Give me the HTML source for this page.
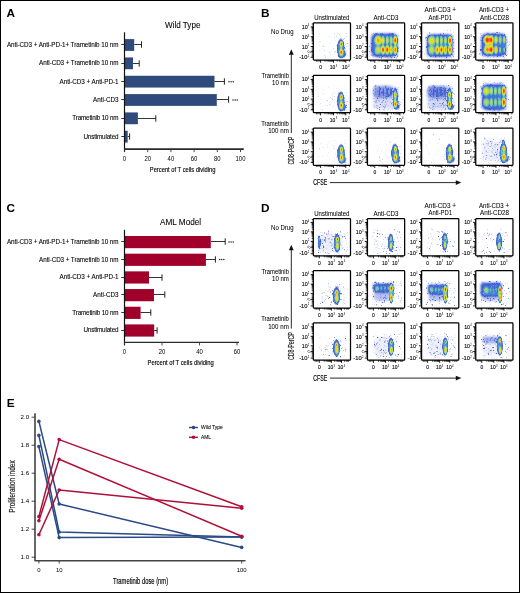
<!DOCTYPE html>
<html><head><meta charset="utf-8"><style>
html,body{margin:0;padding:0;background:#fff;}
svg{display:block;will-change:transform;}
text{font-family:"Liberation Sans", sans-serif;}
</style></head><body>
<svg width="520" height="593" viewBox="0 0 520 593">
<defs>
<filter id="dens" x="-10%" y="-10%" width="120%" height="120%" color-interpolation-filters="sRGB">
  <feGaussianBlur in="SourceAlpha" stdDeviation="0.6"/>
  <feColorMatrix type="matrix" values="0 0 0 1 0  0 0 0 1 0  0 0 0 1 0  0 0 0 1 0"/>
  <feComponentTransfer>
    <feFuncR type="table" tableValues="1 .70 .25 .28 .45 .62 .80 .93 1 .98 .92 .82"/>
    <feFuncG type="table" tableValues="1 .74 .36 .55 .75 .83 .86 .88 .72 .45 .22 .10"/>
    <feFuncB type="table" tableValues="1 .94 .82 .85 .70 .45 .28 .15 .10 .10 .10 .12"/>
    <feFuncA type="table" tableValues="0 .75 1 1 1 1 1 1 1 1 1 1"/>
  </feComponentTransfer>
</filter>
<filter id="soft" x="-30%" y="-30%" width="160%" height="160%"><feGaussianBlur stdDeviation="1.4"/></filter>
<radialGradient id="rg"><stop offset="0" stop-color="#000" stop-opacity="1"/><stop offset="0.25" stop-color="#000" stop-opacity="0.9"/><stop offset="0.5" stop-color="#000" stop-opacity="0.62"/><stop offset="0.75" stop-color="#000" stop-opacity="0.28"/><stop offset="1" stop-color="#000" stop-opacity="0"/></radialGradient>
<radialGradient id="rf"><stop offset="0" stop-color="#000" stop-opacity="1"/><stop offset="0.6" stop-color="#000" stop-opacity="0.92"/><stop offset="0.85" stop-color="#000" stop-opacity="0.55"/><stop offset="1" stop-color="#000" stop-opacity="0"/></radialGradient>
</defs>
<rect x="0" y="0" width="520" height="593" fill="#fff"/>
<text x="6.60" y="16.70" font-size="11.8" fill="#000" font-weight="bold">A</text>
<text x="260.90" y="16.70" font-size="11.8" fill="#000" font-weight="bold">B</text>
<text x="6.50" y="212.20" font-size="11.8" fill="#000" font-weight="bold">C</text>
<text x="261.00" y="212.00" font-size="11.8" fill="#000" font-weight="bold">D</text>
<text x="6.80" y="407.30" font-size="11.8" fill="#000" font-weight="bold">E</text>
<text x="165.00" y="27.70" font-size="9" textLength="35.40" lengthAdjust="spacingAndGlyphs" stroke="#222" stroke-width="0.1">Wild Type</text>
<rect x="125.00" y="39.10" width="9.20" height="11.80" fill="#2e4b7c"/>
<line x1="134.20" y1="44.50" x2="141.50" y2="44.50" stroke="#333" stroke-width="1.0"/>
<line x1="141.50" y1="41.30" x2="141.50" y2="47.70" stroke="#222" stroke-width="1.0"/>
<line x1="121.30" y1="44.50" x2="124.50" y2="44.50" stroke="#333" stroke-width="1.0"/>
<text x="118.50" y="47.00" font-size="6.3" text-anchor="end" textLength="111.60" lengthAdjust="spacing" stroke="#222" stroke-width="0.1">Anti-CD3 + Anti-PD-1+ Trametinib 10 nm</text>
<rect x="125.00" y="57.43" width="8.00" height="11.80" fill="#2e4b7c"/>
<line x1="133.00" y1="63.50" x2="139.20" y2="63.50" stroke="#333" stroke-width="1.0"/>
<line x1="139.20" y1="60.30" x2="139.20" y2="66.70" stroke="#222" stroke-width="1.0"/>
<line x1="121.30" y1="63.50" x2="124.50" y2="63.50" stroke="#333" stroke-width="1.0"/>
<text x="118.50" y="65.33" font-size="6.3" text-anchor="end" textLength="79.40" lengthAdjust="spacing" stroke="#222" stroke-width="0.1">Anti-CD3 + Trametinib 10 nm</text>
<rect x="125.00" y="75.76" width="89.50" height="11.80" fill="#2e4b7c"/>
<line x1="214.50" y1="81.50" x2="224.40" y2="81.50" stroke="#333" stroke-width="1.0"/>
<line x1="224.40" y1="78.30" x2="224.40" y2="84.70" stroke="#222" stroke-width="1.0"/>
<line x1="121.30" y1="81.50" x2="124.50" y2="81.50" stroke="#333" stroke-width="1.0"/>
<text x="118.50" y="83.66" font-size="6.3" text-anchor="end" textLength="58.90" lengthAdjust="spacing" stroke="#222" stroke-width="0.1">Anti-CD3 + Anti-PD-1</text>
<rect x="125.00" y="94.09" width="91.80" height="11.80" fill="#2e4b7c"/>
<line x1="216.80" y1="99.50" x2="228.60" y2="99.50" stroke="#333" stroke-width="1.0"/>
<line x1="228.60" y1="96.30" x2="228.60" y2="102.70" stroke="#222" stroke-width="1.0"/>
<line x1="121.30" y1="99.50" x2="124.50" y2="99.50" stroke="#333" stroke-width="1.0"/>
<text x="118.50" y="101.99" font-size="6.3" text-anchor="end" textLength="25.40" lengthAdjust="spacing" stroke="#222" stroke-width="0.1">Anti-CD3</text>
<rect x="125.00" y="112.42" width="12.90" height="11.80" fill="#2e4b7c"/>
<line x1="137.90" y1="118.50" x2="155.80" y2="118.50" stroke="#333" stroke-width="1.0"/>
<line x1="155.80" y1="115.30" x2="155.80" y2="121.70" stroke="#222" stroke-width="1.0"/>
<line x1="121.30" y1="118.50" x2="124.50" y2="118.50" stroke="#333" stroke-width="1.0"/>
<text x="118.50" y="120.32" font-size="6.3" text-anchor="end" textLength="46.20" lengthAdjust="spacing" stroke="#222" stroke-width="0.1">Trametinib 10 nm</text>
<rect x="125.00" y="130.75" width="2.70" height="11.80" fill="#2e4b7c"/>
<line x1="127.70" y1="136.50" x2="129.60" y2="136.50" stroke="#333" stroke-width="1.0"/>
<line x1="129.60" y1="133.30" x2="129.60" y2="139.70" stroke="#222" stroke-width="1.0"/>
<line x1="121.30" y1="136.50" x2="124.50" y2="136.50" stroke="#333" stroke-width="1.0"/>
<text x="118.50" y="138.65" font-size="6.3" text-anchor="end" textLength="35.10" lengthAdjust="spacing" stroke="#222" stroke-width="0.1">Unstimulated</text>
<circle cx="229.00" cy="81.66" r="0.75" fill="#222"/>
<circle cx="231.10" cy="81.66" r="0.75" fill="#222"/>
<circle cx="233.20" cy="81.66" r="0.75" fill="#222"/>
<circle cx="233.00" cy="99.99" r="0.75" fill="#222"/>
<circle cx="235.10" cy="99.99" r="0.75" fill="#222"/>
<circle cx="237.20" cy="99.99" r="0.75" fill="#222"/>
<line x1="124.50" y1="32.30" x2="124.50" y2="151.90" stroke="#111" stroke-width="1.2"/>
<line x1="124.00" y1="149.10" x2="243.80" y2="149.10" stroke="#2a2a2a" stroke-width="1.7"/>
<line x1="124.50" y1="149.10" x2="124.50" y2="152.10" stroke="#333" stroke-width="0.9"/>
<text x="124.50" y="160.90" font-size="6.3" text-anchor="middle" textLength="3.30" lengthAdjust="spacingAndGlyphs">0</text>
<line x1="147.70" y1="149.10" x2="147.70" y2="152.10" stroke="#333" stroke-width="0.9"/>
<text x="147.70" y="160.90" font-size="6.3" text-anchor="middle" textLength="6.60" lengthAdjust="spacingAndGlyphs">20</text>
<line x1="170.90" y1="149.10" x2="170.90" y2="152.10" stroke="#333" stroke-width="0.9"/>
<text x="170.90" y="160.90" font-size="6.3" text-anchor="middle" textLength="6.60" lengthAdjust="spacingAndGlyphs">40</text>
<line x1="194.10" y1="149.10" x2="194.10" y2="152.10" stroke="#333" stroke-width="0.9"/>
<text x="194.10" y="160.90" font-size="6.3" text-anchor="middle" textLength="6.60" lengthAdjust="spacingAndGlyphs">60</text>
<line x1="217.30" y1="149.10" x2="217.30" y2="152.10" stroke="#333" stroke-width="0.9"/>
<text x="217.30" y="160.90" font-size="6.3" text-anchor="middle" textLength="6.60" lengthAdjust="spacingAndGlyphs">80</text>
<line x1="240.50" y1="149.10" x2="240.50" y2="152.10" stroke="#333" stroke-width="0.9"/>
<text x="240.50" y="160.90" font-size="6.3" text-anchor="middle" textLength="9.90" lengthAdjust="spacingAndGlyphs">100</text>
<text x="149.80" y="171.80" font-size="8" textLength="65.60" lengthAdjust="spacingAndGlyphs" stroke="#222" stroke-width="0.2">Percent of T cells dividing</text>
<text x="160.00" y="225.00" font-size="9" textLength="41.20" lengthAdjust="spacingAndGlyphs" stroke="#222" stroke-width="0.1">AML Model</text>
<rect x="125.00" y="236.00" width="85.80" height="12.20" fill="#a0002a"/>
<line x1="210.80" y1="241.50" x2="225.20" y2="241.50" stroke="#333" stroke-width="1.0"/>
<line x1="225.20" y1="238.30" x2="225.20" y2="244.70" stroke="#222" stroke-width="1.0"/>
<line x1="121.30" y1="241.50" x2="124.50" y2="241.50" stroke="#333" stroke-width="1.0"/>
<text x="118.50" y="243.90" font-size="6.3" text-anchor="end" textLength="111.60" lengthAdjust="spacing" stroke="#222" stroke-width="0.1">Anti-CD3 + Anti-PD-1+ Trametinib 10 nm</text>
<rect x="125.00" y="253.68" width="80.90" height="12.20" fill="#a0002a"/>
<line x1="205.90" y1="259.50" x2="215.40" y2="259.50" stroke="#333" stroke-width="1.0"/>
<line x1="215.40" y1="256.30" x2="215.40" y2="262.70" stroke="#222" stroke-width="1.0"/>
<line x1="121.30" y1="259.50" x2="124.50" y2="259.50" stroke="#333" stroke-width="1.0"/>
<text x="118.50" y="261.58" font-size="6.3" text-anchor="end" textLength="79.40" lengthAdjust="spacing" stroke="#222" stroke-width="0.1">Anti-CD3 + Trametinib 10 nm</text>
<rect x="125.00" y="271.36" width="24.00" height="12.20" fill="#a0002a"/>
<line x1="149.00" y1="277.50" x2="162.00" y2="277.50" stroke="#333" stroke-width="1.0"/>
<line x1="162.00" y1="274.30" x2="162.00" y2="280.70" stroke="#222" stroke-width="1.0"/>
<line x1="121.30" y1="277.50" x2="124.50" y2="277.50" stroke="#333" stroke-width="1.0"/>
<text x="118.50" y="279.26" font-size="6.3" text-anchor="end" textLength="58.90" lengthAdjust="spacing" stroke="#222" stroke-width="0.1">Anti-CD3 + Anti-PD-1</text>
<rect x="125.00" y="289.04" width="29.00" height="12.20" fill="#a0002a"/>
<line x1="154.00" y1="294.50" x2="164.80" y2="294.50" stroke="#333" stroke-width="1.0"/>
<line x1="164.80" y1="291.30" x2="164.80" y2="297.70" stroke="#222" stroke-width="1.0"/>
<line x1="121.30" y1="294.50" x2="124.50" y2="294.50" stroke="#333" stroke-width="1.0"/>
<text x="118.50" y="296.94" font-size="6.3" text-anchor="end" textLength="25.40" lengthAdjust="spacing" stroke="#222" stroke-width="0.1">Anti-CD3</text>
<rect x="125.00" y="306.72" width="15.60" height="12.20" fill="#a0002a"/>
<line x1="140.60" y1="312.50" x2="150.80" y2="312.50" stroke="#333" stroke-width="1.0"/>
<line x1="150.80" y1="309.30" x2="150.80" y2="315.70" stroke="#222" stroke-width="1.0"/>
<line x1="121.30" y1="312.50" x2="124.50" y2="312.50" stroke="#333" stroke-width="1.0"/>
<text x="118.50" y="314.62" font-size="6.3" text-anchor="end" textLength="46.20" lengthAdjust="spacing" stroke="#222" stroke-width="0.1">Trametinib 10 nm</text>
<rect x="125.00" y="324.40" width="29.20" height="12.20" fill="#a0002a"/>
<line x1="154.20" y1="330.50" x2="157.10" y2="330.50" stroke="#333" stroke-width="1.0"/>
<line x1="157.10" y1="327.30" x2="157.10" y2="333.70" stroke="#222" stroke-width="1.0"/>
<line x1="121.30" y1="330.50" x2="124.50" y2="330.50" stroke="#333" stroke-width="1.0"/>
<text x="118.50" y="332.30" font-size="6.3" text-anchor="end" textLength="35.10" lengthAdjust="spacing" stroke="#222" stroke-width="0.1">Unstimulated</text>
<circle cx="229.00" cy="241.90" r="0.75" fill="#222"/>
<circle cx="231.10" cy="241.90" r="0.75" fill="#222"/>
<circle cx="233.20" cy="241.90" r="0.75" fill="#222"/>
<circle cx="219.60" cy="259.58" r="0.75" fill="#222"/>
<circle cx="221.70" cy="259.58" r="0.75" fill="#222"/>
<circle cx="223.80" cy="259.58" r="0.75" fill="#222"/>
<line x1="124.50" y1="229.80" x2="124.50" y2="345.20" stroke="#111" stroke-width="1.2"/>
<line x1="124.00" y1="342.40" x2="239.00" y2="342.40" stroke="#2a2a2a" stroke-width="1.2"/>
<line x1="124.50" y1="342.40" x2="124.50" y2="345.40" stroke="#333" stroke-width="0.9"/>
<text x="124.50" y="354.20" font-size="6.3" text-anchor="middle" textLength="3.30" lengthAdjust="spacingAndGlyphs">0</text>
<line x1="162.00" y1="342.40" x2="162.00" y2="345.40" stroke="#333" stroke-width="0.9"/>
<text x="162.00" y="354.20" font-size="6.3" text-anchor="middle" textLength="6.60" lengthAdjust="spacingAndGlyphs">20</text>
<line x1="199.50" y1="342.40" x2="199.50" y2="345.40" stroke="#333" stroke-width="0.9"/>
<text x="199.50" y="354.20" font-size="6.3" text-anchor="middle" textLength="6.60" lengthAdjust="spacingAndGlyphs">40</text>
<line x1="237.00" y1="342.40" x2="237.00" y2="345.40" stroke="#333" stroke-width="0.9"/>
<text x="237.00" y="354.20" font-size="6.3" text-anchor="middle" textLength="6.60" lengthAdjust="spacingAndGlyphs">60</text>
<text x="147.50" y="365.00" font-size="8" textLength="66.20" lengthAdjust="spacingAndGlyphs" stroke="#222" stroke-width="0.2">Percent of T cells dividing</text>
<path d="M35 413.2V560.8H245.5" fill="none" stroke="#444" stroke-width="1.6" stroke-linejoin="round"/>
<line x1="31.60" y1="557.20" x2="35.00" y2="557.20" stroke="#333" stroke-width="0.9"/>
<text x="29.20" y="559.00" font-size="6.2" text-anchor="end" textLength="8.60" lengthAdjust="spacingAndGlyphs">1.0</text>
<line x1="31.60" y1="529.20" x2="35.00" y2="529.20" stroke="#333" stroke-width="0.9"/>
<text x="29.20" y="531.00" font-size="6.2" text-anchor="end" textLength="8.60" lengthAdjust="spacingAndGlyphs">1.2</text>
<line x1="31.60" y1="501.20" x2="35.00" y2="501.20" stroke="#333" stroke-width="0.9"/>
<text x="29.20" y="503.00" font-size="6.2" text-anchor="end" textLength="8.60" lengthAdjust="spacingAndGlyphs">1.4</text>
<line x1="31.60" y1="473.20" x2="35.00" y2="473.20" stroke="#333" stroke-width="0.9"/>
<text x="29.20" y="475.00" font-size="6.2" text-anchor="end" textLength="8.60" lengthAdjust="spacingAndGlyphs">1.6</text>
<line x1="31.60" y1="445.20" x2="35.00" y2="445.20" stroke="#333" stroke-width="0.9"/>
<text x="29.20" y="447.00" font-size="6.2" text-anchor="end" textLength="8.60" lengthAdjust="spacingAndGlyphs">1.8</text>
<line x1="31.60" y1="417.20" x2="35.00" y2="417.20" stroke="#333" stroke-width="0.9"/>
<text x="29.20" y="419.00" font-size="6.2" text-anchor="end" textLength="8.60" lengthAdjust="spacingAndGlyphs">2.0</text>
<line x1="38.90" y1="560.80" x2="38.90" y2="563.50" stroke="#333" stroke-width="0.9"/>
<text x="38.90" y="572.40" font-size="6.2" text-anchor="middle" textLength="3.30" lengthAdjust="spacingAndGlyphs">0</text>
<line x1="59.18" y1="560.80" x2="59.18" y2="563.50" stroke="#333" stroke-width="0.9"/>
<text x="59.18" y="572.40" font-size="6.2" text-anchor="middle" textLength="6.60" lengthAdjust="spacingAndGlyphs">10</text>
<line x1="241.70" y1="560.80" x2="241.70" y2="563.50" stroke="#333" stroke-width="0.9"/>
<text x="241.70" y="572.40" font-size="6.2" text-anchor="middle" textLength="9.90" lengthAdjust="spacingAndGlyphs">100</text>
<text x="113.10" y="584.20" font-size="8.4" textLength="55.00" lengthAdjust="spacingAndGlyphs" stroke="#222" stroke-width="0.2">Trametinib dose (nm)</text>
<text transform="translate(15.4,512.8) rotate(-90)" font-size="8.9" textLength="52.6" lengthAdjust="spacingAndGlyphs" fill="#222" stroke="#222" stroke-width="0.2">Proliferation index</text>
<polyline points="38.90,421.40 59.18,504.00 241.70,547.40" fill="none" stroke="#2b4a86" stroke-width="1.5" stroke-linejoin="round"/>
<circle cx="38.90" cy="421.40" r="1.8" fill="#2b4a86"/>
<circle cx="59.18" cy="504.00" r="1.8" fill="#2b4a86"/>
<circle cx="241.70" cy="547.40" r="1.8" fill="#2b4a86"/>
<polyline points="38.90,435.40 59.18,532.00 241.70,536.90" fill="none" stroke="#2b4a86" stroke-width="1.5" stroke-linejoin="round"/>
<circle cx="38.90" cy="435.40" r="1.8" fill="#2b4a86"/>
<circle cx="59.18" cy="532.00" r="1.8" fill="#2b4a86"/>
<circle cx="241.70" cy="536.90" r="1.8" fill="#2b4a86"/>
<polyline points="38.90,446.60 59.18,537.60 241.70,536.90" fill="none" stroke="#2b4a86" stroke-width="1.5" stroke-linejoin="round"/>
<circle cx="38.90" cy="446.60" r="1.8" fill="#2b4a86"/>
<circle cx="59.18" cy="537.60" r="1.8" fill="#2b4a86"/>
<circle cx="241.70" cy="536.90" r="1.8" fill="#2b4a86"/>
<polyline points="38.90,516.60 59.18,439.60 241.70,506.80" fill="none" stroke="#b0103a" stroke-width="1.5" stroke-linejoin="round"/>
<circle cx="38.90" cy="516.60" r="1.8" fill="#b0103a"/>
<circle cx="59.18" cy="439.60" r="1.8" fill="#b0103a"/>
<circle cx="241.70" cy="506.80" r="1.8" fill="#b0103a"/>
<polyline points="38.90,520.80 59.18,459.20 241.70,536.20" fill="none" stroke="#b0103a" stroke-width="1.5" stroke-linejoin="round"/>
<circle cx="38.90" cy="520.80" r="1.8" fill="#b0103a"/>
<circle cx="59.18" cy="459.20" r="1.8" fill="#b0103a"/>
<circle cx="241.70" cy="536.20" r="1.8" fill="#b0103a"/>
<polyline points="38.90,534.80 59.18,490.00 241.70,508.20" fill="none" stroke="#b0103a" stroke-width="1.5" stroke-linejoin="round"/>
<circle cx="38.90" cy="534.80" r="1.8" fill="#b0103a"/>
<circle cx="59.18" cy="490.00" r="1.8" fill="#b0103a"/>
<circle cx="241.70" cy="508.20" r="1.8" fill="#b0103a"/>
<line x1="189.00" y1="427.50" x2="197.90" y2="427.50" stroke="#2b4a86" stroke-width="1.4"/>
<circle cx="193.5" cy="427.5" r="1.8" fill="#2b4a86"/>
<text x="201.00" y="429.20" font-size="6.1" textLength="21.70" lengthAdjust="spacingAndGlyphs" stroke="#222" stroke-width="0.1">Wild Type</text>
<line x1="189.00" y1="437.30" x2="197.90" y2="437.30" stroke="#b0103a" stroke-width="1.4"/>
<circle cx="193.5" cy="437.3" r="1.8" fill="#b0103a"/>
<text x="201.00" y="439.00" font-size="6.1" textLength="10.00" lengthAdjust="spacingAndGlyphs" stroke="#222" stroke-width="0.1">AML</text>
<path d="M311.7 43.55h1.6M311.7 41.82h1.6M311.7 40.60h1.6M311.7 39.65h1.6M311.7 38.87h1.6M311.7 38.22h1.6M311.7 37.65h1.6M311.7 37.15h1.6M311.7 33.75h1.6M311.7 32.02h1.6M311.7 30.80h1.6M311.7 29.85h1.6M311.7 29.07h1.6M311.7 28.42h1.6M311.7 27.85h1.6M311.7 27.35h1.6M311.7 23.95h1.6M311.7 47.80h1.6M311.7 49.10h1.6M311.7 50.40h1.6M311.7 51.70h1.6M311.7 53.00h1.6M311.7 54.30h1.6M311.7 55.60h1.6M311.7 56.90h1.6M324.94 60.1v1.6M337.19 60.1v1.6M327.09 60.1v1.6M339.34 60.1v1.6M328.63 60.1v1.6M340.88 60.1v1.6M329.81 60.1v1.6M342.06 60.1v1.6M330.78 60.1v1.6M343.03 60.1v1.6M331.60 60.1v1.6M343.85 60.1v1.6M332.31 60.1v1.6M344.56 60.1v1.6M332.94 60.1v1.6M345.19 60.1v1.6M349.44 60.1v1.6M319.20 60.1v1.6M317.80 60.1v1.6M316.40 60.1v1.6" stroke="#111" stroke-width="0.75" fill="none"/>
<path d="M310.7 46.50h2.6M310.7 36.70h2.6M310.7 26.90h2.6M310.7 51.80h2.6M310.7 57.20h2.6M320.60 60.1v2.6M333.50 60.1v2.6M345.75 60.1v2.6" stroke="#111" stroke-width="0.95" fill="none"/>
<clipPath id="c1"><rect x="313.80" y="23.30" width="36.20" height="36.30"/></clipPath>
<g clip-path="url(#c1)"><g filter="url(#dens)">
<path d="M331.5 56.3h.8v.8h-.8zM318.6 40.7h.8v.8h-.8zM333.5 51.8h.8v.8h-.8zM330.4 53.8h.8v.8h-.8zM340.7 49.3h.8v.8h-.8zM333.9 53.9h.8v.8h-.8zM338.4 43.6h.8v.8h-.8zM321.5 38.7h.8v.8h-.8zM318.8 34.1h.8v.8h-.8zM325.7 41.2h.8v.8h-.8zM332.7 54.5h.8v.8h-.8zM335.6 32.8h.8v.8h-.8zM341.7 48.4h.8v.8h-.8zM324.3 54.6h.8v.8h-.8zM342.7 55.7h.8v.8h-.8zM334.3 52.1h.8v.8h-.8zM319.3 41.1h.8v.8h-.8zM339.1 33.6h.8v.8h-.8zM328.0 46.1h.8v.8h-.8zM341.1 54.4h.8v.8h-.8zM322.2 36.1h.8v.8h-.8zM339.6 46.1h.8v.8h-.8zM321.2 33.8h.8v.8h-.8zM330.7 39.0h.8v.8h-.8zM340.5 52.9h.8v.8h-.8zM334.1 33.1h.8v.8h-.8zM346.4 42.8h.8v.8h-.8zM329.6 54.8h.8v.8h-.8zM327.7 47.6h.8v.8h-.8zM318.7 36.1h.8v.8h-.8zM331.3 50.4h.8v.8h-.8zM328.0 43.4h.8v.8h-.8zM336.3 54.8h.8v.8h-.8zM318.3 50.6h.8v.8h-.8zM329.6 42.7h.8v.8h-.8zM323.2 46.3h.8v.8h-.8zM338.0 48.7h.8v.8h-.8zM340.1 45.8h.8v.8h-.8zM334.1 33.7h.8v.8h-.8zM342.7 43.8h.8v.8h-.8zM332.5 46.1h.8v.8h-.8zM340.1 37.6h.8v.8h-.8zM338.8 57.2h.8v.8h-.8zM337.0 33.1h.8v.8h-.8zM333.1 48.2h.8v.8h-.8zM333.2 54.6h.8v.8h-.8zM329.0 56.3h.8v.8h-.8zM335.8 42.8h.8v.8h-.8zM320.8 39.2h.8v.8h-.8zM330.8 33.3h.8v.8h-.8zM333.5 50.2h.8v.8h-.8zM335.4 54.3h.8v.8h-.8zM331.1 52.7h.8v.8h-.8zM344.4 42.9h.8v.8h-.8zM329.1 41.0h.8v.8h-.8zM335.5 44.2h.8v.8h-.8zM330.3 52.5h.8v.8h-.8zM319.3 50.1h.8v.8h-.8zM321.2 42.8h.8v.8h-.8zM321.6 56.7h.8v.8h-.8zM318.9 40.8h.8v.8h-.8zM319.9 52.3h.8v.8h-.8zM331.1 48.8h.8v.8h-.8zM320.8 48.9h.8v.8h-.8zM340.4 55.5h.8v.8h-.8zM344.1 43.4h.8v.8h-.8zM331.4 34.6h.8v.8h-.8zM327.0 54.7h.8v.8h-.8zM329.8 55.2h.8v.8h-.8zM318.6 55.9h.8v.8h-.8zM343.8 37.3h.8v.8h-.8zM337.3 39.7h.8v.8h-.8zM343.2 41.6h.8v.8h-.8zM321.5 53.0h.8v.8h-.8zM340.9 38.3h.8v.8h-.8zM345.5 44.4h.8v.8h-.8zM339.5 40.2h.8v.8h-.8zM340.9 52.3h.8v.8h-.8zM328.9 50.9h.8v.8h-.8zM331.4 51.1h.8v.8h-.8zM326.7 50.1h.8v.8h-.8zM334.5 52.6h.8v.8h-.8zM341.8 35.3h.8v.8h-.8zM345.2 38.1h.8v.8h-.8zM322.2 48.3h.8v.8h-.8zM339.2 50.6h.8v.8h-.8zM343.6 55.5h.8v.8h-.8zM342.2 56.0h.8v.8h-.8zM339.8 41.5h.8v.8h-.8zM338.6 49.5h.8v.8h-.8zM337.1 49.8h.8v.8h-.8zM343.4 44.9h.8v.8h-.8zM348.6 55.9h.8v.8h-.8zM339.9 48.1h.8v.8h-.8zM347.6 46.2h.8v.8h-.8zM343.7 52.6h.8v.8h-.8zM345.2 43.7h.8v.8h-.8zM340.6 51.1h.8v.8h-.8zM340.8 49.3h.8v.8h-.8zM343.0 50.0h.8v.8h-.8zM345.1 53.5h.8v.8h-.8zM333.4 58.4h.8v.8h-.8zM344.2 54.1h.8v.8h-.8zM344.0 57.8h.8v.8h-.8zM344.7 47.2h.8v.8h-.8zM339.2 43.9h.8v.8h-.8zM351.0 58.8h.8v.8h-.8zM339.2 53.0h.8v.8h-.8zM340.1 47.2h.8v.8h-.8zM337.6 49.9h.8v.8h-.8zM344.4 46.8h.8v.8h-.8zM342.4 55.7h.8v.8h-.8zM345.9 40.1h.8v.8h-.8zM341.0 41.3h.8v.8h-.8zM337.2 54.6h.8v.8h-.8zM343.3 42.7h.8v.8h-.8zM339.1 45.1h.8v.8h-.8zM341.0 52.6h.8v.8h-.8zM338.5 50.1h.8v.8h-.8zM342.9 43.2h.8v.8h-.8zM338.9 52.7h.8v.8h-.8zM338.0 46.5h.8v.8h-.8z" fill-opacity="0.056"/>
<path d="M336.8 56.7h.8v.8h-.8zM341.7 35.9h.8v.8h-.8zM326.1 45.7h.8v.8h-.8zM333.9 33.2h.8v.8h-.8zM343.5 50.3h.8v.8h-.8zM330.1 37.5h.8v.8h-.8zM320.7 48.8h.8v.8h-.8zM319.0 44.9h.8v.8h-.8zM318.9 36.6h.8v.8h-.8zM330.1 52.4h.8v.8h-.8zM343.5 45.8h.8v.8h-.8zM346.6 52.6h.8v.8h-.8zM339.5 34.2h.8v.8h-.8zM335.5 40.1h.8v.8h-.8zM330.1 42.9h.8v.8h-.8zM329.9 41.6h.8v.8h-.8zM338.2 44.1h.8v.8h-.8zM322.8 56.1h.8v.8h-.8zM326.0 55.7h.8v.8h-.8zM332.5 44.4h.8v.8h-.8zM341.0 47.1h.8v.8h-.8zM344.8 48.1h.8v.8h-.8zM340.4 49.1h.8v.8h-.8zM332.3 45.7h.8v.8h-.8zM327.4 52.8h.8v.8h-.8zM344.7 36.6h.8v.8h-.8zM329.7 49.6h.8v.8h-.8zM335.7 34.9h.8v.8h-.8zM347.0 46.3h.8v.8h-.8zM340.3 37.8h.8v.8h-.8zM339.9 41.5h.8v.8h-.8zM339.5 46.4h.8v.8h-.8zM323.1 47.5h.8v.8h-.8zM332.8 42.2h.8v.8h-.8zM346.1 54.4h.8v.8h-.8zM330.4 53.9h.8v.8h-.8zM337.5 55.3h.8v.8h-.8zM338.0 47.3h.8v.8h-.8zM328.9 52.8h.8v.8h-.8zM345.8 40.7h.8v.8h-.8zM334.8 38.2h.8v.8h-.8zM343.5 61.4h.8v.8h-.8zM342.7 60.6h.8v.8h-.8zM337.6 48.1h.8v.8h-.8zM342.1 46.9h.8v.8h-.8zM341.7 37.2h.8v.8h-.8zM346.1 51.5h.8v.8h-.8zM344.9 50.8h.8v.8h-.8zM347.7 44.9h.8v.8h-.8zM350.0 46.1h.8v.8h-.8zM340.4 52.9h.8v.8h-.8zM340.1 51.1h.8v.8h-.8zM345.6 50.3h.8v.8h-.8zM336.7 49.8h.8v.8h-.8zM341.2 53.6h.8v.8h-.8zM350.0 41.2h.8v.8h-.8zM346.7 59.3h.8v.8h-.8zM345.7 48.9h.8v.8h-.8zM350.5 54.0h.8v.8h-.8zM344.1 51.1h.8v.8h-.8zM342.5 55.0h.8v.8h-.8zM351.3 46.6h.8v.8h-.8zM337.6 51.2h.8v.8h-.8zM338.6 50.1h.8v.8h-.8zM343.0 49.1h.8v.8h-.8zM344.0 55.7h.8v.8h-.8zM342.9 61.4h.8v.8h-.8zM341.1 45.7h.8v.8h-.8zM342.2 46.1h.8v.8h-.8zM345.2 42.6h.8v.8h-.8zM338.6 51.1h.8v.8h-.8zM349.6 52.8h.8v.8h-.8zM344.3 45.0h.8v.8h-.8zM335.6 46.2h.8v.8h-.8zM343.2 66.3h.8v.8h-.8zM345.8 49.3h.8v.8h-.8zM345.5 57.1h.8v.8h-.8zM343.9 53.2h.8v.8h-.8zM342.8 45.1h.8v.8h-.8zM342.4 51.4h.8v.8h-.8zM341.5 47.6h.8v.8h-.8zM340.7 48.2h.8v.8h-.8zM344.9 44.3h.8v.8h-.8zM335.5 47.7h.8v.8h-.8zM346.4 39.3h.8v.8h-.8zM336.6 42.8h.8v.8h-.8zM346.1 52.0h.8v.8h-.8zM342.1 50.1h.8v.8h-.8zM342.1 41.2h.8v.8h-.8z" fill-opacity="0.088"/>
<path d="M322.2 45.4h.8v.8h-.8zM336.7 44.6h.8v.8h-.8zM323.6 50.2h.8v.8h-.8zM325.1 55.7h.8v.8h-.8zM322.3 45.7h.8v.8h-.8zM319.8 40.9h.8v.8h-.8zM339.6 47.9h.8v.8h-.8zM333.9 34.8h.8v.8h-.8zM335.9 36.2h.8v.8h-.8zM318.6 33.8h.8v.8h-.8zM329.2 35.5h.8v.8h-.8zM330.8 36.7h.8v.8h-.8zM334.5 41.4h.8v.8h-.8zM331.8 40.6h.8v.8h-.8zM346.2 33.0h.8v.8h-.8zM340.2 52.0h.8v.8h-.8zM345.9 42.7h.8v.8h-.8zM339.0 40.1h.8v.8h-.8zM346.2 35.9h.8v.8h-.8zM335.8 44.9h.8v.8h-.8zM335.9 36.6h.8v.8h-.8zM325.6 34.8h.8v.8h-.8zM322.6 57.7h.8v.8h-.8zM345.7 53.4h.8v.8h-.8zM323.6 46.1h.8v.8h-.8zM327.8 36.4h.8v.8h-.8zM340.0 48.5h.8v.8h-.8zM324.1 54.7h.8v.8h-.8zM328.9 52.2h.8v.8h-.8zM325.2 57.3h.8v.8h-.8zM337.2 33.8h.8v.8h-.8zM339.1 44.2h.8v.8h-.8zM324.3 50.4h.8v.8h-.8zM340.3 36.2h.8v.8h-.8zM338.9 34.4h.8v.8h-.8zM334.1 37.2h.8v.8h-.8zM335.0 51.0h.8v.8h-.8zM337.9 37.8h.8v.8h-.8zM342.0 41.2h.8v.8h-.8zM334.4 51.6h.8v.8h-.8zM329.5 50.7h.8v.8h-.8zM341.1 49.0h.8v.8h-.8zM336.5 62.5h.8v.8h-.8zM339.0 51.3h.8v.8h-.8zM341.5 47.8h.8v.8h-.8zM343.8 38.1h.8v.8h-.8zM337.5 52.3h.8v.8h-.8zM333.2 48.4h.8v.8h-.8zM347.7 55.7h.8v.8h-.8zM347.0 43.1h.8v.8h-.8zM344.8 54.4h.8v.8h-.8zM354.3 42.2h.8v.8h-.8zM340.3 47.4h.8v.8h-.8zM341.1 54.7h.8v.8h-.8zM345.7 51.5h.8v.8h-.8zM343.8 52.0h.8v.8h-.8zM338.3 55.5h.8v.8h-.8zM339.6 46.3h.8v.8h-.8zM345.4 50.0h.8v.8h-.8zM338.3 56.3h.8v.8h-.8zM341.5 53.7h.8v.8h-.8zM343.7 41.6h.8v.8h-.8zM336.9 46.5h.8v.8h-.8zM335.8 49.5h.8v.8h-.8zM342.0 45.4h.8v.8h-.8zM342.1 42.3h.8v.8h-.8zM346.2 46.2h.8v.8h-.8zM343.0 39.1h.8v.8h-.8zM343.0 46.9h.8v.8h-.8zM339.5 50.5h.8v.8h-.8zM341.6 50.9h.8v.8h-.8zM343.9 47.0h.8v.8h-.8zM347.9 42.8h.8v.8h-.8zM336.4 44.5h.8v.8h-.8zM339.0 46.9h.8v.8h-.8zM344.7 47.9h.8v.8h-.8zM344.4 54.5h.8v.8h-.8zM350.3 57.6h.8v.8h-.8zM340.8 41.0h.8v.8h-.8z" fill-opacity="0.136"/>
<ellipse cx="340.80" cy="48.60" rx="4.2" ry="11.0" fill="url(#rf)" fill-opacity="0.25"/>
<ellipse cx="342.70" cy="54.10" rx="4" ry="4.5" fill="url(#rf)" fill-opacity="0.16"/>
<ellipse cx="341.20" cy="44.10" rx="2.0" ry="3.6" fill="url(#rg)" fill-opacity="0.86"/>
<ellipse cx="341.20" cy="52.10" rx="2.2" ry="4.3" fill="url(#rg)" fill-opacity="0.8"/>
<ellipse cx="341.20" cy="48.10" rx="1.4" ry="2.5" fill="url(#rg)" fill-opacity="0.22"/>
</g></g>
<rect x="313.30" y="22.80" width="37.2" height="37.3" rx="0.8" fill="none" stroke="#000" stroke-width="1.25"/>
<text x="307.60" y="28.70" font-size="4.8" text-anchor="end" textLength="5.90" lengthAdjust="spacingAndGlyphs" stroke="#222" stroke-width="0.12">10</text>
<text x="307.80" y="26.40" font-size="3.0" textLength="1.50" lengthAdjust="spacingAndGlyphs">4</text>
<text x="307.60" y="38.90" font-size="4.8" text-anchor="end" textLength="5.90" lengthAdjust="spacingAndGlyphs" stroke="#222" stroke-width="0.12">10</text>
<text x="307.80" y="36.60" font-size="3.0" textLength="1.50" lengthAdjust="spacingAndGlyphs">3</text>
<text x="307.60" y="48.70" font-size="4.8" text-anchor="end" textLength="5.90" lengthAdjust="spacingAndGlyphs" stroke="#222" stroke-width="0.12">10</text>
<text x="307.80" y="46.40" font-size="3.0" textLength="1.50" lengthAdjust="spacingAndGlyphs">2</text>
<text transform="translate(309.10,51.80) rotate(-60)" font-size="4.6" text-anchor="middle" dy="1.6" fill="#222">0</text>
<text x="307.60" y="58.90" font-size="4.8" text-anchor="end" textLength="8.40" lengthAdjust="spacingAndGlyphs" stroke="#222" stroke-width="0.12">-10</text>
<text x="307.80" y="56.60" font-size="3.0" textLength="1.50" lengthAdjust="spacingAndGlyphs">2</text>
<text x="320.60" y="68.90" font-size="4.8" text-anchor="middle" textLength="2.75" lengthAdjust="spacingAndGlyphs" stroke="#222" stroke-width="0.12">0</text>
<text x="329.85" y="68.90" font-size="4.8" textLength="5.50" lengthAdjust="spacingAndGlyphs" stroke="#222" stroke-width="0.12">10</text>
<text x="335.65" y="66.60" font-size="3.0" textLength="1.50" lengthAdjust="spacingAndGlyphs">3</text>
<text x="342.10" y="68.90" font-size="4.8" textLength="5.50" lengthAdjust="spacingAndGlyphs" stroke="#222" stroke-width="0.12">10</text>
<text x="347.90" y="66.60" font-size="3.0" textLength="1.50" lengthAdjust="spacingAndGlyphs">4</text>
<path d="M365.8 43.55h1.6M365.8 41.82h1.6M365.8 40.60h1.6M365.8 39.65h1.6M365.8 38.87h1.6M365.8 38.22h1.6M365.8 37.65h1.6M365.8 37.15h1.6M365.8 33.75h1.6M365.8 32.02h1.6M365.8 30.80h1.6M365.8 29.85h1.6M365.8 29.07h1.6M365.8 28.42h1.6M365.8 27.85h1.6M365.8 27.35h1.6M365.8 23.95h1.6M365.8 47.80h1.6M365.8 49.10h1.6M365.8 50.40h1.6M365.8 51.70h1.6M365.8 53.00h1.6M365.8 54.30h1.6M365.8 55.60h1.6M365.8 56.90h1.6M379.09 60.1v1.6M391.34 60.1v1.6M381.24 60.1v1.6M393.49 60.1v1.6M382.78 60.1v1.6M395.03 60.1v1.6M383.96 60.1v1.6M396.21 60.1v1.6M384.93 60.1v1.6M397.18 60.1v1.6M385.75 60.1v1.6M398.00 60.1v1.6M386.46 60.1v1.6M398.71 60.1v1.6M387.09 60.1v1.6M399.34 60.1v1.6M403.59 60.1v1.6M373.35 60.1v1.6M371.95 60.1v1.6M370.55 60.1v1.6" stroke="#111" stroke-width="0.75" fill="none"/>
<path d="M364.8 46.50h2.6M364.8 36.70h2.6M364.8 26.90h2.6M364.8 51.80h2.6M364.8 57.20h2.6M374.75 60.1v2.6M387.65 60.1v2.6M399.90 60.1v2.6" stroke="#111" stroke-width="0.95" fill="none"/>
<clipPath id="c2"><rect x="367.95" y="23.30" width="36.20" height="36.30"/></clipPath>
<g clip-path="url(#c2)"><g filter="url(#dens)">
<rect x="369.95" y="32.30" width="29.00" height="26.00" rx="5" fill-opacity="0.1" filter="url(#soft)"/>
<rect x="371.95" y="34.30" width="25.00" height="22.00" rx="5" fill-opacity="0.14" filter="url(#soft)"/>
<path d="M374.6 56.5h.8v.8h-.8zM375.9 47.6h.8v.8h-.8zM376.5 54.7h.8v.8h-.8zM394.5 47.9h.8v.8h-.8zM392.0 45.4h.8v.8h-.8zM396.0 41.9h.8v.8h-.8zM387.1 34.0h.8v.8h-.8zM393.4 53.5h.8v.8h-.8zM385.0 38.2h.8v.8h-.8zM390.5 38.0h.8v.8h-.8zM374.6 36.7h.8v.8h-.8zM372.5 35.9h.8v.8h-.8zM377.0 48.4h.8v.8h-.8zM377.2 52.0h.8v.8h-.8zM391.2 46.0h.8v.8h-.8zM392.1 51.1h.8v.8h-.8zM391.0 57.4h.8v.8h-.8zM377.6 41.5h.8v.8h-.8zM375.5 50.8h.8v.8h-.8zM387.2 43.7h.8v.8h-.8zM371.4 49.9h.8v.8h-.8zM374.0 42.9h.8v.8h-.8zM387.0 46.5h.8v.8h-.8zM371.8 34.5h.8v.8h-.8zM389.3 57.8h.8v.8h-.8zM391.0 40.8h.8v.8h-.8zM381.4 57.7h.8v.8h-.8zM390.0 45.2h.8v.8h-.8zM371.6 50.6h.8v.8h-.8zM381.1 48.5h.8v.8h-.8zM395.4 54.0h.8v.8h-.8zM376.6 50.7h.8v.8h-.8zM396.8 42.8h.8v.8h-.8zM381.6 39.3h.8v.8h-.8zM389.0 36.1h.8v.8h-.8zM395.5 45.5h.8v.8h-.8zM382.6 34.0h.8v.8h-.8zM382.8 42.9h.8v.8h-.8zM397.1 56.0h.8v.8h-.8zM393.1 32.9h.8v.8h-.8zM385.2 51.9h.8v.8h-.8zM391.4 40.7h.8v.8h-.8zM375.0 51.6h.8v.8h-.8zM373.2 33.1h.8v.8h-.8zM392.1 42.6h.8v.8h-.8zM390.0 56.3h.8v.8h-.8zM388.8 40.7h.8v.8h-.8zM387.0 45.8h.8v.8h-.8zM370.9 34.3h.8v.8h-.8zM397.3 56.0h.8v.8h-.8zM391.4 33.1h.8v.8h-.8zM393.8 47.3h.8v.8h-.8zM387.0 52.2h.8v.8h-.8zM386.1 52.7h.8v.8h-.8zM390.4 52.4h.8v.8h-.8zM387.0 54.8h.8v.8h-.8zM381.6 46.7h.8v.8h-.8zM379.7 41.3h.8v.8h-.8zM391.6 56.7h.8v.8h-.8zM381.4 39.9h.8v.8h-.8zM379.3 49.6h.8v.8h-.8zM396.6 39.5h.8v.8h-.8zM371.3 48.7h.8v.8h-.8zM393.8 35.3h.8v.8h-.8zM373.0 53.4h.8v.8h-.8zM373.2 46.1h.8v.8h-.8zM385.4 57.3h.8v.8h-.8zM392.8 42.5h.8v.8h-.8zM381.7 39.4h.8v.8h-.8zM389.6 55.1h.8v.8h-.8zM376.8 39.5h.8v.8h-.8zM380.3 50.3h.8v.8h-.8zM377.1 33.3h.8v.8h-.8zM377.1 37.8h.8v.8h-.8zM382.8 53.5h.8v.8h-.8zM374.9 36.9h.8v.8h-.8zM379.5 52.0h.8v.8h-.8zM387.6 57.0h.8v.8h-.8zM397.2 47.1h.8v.8h-.8zM396.9 47.2h.8v.8h-.8zM400.3 50.3h.8v.8h-.8zM391.4 34.1h.8v.8h-.8zM388.6 40.8h.8v.8h-.8zM388.1 58.5h.8v.8h-.8zM385.3 57.0h.8v.8h-.8zM397.8 32.1h.8v.8h-.8zM383.3 52.3h.8v.8h-.8zM376.8 47.8h.8v.8h-.8zM398.2 48.1h.8v.8h-.8zM395.0 37.8h.8v.8h-.8zM393.4 42.1h.8v.8h-.8zM397.9 46.6h.8v.8h-.8zM388.0 40.8h.8v.8h-.8zM401.2 43.1h.8v.8h-.8zM386.1 50.6h.8v.8h-.8zM381.1 57.4h.8v.8h-.8zM400.4 49.4h.8v.8h-.8zM386.4 44.5h.8v.8h-.8zM372.7 47.1h.8v.8h-.8zM400.0 31.8h.8v.8h-.8zM399.2 35.8h.8v.8h-.8zM380.3 38.0h.8v.8h-.8zM378.2 44.7h.8v.8h-.8z" fill-opacity="0.070"/>
<path d="M394.0 40.0h.8v.8h-.8zM376.1 42.6h.8v.8h-.8zM377.2 42.5h.8v.8h-.8zM381.9 33.3h.8v.8h-.8zM390.5 57.6h.8v.8h-.8zM398.1 34.8h.8v.8h-.8zM383.6 51.5h.8v.8h-.8zM380.0 51.1h.8v.8h-.8zM387.6 52.8h.8v.8h-.8zM382.2 44.2h.8v.8h-.8zM381.7 55.7h.8v.8h-.8zM380.7 44.6h.8v.8h-.8zM387.5 57.8h.8v.8h-.8zM382.1 55.6h.8v.8h-.8zM398.0 50.4h.8v.8h-.8zM372.5 54.9h.8v.8h-.8zM382.1 47.9h.8v.8h-.8zM381.4 39.7h.8v.8h-.8zM375.5 52.8h.8v.8h-.8zM379.7 42.0h.8v.8h-.8zM371.5 48.6h.8v.8h-.8zM380.5 52.3h.8v.8h-.8zM389.5 43.7h.8v.8h-.8zM380.2 38.7h.8v.8h-.8zM378.5 38.2h.8v.8h-.8zM375.9 33.4h.8v.8h-.8zM383.5 55.4h.8v.8h-.8zM373.4 51.6h.8v.8h-.8zM374.7 44.6h.8v.8h-.8zM370.7 55.0h.8v.8h-.8zM373.6 40.6h.8v.8h-.8zM395.7 45.4h.8v.8h-.8zM375.5 40.7h.8v.8h-.8zM397.3 54.9h.8v.8h-.8zM389.7 33.8h.8v.8h-.8zM392.1 45.8h.8v.8h-.8zM382.0 38.9h.8v.8h-.8zM373.1 43.8h.8v.8h-.8zM391.5 57.8h.8v.8h-.8zM376.9 56.3h.8v.8h-.8zM384.5 35.3h.8v.8h-.8zM397.1 56.2h.8v.8h-.8zM376.0 36.6h.8v.8h-.8zM399.5 46.8h.8v.8h-.8zM370.9 43.2h.8v.8h-.8zM376.6 53.9h.8v.8h-.8zM371.6 50.6h.8v.8h-.8z" fill-opacity="0.110"/>
<path d="M375.4 40.7h.8v.8h-.8zM378.4 42.3h.8v.8h-.8zM373.1 36.4h.8v.8h-.8zM394.1 57.0h.8v.8h-.8zM396.2 57.6h.8v.8h-.8zM388.1 45.6h.8v.8h-.8zM377.0 44.5h.8v.8h-.8zM394.6 55.2h.8v.8h-.8zM371.4 47.3h.8v.8h-.8zM376.4 53.8h.8v.8h-.8zM391.7 49.5h.8v.8h-.8zM384.6 53.6h.8v.8h-.8zM391.9 42.8h.8v.8h-.8zM381.6 45.3h.8v.8h-.8zM392.8 34.5h.8v.8h-.8zM391.4 37.9h.8v.8h-.8zM388.6 36.9h.8v.8h-.8zM380.1 47.9h.8v.8h-.8zM393.7 36.0h.8v.8h-.8zM392.5 41.7h.8v.8h-.8zM375.4 33.2h.8v.8h-.8zM373.3 53.3h.8v.8h-.8zM380.8 41.3h.8v.8h-.8zM391.9 33.4h.8v.8h-.8zM371.7 44.8h.8v.8h-.8zM386.6 55.8h.8v.8h-.8zM391.3 45.5h.8v.8h-.8zM374.4 34.4h.8v.8h-.8zM390.6 43.7h.8v.8h-.8zM395.1 48.4h.8v.8h-.8zM388.7 44.2h.8v.8h-.8zM391.9 38.6h.8v.8h-.8zM375.8 53.0h.8v.8h-.8zM388.8 33.5h.8v.8h-.8zM382.2 38.0h.8v.8h-.8zM379.4 57.3h.8v.8h-.8zM391.2 49.4h.8v.8h-.8zM392.4 40.8h.8v.8h-.8zM375.6 34.8h.8v.8h-.8zM376.0 33.2h.8v.8h-.8zM380.5 33.4h.8v.8h-.8zM396.5 51.5h.8v.8h-.8zM373.4 39.4h.8v.8h-.8zM381.2 57.7h.8v.8h-.8zM396.1 37.6h.8v.8h-.8zM368.9 46.0h.8v.8h-.8zM375.5 52.4h.8v.8h-.8zM388.8 54.4h.8v.8h-.8zM369.1 50.9h.8v.8h-.8zM378.4 41.0h.8v.8h-.8z" fill-opacity="0.170"/>
<ellipse cx="378.25" cy="40.40" rx="4.64" ry="6.09" fill="url(#rg)" fill-opacity="0.72"/>
<ellipse cx="383.05" cy="40.40" rx="2.17" ry="5.65" fill="url(#rg)" fill-opacity="0.56"/>
<ellipse cx="387.25" cy="40.40" rx="2.03" ry="5.65" fill="url(#rg)" fill-opacity="0.47"/>
<ellipse cx="391.05" cy="40.40" rx="2.03" ry="5.65" fill="url(#rg)" fill-opacity="0.42"/>
<ellipse cx="395.35" cy="40.40" rx="2.46" ry="6.09" fill="url(#rg)" fill-opacity="0.9"/>
<ellipse cx="378.25" cy="49.80" rx="4.35" ry="5.65" fill="url(#rg)" fill-opacity="0.46"/>
<ellipse cx="383.05" cy="49.80" rx="2.61" ry="5.65" fill="url(#rg)" fill-opacity="0.9"/>
<ellipse cx="387.25" cy="49.80" rx="2.61" ry="5.65" fill="url(#rg)" fill-opacity="0.92"/>
<ellipse cx="391.05" cy="49.80" rx="2.32" ry="5.65" fill="url(#rg)" fill-opacity="0.7"/>
<ellipse cx="395.35" cy="49.80" rx="2.46" ry="6.09" fill="url(#rg)" fill-opacity="0.8"/>
</g></g>
<rect x="367.45" y="22.80" width="37.2" height="37.3" rx="0.8" fill="none" stroke="#000" stroke-width="1.25"/>
<text x="361.75" y="28.70" font-size="4.8" text-anchor="end" textLength="5.90" lengthAdjust="spacingAndGlyphs" stroke="#222" stroke-width="0.12">10</text>
<text x="361.95" y="26.40" font-size="3.0" textLength="1.50" lengthAdjust="spacingAndGlyphs">4</text>
<text x="361.75" y="38.90" font-size="4.8" text-anchor="end" textLength="5.90" lengthAdjust="spacingAndGlyphs" stroke="#222" stroke-width="0.12">10</text>
<text x="361.95" y="36.60" font-size="3.0" textLength="1.50" lengthAdjust="spacingAndGlyphs">3</text>
<text x="361.75" y="48.70" font-size="4.8" text-anchor="end" textLength="5.90" lengthAdjust="spacingAndGlyphs" stroke="#222" stroke-width="0.12">10</text>
<text x="361.95" y="46.40" font-size="3.0" textLength="1.50" lengthAdjust="spacingAndGlyphs">2</text>
<text transform="translate(363.25,51.80) rotate(-60)" font-size="4.6" text-anchor="middle" dy="1.6" fill="#222">0</text>
<text x="361.75" y="58.90" font-size="4.8" text-anchor="end" textLength="8.40" lengthAdjust="spacingAndGlyphs" stroke="#222" stroke-width="0.12">-10</text>
<text x="361.95" y="56.60" font-size="3.0" textLength="1.50" lengthAdjust="spacingAndGlyphs">2</text>
<text x="374.75" y="68.90" font-size="4.8" text-anchor="middle" textLength="2.75" lengthAdjust="spacingAndGlyphs" stroke="#222" stroke-width="0.12">0</text>
<text x="384.00" y="68.90" font-size="4.8" textLength="5.50" lengthAdjust="spacingAndGlyphs" stroke="#222" stroke-width="0.12">10</text>
<text x="389.80" y="66.60" font-size="3.0" textLength="1.50" lengthAdjust="spacingAndGlyphs">3</text>
<text x="396.25" y="68.90" font-size="4.8" textLength="5.50" lengthAdjust="spacingAndGlyphs" stroke="#222" stroke-width="0.12">10</text>
<text x="402.05" y="66.60" font-size="3.0" textLength="1.50" lengthAdjust="spacingAndGlyphs">4</text>
<path d="M420.0 43.55h1.6M420.0 41.82h1.6M420.0 40.60h1.6M420.0 39.65h1.6M420.0 38.87h1.6M420.0 38.22h1.6M420.0 37.65h1.6M420.0 37.15h1.6M420.0 33.75h1.6M420.0 32.02h1.6M420.0 30.80h1.6M420.0 29.85h1.6M420.0 29.07h1.6M420.0 28.42h1.6M420.0 27.85h1.6M420.0 27.35h1.6M420.0 23.95h1.6M420.0 47.80h1.6M420.0 49.10h1.6M420.0 50.40h1.6M420.0 51.70h1.6M420.0 53.00h1.6M420.0 54.30h1.6M420.0 55.60h1.6M420.0 56.90h1.6M433.24 60.1v1.6M445.49 60.1v1.6M435.39 60.1v1.6M447.64 60.1v1.6M436.93 60.1v1.6M449.18 60.1v1.6M438.11 60.1v1.6M450.36 60.1v1.6M439.08 60.1v1.6M451.33 60.1v1.6M439.90 60.1v1.6M452.15 60.1v1.6M440.61 60.1v1.6M452.86 60.1v1.6M441.24 60.1v1.6M453.49 60.1v1.6M457.74 60.1v1.6M427.50 60.1v1.6M426.10 60.1v1.6M424.70 60.1v1.6" stroke="#111" stroke-width="0.75" fill="none"/>
<path d="M419.0 46.50h2.6M419.0 36.70h2.6M419.0 26.90h2.6M419.0 51.80h2.6M419.0 57.20h2.6M428.90 60.1v2.6M441.80 60.1v2.6M454.05 60.1v2.6" stroke="#111" stroke-width="0.95" fill="none"/>
<clipPath id="c3"><rect x="422.10" y="23.30" width="36.20" height="36.30"/></clipPath>
<g clip-path="url(#c3)"><g filter="url(#dens)">
<rect x="425.60" y="33.10" width="28.50" height="25.10" rx="5" fill-opacity="0.1" filter="url(#soft)"/>
<rect x="427.60" y="35.10" width="24.50" height="21.10" rx="5" fill-opacity="0.14" filter="url(#soft)"/>
<path d="M438.5 36.0h.8v.8h-.8zM427.6 37.6h.8v.8h-.8zM435.6 55.8h.8v.8h-.8zM437.0 39.2h.8v.8h-.8zM448.1 55.0h.8v.8h-.8zM428.7 40.2h.8v.8h-.8zM435.0 45.5h.8v.8h-.8zM434.5 53.9h.8v.8h-.8zM433.8 33.5h.8v.8h-.8zM440.0 36.1h.8v.8h-.8zM453.2 42.1h.8v.8h-.8zM429.0 41.2h.8v.8h-.8zM429.1 52.2h.8v.8h-.8zM438.2 34.5h.8v.8h-.8zM439.6 44.7h.8v.8h-.8zM450.5 44.9h.8v.8h-.8zM430.0 53.0h.8v.8h-.8zM436.9 34.8h.8v.8h-.8zM427.9 53.1h.8v.8h-.8zM427.6 44.5h.8v.8h-.8zM442.8 47.0h.8v.8h-.8zM428.3 54.4h.8v.8h-.8zM436.5 53.3h.8v.8h-.8zM426.8 46.1h.8v.8h-.8zM449.6 48.4h.8v.8h-.8zM448.2 55.0h.8v.8h-.8zM432.2 46.5h.8v.8h-.8zM442.4 43.2h.8v.8h-.8zM448.7 40.0h.8v.8h-.8zM433.1 35.7h.8v.8h-.8zM433.6 34.7h.8v.8h-.8zM443.2 37.3h.8v.8h-.8zM434.0 37.7h.8v.8h-.8zM434.0 49.4h.8v.8h-.8zM430.5 54.9h.8v.8h-.8zM448.5 45.7h.8v.8h-.8zM427.3 44.6h.8v.8h-.8zM433.1 47.5h.8v.8h-.8zM431.4 55.5h.8v.8h-.8zM429.1 33.1h.8v.8h-.8zM440.8 56.4h.8v.8h-.8zM442.4 54.6h.8v.8h-.8zM431.1 43.4h.8v.8h-.8zM448.5 38.6h.8v.8h-.8zM428.8 39.1h.8v.8h-.8zM429.6 43.9h.8v.8h-.8zM435.7 38.5h.8v.8h-.8zM426.9 41.1h.8v.8h-.8zM429.3 50.6h.8v.8h-.8zM452.9 55.3h.8v.8h-.8zM444.8 53.6h.8v.8h-.8zM453.4 57.1h.8v.8h-.8zM450.4 39.2h.8v.8h-.8zM449.4 35.8h.8v.8h-.8zM432.9 39.3h.8v.8h-.8zM442.5 45.8h.8v.8h-.8zM428.6 42.1h.8v.8h-.8zM447.4 55.3h.8v.8h-.8zM441.4 49.5h.8v.8h-.8zM427.6 43.8h.8v.8h-.8zM449.1 45.4h.8v.8h-.8zM428.9 35.0h.8v.8h-.8zM442.4 37.9h.8v.8h-.8zM428.2 49.3h.8v.8h-.8zM447.1 53.7h.8v.8h-.8zM426.3 39.8h.8v.8h-.8zM453.1 44.7h.8v.8h-.8zM442.7 47.1h.8v.8h-.8zM427.1 36.4h.8v.8h-.8zM441.1 35.8h.8v.8h-.8zM426.7 52.8h.8v.8h-.8zM430.5 55.1h.8v.8h-.8zM452.2 55.3h.8v.8h-.8zM431.4 50.1h.8v.8h-.8zM432.4 47.8h.8v.8h-.8zM448.8 39.5h.8v.8h-.8zM439.8 35.7h.8v.8h-.8zM446.7 33.5h.8v.8h-.8zM439.6 37.8h.8v.8h-.8zM433.2 55.3h.8v.8h-.8zM429.1 46.4h.8v.8h-.8zM442.3 31.5h.8v.8h-.8zM446.2 41.5h.8v.8h-.8zM426.8 33.6h.8v.8h-.8zM450.8 43.5h.8v.8h-.8zM453.5 54.0h.8v.8h-.8zM433.0 36.1h.8v.8h-.8zM444.1 30.0h.8v.8h-.8zM427.5 44.1h.8v.8h-.8zM435.1 53.7h.8v.8h-.8zM434.0 49.9h.8v.8h-.8z" fill-opacity="0.070"/>
<path d="M429.4 55.1h.8v.8h-.8zM433.9 51.3h.8v.8h-.8zM426.5 46.7h.8v.8h-.8zM440.6 43.0h.8v.8h-.8zM432.0 42.1h.8v.8h-.8zM429.6 51.3h.8v.8h-.8zM437.9 47.8h.8v.8h-.8zM430.3 56.3h.8v.8h-.8zM448.4 50.4h.8v.8h-.8zM440.7 40.0h.8v.8h-.8zM431.3 45.1h.8v.8h-.8zM431.7 54.7h.8v.8h-.8zM431.1 35.0h.8v.8h-.8zM427.2 57.6h.8v.8h-.8zM427.8 47.1h.8v.8h-.8zM449.9 56.2h.8v.8h-.8zM447.3 36.3h.8v.8h-.8zM440.2 36.2h.8v.8h-.8zM450.2 38.4h.8v.8h-.8zM434.1 45.5h.8v.8h-.8zM449.1 46.7h.8v.8h-.8zM443.4 45.7h.8v.8h-.8zM427.2 41.3h.8v.8h-.8zM443.7 39.7h.8v.8h-.8zM453.5 42.4h.8v.8h-.8zM448.9 37.4h.8v.8h-.8zM434.1 43.9h.8v.8h-.8zM443.5 40.7h.8v.8h-.8zM450.6 52.3h.8v.8h-.8zM438.0 34.9h.8v.8h-.8zM436.7 37.5h.8v.8h-.8zM432.3 42.1h.8v.8h-.8zM427.6 35.2h.8v.8h-.8zM450.6 45.0h.8v.8h-.8zM453.2 56.1h.8v.8h-.8zM432.5 38.2h.8v.8h-.8zM430.7 55.7h.8v.8h-.8zM446.1 57.6h.8v.8h-.8zM442.4 49.0h.8v.8h-.8zM430.4 42.1h.8v.8h-.8zM451.3 47.3h.8v.8h-.8zM431.4 35.0h.8v.8h-.8zM437.2 51.5h.8v.8h-.8zM430.3 54.9h.8v.8h-.8zM431.7 48.7h.8v.8h-.8zM434.4 44.9h.8v.8h-.8zM445.9 45.4h.8v.8h-.8zM435.0 56.6h.8v.8h-.8zM448.3 39.4h.8v.8h-.8zM444.8 40.7h.8v.8h-.8zM453.0 56.3h.8v.8h-.8zM441.5 49.5h.8v.8h-.8zM436.2 49.1h.8v.8h-.8zM430.8 34.7h.8v.8h-.8zM428.3 47.9h.8v.8h-.8zM446.2 56.7h.8v.8h-.8zM444.3 58.8h.8v.8h-.8z" fill-opacity="0.110"/>
<path d="M452.5 39.1h.8v.8h-.8zM437.1 43.4h.8v.8h-.8zM445.5 37.3h.8v.8h-.8zM447.7 49.5h.8v.8h-.8zM436.6 39.4h.8v.8h-.8zM441.8 52.4h.8v.8h-.8zM452.8 35.5h.8v.8h-.8zM433.0 35.5h.8v.8h-.8zM453.5 48.0h.8v.8h-.8zM436.9 39.6h.8v.8h-.8zM425.9 46.6h.8v.8h-.8zM444.7 47.3h.8v.8h-.8zM433.2 41.0h.8v.8h-.8zM439.2 56.0h.8v.8h-.8zM439.6 51.3h.8v.8h-.8zM439.8 33.6h.8v.8h-.8zM431.0 47.1h.8v.8h-.8zM445.6 48.3h.8v.8h-.8zM433.8 42.2h.8v.8h-.8zM443.4 44.1h.8v.8h-.8zM445.3 48.8h.8v.8h-.8zM447.7 41.2h.8v.8h-.8zM438.5 49.2h.8v.8h-.8zM451.4 57.4h.8v.8h-.8zM432.6 47.5h.8v.8h-.8zM426.1 37.0h.8v.8h-.8zM451.6 53.9h.8v.8h-.8zM447.0 45.8h.8v.8h-.8zM429.4 53.6h.8v.8h-.8zM437.1 37.6h.8v.8h-.8zM450.8 33.8h.8v.8h-.8zM448.5 37.7h.8v.8h-.8zM432.6 55.3h.8v.8h-.8zM432.3 53.8h.8v.8h-.8zM443.2 33.2h.8v.8h-.8zM431.8 53.1h.8v.8h-.8zM433.3 50.8h.8v.8h-.8zM438.2 44.6h.8v.8h-.8zM440.0 39.5h.8v.8h-.8zM434.5 49.8h.8v.8h-.8zM455.6 39.3h.8v.8h-.8zM450.1 30.0h.8v.8h-.8zM429.0 31.9h.8v.8h-.8zM425.0 37.6h.8v.8h-.8zM442.6 46.5h.8v.8h-.8zM452.9 31.7h.8v.8h-.8zM440.7 44.3h.8v.8h-.8zM447.3 29.9h.8v.8h-.8zM453.3 51.5h.8v.8h-.8zM424.1 53.7h.8v.8h-.8zM450.1 48.2h.8v.8h-.8zM434.2 43.9h.8v.8h-.8z" fill-opacity="0.170"/>
<ellipse cx="431.50" cy="40.60" rx="4.78" ry="6.09" fill="url(#rg)" fill-opacity="0.6"/>
<ellipse cx="437.30" cy="40.60" rx="2.17" ry="5.65" fill="url(#rg)" fill-opacity="0.5"/>
<ellipse cx="441.40" cy="40.60" rx="2.03" ry="5.65" fill="url(#rg)" fill-opacity="0.46"/>
<ellipse cx="445.40" cy="40.60" rx="2.03" ry="5.65" fill="url(#rg)" fill-opacity="0.42"/>
<ellipse cx="450.00" cy="40.60" rx="2.61" ry="6.09" fill="url(#rg)" fill-opacity="0.9"/>
<ellipse cx="431.50" cy="49.80" rx="4.35" ry="5.65" fill="url(#rg)" fill-opacity="0.45"/>
<ellipse cx="437.30" cy="49.80" rx="2.61" ry="5.65" fill="url(#rg)" fill-opacity="0.8"/>
<ellipse cx="441.40" cy="49.80" rx="2.61" ry="5.65" fill="url(#rg)" fill-opacity="0.9"/>
<ellipse cx="445.40" cy="49.80" rx="2.32" ry="5.65" fill="url(#rg)" fill-opacity="0.75"/>
<ellipse cx="450.00" cy="49.80" rx="2.61" ry="6.09" fill="url(#rg)" fill-opacity="0.82"/>
</g></g>
<rect x="421.60" y="22.80" width="37.2" height="37.3" rx="0.8" fill="none" stroke="#000" stroke-width="1.25"/>
<text x="415.90" y="28.70" font-size="4.8" text-anchor="end" textLength="5.90" lengthAdjust="spacingAndGlyphs" stroke="#222" stroke-width="0.12">10</text>
<text x="416.10" y="26.40" font-size="3.0" textLength="1.50" lengthAdjust="spacingAndGlyphs">4</text>
<text x="415.90" y="38.90" font-size="4.8" text-anchor="end" textLength="5.90" lengthAdjust="spacingAndGlyphs" stroke="#222" stroke-width="0.12">10</text>
<text x="416.10" y="36.60" font-size="3.0" textLength="1.50" lengthAdjust="spacingAndGlyphs">3</text>
<text x="415.90" y="48.70" font-size="4.8" text-anchor="end" textLength="5.90" lengthAdjust="spacingAndGlyphs" stroke="#222" stroke-width="0.12">10</text>
<text x="416.10" y="46.40" font-size="3.0" textLength="1.50" lengthAdjust="spacingAndGlyphs">2</text>
<text transform="translate(417.40,51.80) rotate(-60)" font-size="4.6" text-anchor="middle" dy="1.6" fill="#222">0</text>
<text x="415.90" y="58.90" font-size="4.8" text-anchor="end" textLength="8.40" lengthAdjust="spacingAndGlyphs" stroke="#222" stroke-width="0.12">-10</text>
<text x="416.10" y="56.60" font-size="3.0" textLength="1.50" lengthAdjust="spacingAndGlyphs">2</text>
<text x="428.90" y="68.90" font-size="4.8" text-anchor="middle" textLength="2.75" lengthAdjust="spacingAndGlyphs" stroke="#222" stroke-width="0.12">0</text>
<text x="438.15" y="68.90" font-size="4.8" textLength="5.50" lengthAdjust="spacingAndGlyphs" stroke="#222" stroke-width="0.12">10</text>
<text x="443.95" y="66.60" font-size="3.0" textLength="1.50" lengthAdjust="spacingAndGlyphs">3</text>
<text x="450.40" y="68.90" font-size="4.8" textLength="5.50" lengthAdjust="spacingAndGlyphs" stroke="#222" stroke-width="0.12">10</text>
<text x="456.20" y="66.60" font-size="3.0" textLength="1.50" lengthAdjust="spacingAndGlyphs">4</text>
<path d="M474.1 43.55h1.6M474.1 41.82h1.6M474.1 40.60h1.6M474.1 39.65h1.6M474.1 38.87h1.6M474.1 38.22h1.6M474.1 37.65h1.6M474.1 37.15h1.6M474.1 33.75h1.6M474.1 32.02h1.6M474.1 30.80h1.6M474.1 29.85h1.6M474.1 29.07h1.6M474.1 28.42h1.6M474.1 27.85h1.6M474.1 27.35h1.6M474.1 23.95h1.6M474.1 47.80h1.6M474.1 49.10h1.6M474.1 50.40h1.6M474.1 51.70h1.6M474.1 53.00h1.6M474.1 54.30h1.6M474.1 55.60h1.6M474.1 56.90h1.6M487.39 60.1v1.6M499.64 60.1v1.6M489.54 60.1v1.6M501.79 60.1v1.6M491.08 60.1v1.6M503.33 60.1v1.6M492.26 60.1v1.6M504.51 60.1v1.6M493.23 60.1v1.6M505.48 60.1v1.6M494.05 60.1v1.6M506.30 60.1v1.6M494.76 60.1v1.6M507.01 60.1v1.6M495.39 60.1v1.6M507.64 60.1v1.6M511.89 60.1v1.6M481.65 60.1v1.6M480.25 60.1v1.6M478.85 60.1v1.6" stroke="#111" stroke-width="0.75" fill="none"/>
<path d="M473.1 46.50h2.6M473.1 36.70h2.6M473.1 26.90h2.6M473.1 51.80h2.6M473.1 57.20h2.6M483.05 60.1v2.6M495.95 60.1v2.6M508.20 60.1v2.6" stroke="#111" stroke-width="0.95" fill="none"/>
<clipPath id="c4"><rect x="476.25" y="23.30" width="36.20" height="36.30"/></clipPath>
<g clip-path="url(#c4)"><g filter="url(#dens)">
<rect x="479.95" y="32.30" width="27.40" height="25.10" rx="5" fill-opacity="0.1" filter="url(#soft)"/>
<rect x="481.95" y="34.30" width="23.40" height="21.10" rx="5" fill-opacity="0.14" filter="url(#soft)"/>
<path d="M487.2 50.1h.8v.8h-.8zM490.0 42.2h.8v.8h-.8zM483.2 57.5h.8v.8h-.8zM485.9 37.8h.8v.8h-.8zM507.7 33.9h.8v.8h-.8zM496.9 47.3h.8v.8h-.8zM494.5 33.9h.8v.8h-.8zM502.0 50.0h.8v.8h-.8zM480.1 48.9h.8v.8h-.8zM504.1 41.4h.8v.8h-.8zM499.5 37.2h.8v.8h-.8zM492.7 34.1h.8v.8h-.8zM504.8 44.8h.8v.8h-.8zM490.8 42.1h.8v.8h-.8zM490.3 54.8h.8v.8h-.8zM502.2 53.9h.8v.8h-.8zM503.0 53.8h.8v.8h-.8zM480.3 45.7h.8v.8h-.8zM507.3 56.4h.8v.8h-.8zM480.1 55.1h.8v.8h-.8zM504.0 40.8h.8v.8h-.8zM504.5 50.2h.8v.8h-.8zM486.5 34.8h.8v.8h-.8zM495.5 52.2h.8v.8h-.8zM489.6 36.5h.8v.8h-.8zM481.3 49.0h.8v.8h-.8zM490.3 35.9h.8v.8h-.8zM481.1 40.3h.8v.8h-.8zM507.5 35.9h.8v.8h-.8zM503.2 56.5h.8v.8h-.8zM502.1 36.2h.8v.8h-.8zM499.2 32.1h.8v.8h-.8zM486.1 46.9h.8v.8h-.8zM500.1 52.0h.8v.8h-.8zM492.1 46.2h.8v.8h-.8zM488.6 41.5h.8v.8h-.8zM505.1 54.0h.8v.8h-.8zM497.0 56.3h.8v.8h-.8zM481.8 38.7h.8v.8h-.8zM500.7 49.8h.8v.8h-.8zM502.2 45.2h.8v.8h-.8zM484.7 43.8h.8v.8h-.8zM484.4 53.6h.8v.8h-.8zM501.1 52.8h.8v.8h-.8zM490.4 46.3h.8v.8h-.8zM480.7 50.3h.8v.8h-.8zM487.7 44.4h.8v.8h-.8zM493.6 54.6h.8v.8h-.8zM498.9 51.6h.8v.8h-.8zM485.6 36.5h.8v.8h-.8zM496.5 50.3h.8v.8h-.8zM500.9 36.0h.8v.8h-.8zM485.9 43.7h.8v.8h-.8zM499.2 54.9h.8v.8h-.8zM484.5 57.7h.8v.8h-.8zM483.1 56.5h.8v.8h-.8zM496.5 57.2h.8v.8h-.8zM500.5 50.9h.8v.8h-.8zM483.7 51.7h.8v.8h-.8zM481.2 32.7h.8v.8h-.8zM483.6 47.8h.8v.8h-.8zM501.4 46.2h.8v.8h-.8zM482.4 37.0h.8v.8h-.8zM505.2 39.8h.8v.8h-.8zM493.4 37.8h.8v.8h-.8zM501.3 54.4h.8v.8h-.8zM483.4 40.8h.8v.8h-.8zM491.1 45.0h.8v.8h-.8zM505.6 42.3h.8v.8h-.8zM493.8 56.3h.8v.8h-.8zM493.7 56.2h.8v.8h-.8zM499.2 52.9h.8v.8h-.8zM504.1 37.2h.8v.8h-.8zM482.8 50.4h.8v.8h-.8zM493.4 57.2h.8v.8h-.8zM492.8 50.5h.8v.8h-.8zM481.1 35.1h.8v.8h-.8zM507.4 47.3h.8v.8h-.8zM486.0 41.8h.8v.8h-.8zM487.1 50.1h.8v.8h-.8zM492.7 38.4h.8v.8h-.8zM501.5 34.1h.8v.8h-.8zM491.5 53.9h.8v.8h-.8zM496.1 51.4h.8v.8h-.8zM480.5 49.4h.8v.8h-.8zM483.7 52.9h.8v.8h-.8zM480.0 39.7h.8v.8h-.8zM490.4 41.3h.8v.8h-.8zM498.4 55.5h.8v.8h-.8zM502.1 30.3h.8v.8h-.8zM492.8 32.5h.8v.8h-.8zM487.0 31.7h.8v.8h-.8zM501.9 39.6h.8v.8h-.8zM480.0 37.2h.8v.8h-.8zM489.7 52.6h.8v.8h-.8zM480.7 49.5h.8v.8h-.8zM480.5 50.2h.8v.8h-.8zM477.8 36.9h.8v.8h-.8zM484.3 39.4h.8v.8h-.8zM493.6 51.6h.8v.8h-.8zM504.9 41.2h.8v.8h-.8zM497.0 37.5h.8v.8h-.8zM485.8 49.8h.8v.8h-.8zM484.7 44.0h.8v.8h-.8zM491.9 33.0h.8v.8h-.8zM487.2 50.6h.8v.8h-.8z" fill-opacity="0.070"/>
<path d="M481.8 52.6h.8v.8h-.8zM502.9 45.8h.8v.8h-.8zM503.7 36.2h.8v.8h-.8zM487.0 34.2h.8v.8h-.8zM486.1 37.2h.8v.8h-.8zM502.9 56.5h.8v.8h-.8zM500.2 35.5h.8v.8h-.8zM486.6 36.8h.8v.8h-.8zM499.9 42.7h.8v.8h-.8zM502.5 44.8h.8v.8h-.8zM483.2 45.8h.8v.8h-.8zM487.6 33.1h.8v.8h-.8zM498.6 55.4h.8v.8h-.8zM504.2 57.0h.8v.8h-.8zM505.1 53.9h.8v.8h-.8zM491.3 36.4h.8v.8h-.8zM502.6 48.2h.8v.8h-.8zM485.5 40.5h.8v.8h-.8zM482.7 50.6h.8v.8h-.8zM505.3 52.6h.8v.8h-.8zM496.8 43.8h.8v.8h-.8zM502.8 55.7h.8v.8h-.8zM483.3 42.2h.8v.8h-.8zM503.0 52.2h.8v.8h-.8zM505.1 43.1h.8v.8h-.8zM495.3 43.1h.8v.8h-.8zM479.9 57.6h.8v.8h-.8zM494.6 48.4h.8v.8h-.8zM496.0 32.1h.8v.8h-.8zM485.8 55.3h.8v.8h-.8zM507.3 41.6h.8v.8h-.8zM500.1 55.6h.8v.8h-.8zM506.9 53.9h.8v.8h-.8zM487.6 48.2h.8v.8h-.8zM505.8 54.9h.8v.8h-.8zM486.5 53.6h.8v.8h-.8zM487.9 30.5h.8v.8h-.8zM499.2 47.2h.8v.8h-.8zM489.8 57.8h.8v.8h-.8zM478.3 57.6h.8v.8h-.8zM499.3 53.7h.8v.8h-.8zM504.7 29.7h.8v.8h-.8zM504.0 34.1h.8v.8h-.8zM482.6 40.8h.8v.8h-.8zM492.1 39.8h.8v.8h-.8zM491.0 50.1h.8v.8h-.8zM499.9 38.2h.8v.8h-.8zM478.6 53.7h.8v.8h-.8z" fill-opacity="0.110"/>
<path d="M501.6 53.8h.8v.8h-.8zM489.1 46.5h.8v.8h-.8zM484.3 41.6h.8v.8h-.8zM503.8 45.1h.8v.8h-.8zM497.2 55.5h.8v.8h-.8zM490.8 39.6h.8v.8h-.8zM480.3 49.6h.8v.8h-.8zM506.2 54.9h.8v.8h-.8zM501.4 51.9h.8v.8h-.8zM494.7 38.7h.8v.8h-.8zM501.9 53.7h.8v.8h-.8zM488.8 42.2h.8v.8h-.8zM484.9 39.2h.8v.8h-.8zM506.6 39.4h.8v.8h-.8zM489.0 46.5h.8v.8h-.8zM498.6 41.3h.8v.8h-.8zM487.3 47.5h.8v.8h-.8zM485.4 36.3h.8v.8h-.8zM500.0 36.4h.8v.8h-.8zM487.5 51.1h.8v.8h-.8zM488.0 49.2h.8v.8h-.8zM487.8 38.5h.8v.8h-.8zM487.6 56.5h.8v.8h-.8zM497.2 32.0h.8v.8h-.8zM483.2 41.1h.8v.8h-.8zM496.8 55.6h.8v.8h-.8zM504.5 53.4h.8v.8h-.8zM488.9 53.3h.8v.8h-.8zM485.9 49.1h.8v.8h-.8zM502.7 35.8h.8v.8h-.8zM494.8 33.4h.8v.8h-.8zM494.8 36.9h.8v.8h-.8zM482.3 54.6h.8v.8h-.8zM499.8 44.3h.8v.8h-.8zM488.4 55.0h.8v.8h-.8zM480.0 33.4h.8v.8h-.8zM508.8 41.4h.8v.8h-.8zM496.6 29.7h.8v.8h-.8zM496.9 58.8h.8v.8h-.8zM479.6 53.4h.8v.8h-.8zM491.8 43.9h.8v.8h-.8zM508.3 45.2h.8v.8h-.8zM483.2 38.7h.8v.8h-.8zM478.7 53.6h.8v.8h-.8zM495.1 52.4h.8v.8h-.8zM509.3 44.1h.8v.8h-.8z" fill-opacity="0.170"/>
<ellipse cx="489.25" cy="44.80" rx="4.5" ry="9" fill="url(#rf)" fill-opacity="0.3"/>
<ellipse cx="487.25" cy="39.80" rx="4.35" ry="5.65" fill="url(#rg)" fill-opacity="0.9"/>
<ellipse cx="491.35" cy="39.80" rx="2.9" ry="5.65" fill="url(#rg)" fill-opacity="0.85"/>
<ellipse cx="495.95" cy="39.80" rx="2.32" ry="5.22" fill="url(#rg)" fill-opacity="0.55"/>
<ellipse cx="500.15" cy="39.80" rx="2.17" ry="5.22" fill="url(#rg)" fill-opacity="0.35"/>
<ellipse cx="504.35" cy="39.80" rx="2.17" ry="5.22" fill="url(#rg)" fill-opacity="0.42"/>
<ellipse cx="487.25" cy="49.80" rx="4.35" ry="5.37" fill="url(#rg)" fill-opacity="0.68"/>
<ellipse cx="491.35" cy="49.80" rx="2.9" ry="5.37" fill="url(#rg)" fill-opacity="0.92"/>
<ellipse cx="495.95" cy="49.80" rx="2.32" ry="5.22" fill="url(#rg)" fill-opacity="0.62"/>
<ellipse cx="500.15" cy="49.80" rx="1.5" ry="3.6" fill="url(#rg)" fill-opacity="0.32"/>
<ellipse cx="504.35" cy="49.80" rx="1.5" ry="3.6" fill="url(#rg)" fill-opacity="0.32"/>
</g></g>
<rect x="475.75" y="22.80" width="37.2" height="37.3" rx="0.8" fill="none" stroke="#000" stroke-width="1.25"/>
<text x="470.05" y="28.70" font-size="4.8" text-anchor="end" textLength="5.90" lengthAdjust="spacingAndGlyphs" stroke="#222" stroke-width="0.12">10</text>
<text x="470.25" y="26.40" font-size="3.0" textLength="1.50" lengthAdjust="spacingAndGlyphs">4</text>
<text x="470.05" y="38.90" font-size="4.8" text-anchor="end" textLength="5.90" lengthAdjust="spacingAndGlyphs" stroke="#222" stroke-width="0.12">10</text>
<text x="470.25" y="36.60" font-size="3.0" textLength="1.50" lengthAdjust="spacingAndGlyphs">3</text>
<text x="470.05" y="48.70" font-size="4.8" text-anchor="end" textLength="5.90" lengthAdjust="spacingAndGlyphs" stroke="#222" stroke-width="0.12">10</text>
<text x="470.25" y="46.40" font-size="3.0" textLength="1.50" lengthAdjust="spacingAndGlyphs">2</text>
<text transform="translate(471.55,51.80) rotate(-60)" font-size="4.6" text-anchor="middle" dy="1.6" fill="#222">0</text>
<text x="470.05" y="58.90" font-size="4.8" text-anchor="end" textLength="8.40" lengthAdjust="spacingAndGlyphs" stroke="#222" stroke-width="0.12">-10</text>
<text x="470.25" y="56.60" font-size="3.0" textLength="1.50" lengthAdjust="spacingAndGlyphs">2</text>
<text x="483.05" y="68.90" font-size="4.8" text-anchor="middle" textLength="2.75" lengthAdjust="spacingAndGlyphs" stroke="#222" stroke-width="0.12">0</text>
<text x="492.30" y="68.90" font-size="4.8" textLength="5.50" lengthAdjust="spacingAndGlyphs" stroke="#222" stroke-width="0.12">10</text>
<text x="498.10" y="66.60" font-size="3.0" textLength="1.50" lengthAdjust="spacingAndGlyphs">3</text>
<text x="504.55" y="68.90" font-size="4.8" textLength="5.50" lengthAdjust="spacingAndGlyphs" stroke="#222" stroke-width="0.12">10</text>
<text x="510.35" y="66.60" font-size="3.0" textLength="1.50" lengthAdjust="spacingAndGlyphs">4</text>
<path d="M311.7 96.15h1.6M311.7 94.42h1.6M311.7 93.20h1.6M311.7 92.25h1.6M311.7 91.47h1.6M311.7 90.82h1.6M311.7 90.25h1.6M311.7 89.75h1.6M311.7 86.35h1.6M311.7 84.62h1.6M311.7 83.40h1.6M311.7 82.45h1.6M311.7 81.67h1.6M311.7 81.02h1.6M311.7 80.45h1.6M311.7 79.95h1.6M311.7 76.55h1.6M311.7 100.40h1.6M311.7 101.70h1.6M311.7 103.00h1.6M311.7 104.30h1.6M311.7 105.60h1.6M311.7 106.90h1.6M311.7 108.20h1.6M311.7 109.50h1.6M324.94 112.7v1.6M337.19 112.7v1.6M327.09 112.7v1.6M339.34 112.7v1.6M328.63 112.7v1.6M340.88 112.7v1.6M329.81 112.7v1.6M342.06 112.7v1.6M330.78 112.7v1.6M343.03 112.7v1.6M331.60 112.7v1.6M343.85 112.7v1.6M332.31 112.7v1.6M344.56 112.7v1.6M332.94 112.7v1.6M345.19 112.7v1.6M349.44 112.7v1.6M319.20 112.7v1.6M317.80 112.7v1.6M316.40 112.7v1.6" stroke="#111" stroke-width="0.75" fill="none"/>
<path d="M310.7 99.10h2.6M310.7 89.30h2.6M310.7 79.50h2.6M310.7 104.40h2.6M310.7 109.80h2.6M320.60 112.7v2.6M333.50 112.7v2.6M345.75 112.7v2.6" stroke="#111" stroke-width="0.95" fill="none"/>
<clipPath id="c5"><rect x="313.80" y="75.90" width="36.20" height="36.30"/></clipPath>
<g clip-path="url(#c5)"><g filter="url(#dens)">
<path d="M328.9 98.9h.8v.8h-.8zM335.1 99.6h.8v.8h-.8zM339.0 96.4h.8v.8h-.8zM318.4 105.6h.8v.8h-.8zM323.3 92.8h.8v.8h-.8zM345.4 103.9h.8v.8h-.8zM344.4 90.4h.8v.8h-.8zM346.0 99.3h.8v.8h-.8zM323.6 98.5h.8v.8h-.8zM320.1 108.4h.8v.8h-.8zM344.0 100.3h.8v.8h-.8zM318.4 94.0h.8v.8h-.8zM324.2 103.6h.8v.8h-.8zM318.3 107.4h.8v.8h-.8zM334.8 96.9h.8v.8h-.8zM346.9 87.7h.8v.8h-.8zM325.3 108.3h.8v.8h-.8zM317.9 94.2h.8v.8h-.8zM322.2 108.9h.8v.8h-.8zM322.1 99.9h.8v.8h-.8zM336.2 95.2h.8v.8h-.8zM327.6 97.2h.8v.8h-.8zM324.8 107.8h.8v.8h-.8zM337.7 90.9h.8v.8h-.8zM347.2 100.6h.8v.8h-.8zM325.1 85.8h.8v.8h-.8zM339.4 107.1h.8v.8h-.8zM338.7 93.8h.8v.8h-.8zM335.8 93.2h.8v.8h-.8zM321.2 85.5h.8v.8h-.8zM321.3 100.9h.8v.8h-.8zM345.2 98.2h.8v.8h-.8zM332.3 95.2h.8v.8h-.8zM328.8 98.5h.8v.8h-.8zM333.7 98.8h.8v.8h-.8zM320.5 88.0h.8v.8h-.8zM328.1 87.5h.8v.8h-.8zM327.8 89.7h.8v.8h-.8zM327.2 110.2h.8v.8h-.8zM336.5 97.2h.8v.8h-.8zM346.4 110.1h.8v.8h-.8zM318.7 94.1h.8v.8h-.8zM343.5 105.6h.8v.8h-.8zM345.8 93.1h.8v.8h-.8zM341.1 93.5h.8v.8h-.8zM320.6 90.7h.8v.8h-.8zM341.9 99.7h.8v.8h-.8zM333.0 92.2h.8v.8h-.8zM332.2 95.7h.8v.8h-.8zM320.2 109.0h.8v.8h-.8zM344.2 86.7h.8v.8h-.8zM321.3 86.3h.8v.8h-.8zM324.8 110.1h.8v.8h-.8zM347.2 107.2h.8v.8h-.8zM333.0 105.5h.8v.8h-.8zM338.9 85.7h.8v.8h-.8zM334.1 98.6h.8v.8h-.8zM334.4 105.7h.8v.8h-.8zM334.0 93.0h.8v.8h-.8zM329.4 97.5h.8v.8h-.8zM340.5 91.7h.8v.8h-.8zM325.2 109.4h.8v.8h-.8zM324.6 100.7h.8v.8h-.8zM326.6 105.7h.8v.8h-.8zM329.2 104.9h.8v.8h-.8zM341.5 105.5h.8v.8h-.8zM341.9 86.3h.8v.8h-.8zM323.4 93.4h.8v.8h-.8zM333.2 98.6h.8v.8h-.8zM333.0 85.6h.8v.8h-.8zM334.9 101.5h.8v.8h-.8zM331.1 98.0h.8v.8h-.8zM339.3 106.5h.8v.8h-.8zM345.0 100.2h.8v.8h-.8zM331.6 96.4h.8v.8h-.8zM341.0 100.9h.8v.8h-.8zM325.7 102.4h.8v.8h-.8zM320.6 99.4h.8v.8h-.8zM319.2 92.4h.8v.8h-.8zM321.1 93.6h.8v.8h-.8zM333.4 90.9h.8v.8h-.8zM318.7 98.5h.8v.8h-.8zM328.3 86.8h.8v.8h-.8zM322.2 99.1h.8v.8h-.8zM331.8 92.6h.8v.8h-.8zM337.2 107.2h.8v.8h-.8zM337.0 96.3h.8v.8h-.8zM341.3 88.3h.8v.8h-.8zM332.1 94.1h.8v.8h-.8zM331.7 106.1h.8v.8h-.8zM343.4 86.5h.8v.8h-.8zM337.5 91.1h.8v.8h-.8zM343.7 98.4h.8v.8h-.8zM325.4 100.5h.8v.8h-.8zM344.1 95.6h.8v.8h-.8zM341.6 111.4h.8v.8h-.8zM335.9 100.8h.8v.8h-.8zM342.5 108.9h.8v.8h-.8zM344.1 96.7h.8v.8h-.8zM341.2 98.9h.8v.8h-.8zM340.5 104.2h.8v.8h-.8zM347.4 96.2h.8v.8h-.8zM344.1 106.7h.8v.8h-.8zM338.2 101.2h.8v.8h-.8zM339.6 103.0h.8v.8h-.8zM345.1 96.3h.8v.8h-.8zM343.1 91.4h.8v.8h-.8zM352.4 103.7h.8v.8h-.8zM342.2 95.0h.8v.8h-.8zM342.3 93.6h.8v.8h-.8zM344.4 107.5h.8v.8h-.8zM343.8 102.3h.8v.8h-.8zM338.9 93.0h.8v.8h-.8zM339.3 100.4h.8v.8h-.8zM351.3 100.4h.8v.8h-.8zM343.5 105.9h.8v.8h-.8zM343.6 102.5h.8v.8h-.8zM338.7 93.1h.8v.8h-.8zM333.8 103.9h.8v.8h-.8zM344.0 97.7h.8v.8h-.8zM344.5 96.9h.8v.8h-.8zM345.1 106.2h.8v.8h-.8zM340.6 106.0h.8v.8h-.8zM343.0 108.8h.8v.8h-.8zM335.4 105.5h.8v.8h-.8zM331.4 98.1h.8v.8h-.8zM337.7 105.8h.8v.8h-.8zM339.6 94.9h.8v.8h-.8zM343.3 114.4h.8v.8h-.8zM351.2 106.9h.8v.8h-.8zM341.9 102.4h.8v.8h-.8zM342.2 100.3h.8v.8h-.8zM345.3 109.6h.8v.8h-.8zM341.2 105.8h.8v.8h-.8z" fill-opacity="0.056"/>
<path d="M334.7 107.7h.8v.8h-.8zM343.7 103.4h.8v.8h-.8zM343.4 96.5h.8v.8h-.8zM336.3 88.7h.8v.8h-.8zM344.2 108.9h.8v.8h-.8zM340.5 96.2h.8v.8h-.8zM333.7 89.8h.8v.8h-.8zM329.3 98.4h.8v.8h-.8zM332.4 99.1h.8v.8h-.8zM330.7 92.0h.8v.8h-.8zM333.4 85.7h.8v.8h-.8zM325.9 86.7h.8v.8h-.8zM338.5 86.6h.8v.8h-.8zM324.2 88.6h.8v.8h-.8zM335.4 102.9h.8v.8h-.8zM323.7 104.5h.8v.8h-.8zM346.8 92.7h.8v.8h-.8zM332.5 106.4h.8v.8h-.8zM337.4 93.2h.8v.8h-.8zM336.3 101.6h.8v.8h-.8zM317.9 99.0h.8v.8h-.8zM326.0 102.2h.8v.8h-.8zM319.7 101.5h.8v.8h-.8zM343.8 92.9h.8v.8h-.8zM337.7 88.6h.8v.8h-.8zM345.5 102.3h.8v.8h-.8zM328.6 86.8h.8v.8h-.8zM331.2 94.3h.8v.8h-.8zM331.9 97.3h.8v.8h-.8zM327.3 108.4h.8v.8h-.8zM325.0 105.2h.8v.8h-.8zM341.8 94.3h.8v.8h-.8zM322.0 108.9h.8v.8h-.8zM318.5 92.2h.8v.8h-.8zM333.9 101.9h.8v.8h-.8zM344.8 89.0h.8v.8h-.8zM333.0 105.6h.8v.8h-.8zM349.4 101.6h.8v.8h-.8zM340.3 107.1h.8v.8h-.8zM344.2 102.1h.8v.8h-.8zM343.0 101.2h.8v.8h-.8zM341.8 103.7h.8v.8h-.8zM343.5 102.1h.8v.8h-.8zM343.4 99.3h.8v.8h-.8zM341.3 108.5h.8v.8h-.8zM345.9 107.2h.8v.8h-.8zM346.0 105.0h.8v.8h-.8zM339.4 102.7h.8v.8h-.8zM342.9 95.6h.8v.8h-.8zM336.9 100.9h.8v.8h-.8zM344.2 106.8h.8v.8h-.8zM341.1 104.9h.8v.8h-.8zM344.3 105.0h.8v.8h-.8zM345.8 97.9h.8v.8h-.8zM346.0 109.3h.8v.8h-.8zM341.9 107.1h.8v.8h-.8zM342.0 92.0h.8v.8h-.8zM344.5 101.6h.8v.8h-.8zM343.2 96.2h.8v.8h-.8zM345.0 102.0h.8v.8h-.8zM340.6 97.9h.8v.8h-.8zM350.4 97.0h.8v.8h-.8zM348.0 101.3h.8v.8h-.8zM343.0 103.7h.8v.8h-.8zM339.6 101.4h.8v.8h-.8zM346.7 95.6h.8v.8h-.8zM342.6 100.2h.8v.8h-.8zM338.6 105.5h.8v.8h-.8z" fill-opacity="0.088"/>
<path d="M329.4 109.5h.8v.8h-.8zM341.7 103.3h.8v.8h-.8zM341.6 108.0h.8v.8h-.8zM329.9 97.2h.8v.8h-.8zM338.7 101.9h.8v.8h-.8zM321.8 110.0h.8v.8h-.8zM319.9 102.9h.8v.8h-.8zM318.0 88.7h.8v.8h-.8zM323.5 101.5h.8v.8h-.8zM327.4 105.1h.8v.8h-.8zM346.0 107.0h.8v.8h-.8zM326.8 100.1h.8v.8h-.8zM340.2 92.3h.8v.8h-.8zM323.7 94.0h.8v.8h-.8zM331.8 99.0h.8v.8h-.8zM340.5 107.5h.8v.8h-.8zM330.5 103.5h.8v.8h-.8zM345.0 105.7h.8v.8h-.8zM336.6 87.8h.8v.8h-.8zM332.6 87.9h.8v.8h-.8zM346.0 102.8h.8v.8h-.8zM344.0 107.7h.8v.8h-.8zM343.7 85.6h.8v.8h-.8zM329.0 101.7h.8v.8h-.8zM327.0 99.9h.8v.8h-.8zM322.5 89.0h.8v.8h-.8zM346.7 99.5h.8v.8h-.8zM336.5 100.8h.8v.8h-.8zM326.5 100.8h.8v.8h-.8zM335.4 92.0h.8v.8h-.8zM318.0 96.3h.8v.8h-.8zM333.4 92.7h.8v.8h-.8zM321.5 92.3h.8v.8h-.8zM329.6 88.4h.8v.8h-.8zM318.7 85.7h.8v.8h-.8zM338.3 90.3h.8v.8h-.8zM345.8 92.2h.8v.8h-.8zM329.5 104.1h.8v.8h-.8zM343.2 114.1h.8v.8h-.8zM338.0 101.9h.8v.8h-.8zM338.7 100.2h.8v.8h-.8zM344.0 102.0h.8v.8h-.8zM344.5 107.3h.8v.8h-.8zM342.6 108.0h.8v.8h-.8zM337.3 100.8h.8v.8h-.8zM341.9 100.6h.8v.8h-.8zM347.0 101.2h.8v.8h-.8zM343.9 105.4h.8v.8h-.8zM340.9 101.3h.8v.8h-.8zM340.7 101.3h.8v.8h-.8zM338.9 101.4h.8v.8h-.8zM342.1 106.1h.8v.8h-.8zM340.0 103.2h.8v.8h-.8zM346.4 95.2h.8v.8h-.8zM340.0 106.6h.8v.8h-.8zM346.1 105.1h.8v.8h-.8zM342.3 101.0h.8v.8h-.8zM343.6 103.8h.8v.8h-.8zM338.4 94.9h.8v.8h-.8zM349.7 98.2h.8v.8h-.8zM339.2 99.2h.8v.8h-.8zM344.7 106.5h.8v.8h-.8zM345.8 101.1h.8v.8h-.8zM341.7 105.1h.8v.8h-.8zM340.3 99.3h.8v.8h-.8zM344.3 97.6h.8v.8h-.8zM334.2 96.0h.8v.8h-.8zM345.9 102.8h.8v.8h-.8zM345.6 105.4h.8v.8h-.8zM338.0 92.3h.8v.8h-.8zM343.2 95.2h.8v.8h-.8zM343.9 110.2h.8v.8h-.8zM342.6 98.2h.8v.8h-.8zM337.3 104.2h.8v.8h-.8zM339.7 98.1h.8v.8h-.8zM340.4 101.7h.8v.8h-.8zM338.8 97.5h.8v.8h-.8zM345.9 103.9h.8v.8h-.8z" fill-opacity="0.136"/>
<ellipse cx="340.80" cy="101.55" rx="4.2" ry="11.15" fill="url(#rf)" fill-opacity="0.25"/>
<ellipse cx="342.70" cy="107.20" rx="4" ry="4.5" fill="url(#rf)" fill-opacity="0.16"/>
<ellipse cx="341.20" cy="96.90" rx="2.0" ry="3.6" fill="url(#rg)" fill-opacity="0.8"/>
<ellipse cx="341.20" cy="105.20" rx="2.2" ry="4.3" fill="url(#rg)" fill-opacity="0.8"/>
<ellipse cx="341.20" cy="101.05" rx="1.4" ry="2.5" fill="url(#rg)" fill-opacity="0.22"/>
</g></g>
<rect x="313.30" y="75.40" width="37.2" height="37.3" rx="0.8" fill="none" stroke="#000" stroke-width="1.25"/>
<text x="307.60" y="81.30" font-size="4.8" text-anchor="end" textLength="5.90" lengthAdjust="spacingAndGlyphs" stroke="#222" stroke-width="0.12">10</text>
<text x="307.80" y="79.00" font-size="3.0" textLength="1.50" lengthAdjust="spacingAndGlyphs">4</text>
<text x="307.60" y="91.50" font-size="4.8" text-anchor="end" textLength="5.90" lengthAdjust="spacingAndGlyphs" stroke="#222" stroke-width="0.12">10</text>
<text x="307.80" y="89.20" font-size="3.0" textLength="1.50" lengthAdjust="spacingAndGlyphs">3</text>
<text x="307.60" y="101.30" font-size="4.8" text-anchor="end" textLength="5.90" lengthAdjust="spacingAndGlyphs" stroke="#222" stroke-width="0.12">10</text>
<text x="307.80" y="99.00" font-size="3.0" textLength="1.50" lengthAdjust="spacingAndGlyphs">2</text>
<text transform="translate(309.10,104.40) rotate(-60)" font-size="4.6" text-anchor="middle" dy="1.6" fill="#222">0</text>
<text x="307.60" y="111.50" font-size="4.8" text-anchor="end" textLength="8.40" lengthAdjust="spacingAndGlyphs" stroke="#222" stroke-width="0.12">-10</text>
<text x="307.80" y="109.20" font-size="3.0" textLength="1.50" lengthAdjust="spacingAndGlyphs">2</text>
<text x="320.60" y="121.50" font-size="4.8" text-anchor="middle" textLength="2.75" lengthAdjust="spacingAndGlyphs" stroke="#222" stroke-width="0.12">0</text>
<text x="329.85" y="121.50" font-size="4.8" textLength="5.50" lengthAdjust="spacingAndGlyphs" stroke="#222" stroke-width="0.12">10</text>
<text x="335.65" y="119.20" font-size="3.0" textLength="1.50" lengthAdjust="spacingAndGlyphs">3</text>
<text x="342.10" y="121.50" font-size="4.8" textLength="5.50" lengthAdjust="spacingAndGlyphs" stroke="#222" stroke-width="0.12">10</text>
<text x="347.90" y="119.20" font-size="3.0" textLength="1.50" lengthAdjust="spacingAndGlyphs">4</text>
<path d="M365.8 96.15h1.6M365.8 94.42h1.6M365.8 93.20h1.6M365.8 92.25h1.6M365.8 91.47h1.6M365.8 90.82h1.6M365.8 90.25h1.6M365.8 89.75h1.6M365.8 86.35h1.6M365.8 84.62h1.6M365.8 83.40h1.6M365.8 82.45h1.6M365.8 81.67h1.6M365.8 81.02h1.6M365.8 80.45h1.6M365.8 79.95h1.6M365.8 76.55h1.6M365.8 100.40h1.6M365.8 101.70h1.6M365.8 103.00h1.6M365.8 104.30h1.6M365.8 105.60h1.6M365.8 106.90h1.6M365.8 108.20h1.6M365.8 109.50h1.6M379.09 112.7v1.6M391.34 112.7v1.6M381.24 112.7v1.6M393.49 112.7v1.6M382.78 112.7v1.6M395.03 112.7v1.6M383.96 112.7v1.6M396.21 112.7v1.6M384.93 112.7v1.6M397.18 112.7v1.6M385.75 112.7v1.6M398.00 112.7v1.6M386.46 112.7v1.6M398.71 112.7v1.6M387.09 112.7v1.6M399.34 112.7v1.6M403.59 112.7v1.6M373.35 112.7v1.6M371.95 112.7v1.6M370.55 112.7v1.6" stroke="#111" stroke-width="0.75" fill="none"/>
<path d="M364.8 99.10h2.6M364.8 89.30h2.6M364.8 79.50h2.6M364.8 104.40h2.6M364.8 109.80h2.6M374.75 112.7v2.6M387.65 112.7v2.6M399.90 112.7v2.6" stroke="#111" stroke-width="0.95" fill="none"/>
<clipPath id="c6"><rect x="367.95" y="75.90" width="36.20" height="36.30"/></clipPath>
<g clip-path="url(#c6)"><g filter="url(#dens)">
<rect x="372.45" y="85.40" width="27.00" height="25.00" rx="5" fill-opacity="0.07" filter="url(#soft)"/>
<rect x="372.45" y="84.90" width="21.00" height="13.50" rx="5" fill-opacity="0.07" filter="url(#soft)"/>
<path d="M396.4 89.2h.8v.8h-.8zM388.4 92.6h.8v.8h-.8zM394.1 103.5h.8v.8h-.8zM375.2 88.3h.8v.8h-.8zM395.9 104.0h.8v.8h-.8zM396.4 90.9h.8v.8h-.8zM374.8 92.1h.8v.8h-.8zM385.6 103.6h.8v.8h-.8zM391.3 92.9h.8v.8h-.8zM377.8 96.0h.8v.8h-.8zM398.4 94.1h.8v.8h-.8zM379.0 109.1h.8v.8h-.8zM388.2 105.3h.8v.8h-.8zM377.2 105.2h.8v.8h-.8zM391.8 88.3h.8v.8h-.8zM386.0 99.1h.8v.8h-.8zM372.8 89.2h.8v.8h-.8zM398.6 84.5h.8v.8h-.8zM377.7 94.1h.8v.8h-.8zM379.2 107.1h.8v.8h-.8zM379.1 100.5h.8v.8h-.8zM373.6 99.7h.8v.8h-.8zM388.9 110.4h.8v.8h-.8zM385.2 101.5h.8v.8h-.8zM381.6 102.2h.8v.8h-.8zM399.2 103.1h.8v.8h-.8zM386.1 103.9h.8v.8h-.8zM373.2 108.3h.8v.8h-.8zM397.9 105.5h.8v.8h-.8zM378.8 101.4h.8v.8h-.8zM398.0 95.1h.8v.8h-.8zM378.0 101.2h.8v.8h-.8zM374.8 102.4h.8v.8h-.8zM386.2 98.1h.8v.8h-.8zM396.1 93.4h.8v.8h-.8zM387.7 100.7h.8v.8h-.8zM389.1 93.9h.8v.8h-.8zM382.6 97.3h.8v.8h-.8zM390.8 89.1h.8v.8h-.8zM399.2 85.5h.8v.8h-.8zM399.0 106.7h.8v.8h-.8zM399.3 105.4h.8v.8h-.8zM384.3 91.8h.8v.8h-.8zM378.5 96.2h.8v.8h-.8zM382.0 105.0h.8v.8h-.8zM385.4 107.4h.8v.8h-.8zM385.9 88.6h.8v.8h-.8zM376.3 96.4h.8v.8h-.8zM398.6 103.5h.8v.8h-.8zM395.3 98.9h.8v.8h-.8zM395.1 96.4h.8v.8h-.8zM394.1 101.8h.8v.8h-.8zM378.8 86.5h.8v.8h-.8zM380.4 96.5h.8v.8h-.8zM396.2 94.5h.8v.8h-.8zM375.9 107.1h.8v.8h-.8zM394.6 89.8h.8v.8h-.8zM380.3 102.4h.8v.8h-.8zM386.6 103.8h.8v.8h-.8zM389.7 93.8h.8v.8h-.8zM399.5 95.2h.8v.8h-.8zM390.8 96.9h.8v.8h-.8zM377.5 99.3h.8v.8h-.8zM376.1 101.9h.8v.8h-.8zM389.9 104.8h.8v.8h-.8zM395.0 86.6h.8v.8h-.8zM377.7 99.4h.8v.8h-.8zM394.2 93.5h.8v.8h-.8zM382.3 91.8h.8v.8h-.8zM385.9 88.1h.8v.8h-.8zM372.5 93.5h.8v.8h-.8zM391.1 90.4h.8v.8h-.8zM388.0 88.7h.8v.8h-.8zM387.4 89.3h.8v.8h-.8zM381.1 92.9h.8v.8h-.8zM382.5 98.4h.8v.8h-.8zM392.6 105.2h.8v.8h-.8zM375.6 99.6h.8v.8h-.8zM382.5 100.6h.8v.8h-.8zM378.1 86.3h.8v.8h-.8zM386.2 96.6h.8v.8h-.8zM392.6 86.4h.8v.8h-.8zM396.8 93.3h.8v.8h-.8zM391.8 109.7h.8v.8h-.8zM394.9 105.4h.8v.8h-.8zM391.9 107.9h.8v.8h-.8zM383.8 95.2h.8v.8h-.8zM390.9 98.3h.8v.8h-.8zM379.7 87.6h.8v.8h-.8zM391.1 102.9h.8v.8h-.8zM373.1 104.6h.8v.8h-.8zM392.0 109.8h.8v.8h-.8zM385.9 97.9h.8v.8h-.8zM384.6 86.8h.8v.8h-.8zM379.0 87.1h.8v.8h-.8zM394.6 99.7h.8v.8h-.8zM398.0 106.9h.8v.8h-.8zM400.0 102.2h.8v.8h-.8zM395.3 105.3h.8v.8h-.8zM391.8 103.7h.8v.8h-.8zM396.7 112.4h.8v.8h-.8zM395.5 104.2h.8v.8h-.8zM391.9 103.9h.8v.8h-.8zM400.1 106.6h.8v.8h-.8zM396.7 105.5h.8v.8h-.8zM392.9 100.6h.8v.8h-.8zM397.3 105.7h.8v.8h-.8zM394.4 103.9h.8v.8h-.8zM396.9 102.5h.8v.8h-.8zM392.1 102.1h.8v.8h-.8zM403.2 105.3h.8v.8h-.8z" fill-opacity="0.056"/>
<path d="M382.5 91.7h.8v.8h-.8zM380.9 97.2h.8v.8h-.8zM400.0 92.3h.8v.8h-.8zM376.7 106.5h.8v.8h-.8zM391.5 91.6h.8v.8h-.8zM388.3 87.8h.8v.8h-.8zM376.0 105.3h.8v.8h-.8zM388.1 96.1h.8v.8h-.8zM400.3 87.8h.8v.8h-.8zM394.5 98.2h.8v.8h-.8zM385.6 102.3h.8v.8h-.8zM383.1 88.9h.8v.8h-.8zM385.5 86.7h.8v.8h-.8zM387.9 88.8h.8v.8h-.8zM383.6 84.7h.8v.8h-.8zM376.2 100.4h.8v.8h-.8zM376.5 102.5h.8v.8h-.8zM384.5 104.0h.8v.8h-.8zM373.1 92.9h.8v.8h-.8zM387.3 101.2h.8v.8h-.8zM393.0 92.7h.8v.8h-.8zM373.2 85.6h.8v.8h-.8zM384.0 107.1h.8v.8h-.8zM386.5 89.7h.8v.8h-.8zM398.2 101.6h.8v.8h-.8zM396.7 89.2h.8v.8h-.8zM397.5 86.5h.8v.8h-.8zM397.0 101.1h.8v.8h-.8zM373.9 106.5h.8v.8h-.8zM383.7 102.5h.8v.8h-.8zM391.0 103.6h.8v.8h-.8zM398.0 89.5h.8v.8h-.8zM373.9 95.5h.8v.8h-.8zM388.3 109.4h.8v.8h-.8zM377.0 97.4h.8v.8h-.8zM396.5 102.8h.8v.8h-.8zM396.9 93.0h.8v.8h-.8zM381.0 92.3h.8v.8h-.8zM396.3 98.2h.8v.8h-.8zM373.0 90.0h.8v.8h-.8zM382.9 88.9h.8v.8h-.8zM392.3 92.8h.8v.8h-.8zM373.8 107.4h.8v.8h-.8zM389.9 91.1h.8v.8h-.8zM396.9 88.5h.8v.8h-.8zM373.5 105.5h.8v.8h-.8zM377.4 91.5h.8v.8h-.8zM380.4 94.5h.8v.8h-.8zM374.7 94.2h.8v.8h-.8zM385.2 96.4h.8v.8h-.8zM377.9 100.0h.8v.8h-.8zM388.9 95.2h.8v.8h-.8zM384.0 108.8h.8v.8h-.8zM383.0 98.0h.8v.8h-.8zM373.1 98.3h.8v.8h-.8zM374.2 86.3h.8v.8h-.8zM393.7 105.3h.8v.8h-.8zM397.0 101.7h.8v.8h-.8zM394.7 104.5h.8v.8h-.8zM401.9 104.8h.8v.8h-.8zM395.6 102.9h.8v.8h-.8zM394.7 98.8h.8v.8h-.8zM400.3 103.8h.8v.8h-.8zM399.0 102.5h.8v.8h-.8zM390.1 110.6h.8v.8h-.8zM397.6 106.3h.8v.8h-.8zM397.6 106.9h.8v.8h-.8zM396.9 100.4h.8v.8h-.8zM398.1 102.1h.8v.8h-.8zM392.7 104.9h.8v.8h-.8zM401.3 100.2h.8v.8h-.8z" fill-opacity="0.088"/>
<path d="M375.7 100.6h.8v.8h-.8zM384.8 97.4h.8v.8h-.8zM384.9 93.1h.8v.8h-.8zM394.0 102.9h.8v.8h-.8zM391.9 88.2h.8v.8h-.8zM397.1 99.9h.8v.8h-.8zM385.0 105.4h.8v.8h-.8zM377.1 98.3h.8v.8h-.8zM379.3 107.2h.8v.8h-.8zM381.6 102.4h.8v.8h-.8zM397.5 91.5h.8v.8h-.8zM381.7 101.4h.8v.8h-.8zM383.1 100.2h.8v.8h-.8zM379.1 109.3h.8v.8h-.8zM387.6 94.2h.8v.8h-.8zM389.8 101.8h.8v.8h-.8zM397.0 102.3h.8v.8h-.8zM380.2 103.9h.8v.8h-.8zM390.1 89.6h.8v.8h-.8zM383.7 109.8h.8v.8h-.8zM386.3 89.9h.8v.8h-.8zM392.8 97.5h.8v.8h-.8zM399.2 104.7h.8v.8h-.8zM398.2 105.0h.8v.8h-.8zM385.4 101.5h.8v.8h-.8zM385.3 86.4h.8v.8h-.8zM398.5 87.2h.8v.8h-.8zM386.4 89.2h.8v.8h-.8zM385.5 85.4h.8v.8h-.8zM392.1 99.3h.8v.8h-.8zM374.9 84.7h.8v.8h-.8zM391.8 91.1h.8v.8h-.8zM383.2 109.4h.8v.8h-.8zM394.8 89.7h.8v.8h-.8zM396.6 97.1h.8v.8h-.8zM384.7 105.9h.8v.8h-.8zM373.6 101.2h.8v.8h-.8zM397.6 92.0h.8v.8h-.8zM388.2 95.0h.8v.8h-.8zM383.1 106.0h.8v.8h-.8zM380.1 104.1h.8v.8h-.8zM386.6 96.1h.8v.8h-.8zM379.9 88.6h.8v.8h-.8zM375.2 85.8h.8v.8h-.8zM374.8 101.7h.8v.8h-.8zM375.5 84.7h.8v.8h-.8zM394.0 99.4h.8v.8h-.8zM379.6 110.4h.8v.8h-.8zM377.1 108.3h.8v.8h-.8zM398.3 96.0h.8v.8h-.8zM399.8 101.7h.8v.8h-.8zM397.4 100.6h.8v.8h-.8zM401.9 102.5h.8v.8h-.8zM395.5 105.6h.8v.8h-.8zM391.5 102.8h.8v.8h-.8zM395.8 99.5h.8v.8h-.8zM399.6 97.7h.8v.8h-.8zM398.9 104.5h.8v.8h-.8zM398.2 103.2h.8v.8h-.8zM400.3 104.3h.8v.8h-.8zM401.4 102.6h.8v.8h-.8zM395.8 109.7h.8v.8h-.8zM402.1 98.9h.8v.8h-.8zM395.6 105.9h.8v.8h-.8zM397.0 110.9h.8v.8h-.8zM395.2 101.0h.8v.8h-.8zM398.5 109.5h.8v.8h-.8zM398.6 101.1h.8v.8h-.8z" fill-opacity="0.136"/>
<ellipse cx="379.45" cy="92.40" rx="1.3" ry="6" fill="url(#rg)" fill-opacity="0.06"/>
<ellipse cx="383.35" cy="92.40" rx="1.3" ry="6" fill="url(#rg)" fill-opacity="0.06"/>
<ellipse cx="387.15" cy="92.40" rx="1.3" ry="6" fill="url(#rg)" fill-opacity="0.06"/>
<ellipse cx="390.95" cy="92.40" rx="1.3" ry="6" fill="url(#rg)" fill-opacity="0.07"/>
<ellipse cx="395.25" cy="98.40" rx="2.8" ry="11.5" fill="url(#rf)" fill-opacity="0.22"/>
<ellipse cx="395.25" cy="94.80" rx="1.8" ry="4.0" fill="url(#rg)" fill-opacity="0.74"/>
<ellipse cx="395.25" cy="104.00" rx="2.0" ry="4.5" fill="url(#rg)" fill-opacity="0.8"/>
<ellipse cx="395.25" cy="99.40" rx="1.3" ry="3" fill="url(#rg)" fill-opacity="0.3"/>
<ellipse cx="396.75" cy="106.90" rx="3.5" ry="3.5" fill="url(#rf)" fill-opacity="0.12"/>
</g></g>
<rect x="367.45" y="75.40" width="37.2" height="37.3" rx="0.8" fill="none" stroke="#000" stroke-width="1.25"/>
<text x="361.75" y="81.30" font-size="4.8" text-anchor="end" textLength="5.90" lengthAdjust="spacingAndGlyphs" stroke="#222" stroke-width="0.12">10</text>
<text x="361.95" y="79.00" font-size="3.0" textLength="1.50" lengthAdjust="spacingAndGlyphs">4</text>
<text x="361.75" y="91.50" font-size="4.8" text-anchor="end" textLength="5.90" lengthAdjust="spacingAndGlyphs" stroke="#222" stroke-width="0.12">10</text>
<text x="361.95" y="89.20" font-size="3.0" textLength="1.50" lengthAdjust="spacingAndGlyphs">3</text>
<text x="361.75" y="101.30" font-size="4.8" text-anchor="end" textLength="5.90" lengthAdjust="spacingAndGlyphs" stroke="#222" stroke-width="0.12">10</text>
<text x="361.95" y="99.00" font-size="3.0" textLength="1.50" lengthAdjust="spacingAndGlyphs">2</text>
<text transform="translate(363.25,104.40) rotate(-60)" font-size="4.6" text-anchor="middle" dy="1.6" fill="#222">0</text>
<text x="361.75" y="111.50" font-size="4.8" text-anchor="end" textLength="8.40" lengthAdjust="spacingAndGlyphs" stroke="#222" stroke-width="0.12">-10</text>
<text x="361.95" y="109.20" font-size="3.0" textLength="1.50" lengthAdjust="spacingAndGlyphs">2</text>
<text x="374.75" y="121.50" font-size="4.8" text-anchor="middle" textLength="2.75" lengthAdjust="spacingAndGlyphs" stroke="#222" stroke-width="0.12">0</text>
<text x="384.00" y="121.50" font-size="4.8" textLength="5.50" lengthAdjust="spacingAndGlyphs" stroke="#222" stroke-width="0.12">10</text>
<text x="389.80" y="119.20" font-size="3.0" textLength="1.50" lengthAdjust="spacingAndGlyphs">3</text>
<text x="396.25" y="121.50" font-size="4.8" textLength="5.50" lengthAdjust="spacingAndGlyphs" stroke="#222" stroke-width="0.12">10</text>
<text x="402.05" y="119.20" font-size="3.0" textLength="1.50" lengthAdjust="spacingAndGlyphs">4</text>
<path d="M420.0 96.15h1.6M420.0 94.42h1.6M420.0 93.20h1.6M420.0 92.25h1.6M420.0 91.47h1.6M420.0 90.82h1.6M420.0 90.25h1.6M420.0 89.75h1.6M420.0 86.35h1.6M420.0 84.62h1.6M420.0 83.40h1.6M420.0 82.45h1.6M420.0 81.67h1.6M420.0 81.02h1.6M420.0 80.45h1.6M420.0 79.95h1.6M420.0 76.55h1.6M420.0 100.40h1.6M420.0 101.70h1.6M420.0 103.00h1.6M420.0 104.30h1.6M420.0 105.60h1.6M420.0 106.90h1.6M420.0 108.20h1.6M420.0 109.50h1.6M433.24 112.7v1.6M445.49 112.7v1.6M435.39 112.7v1.6M447.64 112.7v1.6M436.93 112.7v1.6M449.18 112.7v1.6M438.11 112.7v1.6M450.36 112.7v1.6M439.08 112.7v1.6M451.33 112.7v1.6M439.90 112.7v1.6M452.15 112.7v1.6M440.61 112.7v1.6M452.86 112.7v1.6M441.24 112.7v1.6M453.49 112.7v1.6M457.74 112.7v1.6M427.50 112.7v1.6M426.10 112.7v1.6M424.70 112.7v1.6" stroke="#111" stroke-width="0.75" fill="none"/>
<path d="M419.0 99.10h2.6M419.0 89.30h2.6M419.0 79.50h2.6M419.0 104.40h2.6M419.0 109.80h2.6M428.90 112.7v2.6M441.80 112.7v2.6M454.05 112.7v2.6" stroke="#111" stroke-width="0.95" fill="none"/>
<clipPath id="c7"><rect x="422.10" y="75.90" width="36.20" height="36.30"/></clipPath>
<g clip-path="url(#c7)"><g filter="url(#dens)">
<rect x="426.60" y="85.40" width="27.00" height="25.00" rx="5" fill-opacity="0.08" filter="url(#soft)"/>
<rect x="426.60" y="84.90" width="21.00" height="13.50" rx="5" fill-opacity="0.07" filter="url(#soft)"/>
<path d="M434.5 84.9h.8v.8h-.8zM445.4 99.7h.8v.8h-.8zM443.1 85.6h.8v.8h-.8zM449.6 87.3h.8v.8h-.8zM444.6 93.1h.8v.8h-.8zM431.9 102.7h.8v.8h-.8zM450.4 103.4h.8v.8h-.8zM445.1 109.0h.8v.8h-.8zM452.4 92.9h.8v.8h-.8zM432.1 108.9h.8v.8h-.8zM435.8 93.0h.8v.8h-.8zM454.4 91.5h.8v.8h-.8zM433.4 108.1h.8v.8h-.8zM442.5 108.5h.8v.8h-.8zM447.0 98.5h.8v.8h-.8zM437.6 101.2h.8v.8h-.8zM437.1 94.9h.8v.8h-.8zM452.5 98.0h.8v.8h-.8zM428.8 105.7h.8v.8h-.8zM445.1 97.5h.8v.8h-.8zM446.9 88.5h.8v.8h-.8zM434.1 88.5h.8v.8h-.8zM449.3 103.1h.8v.8h-.8zM448.1 95.0h.8v.8h-.8zM441.2 91.5h.8v.8h-.8zM428.2 100.2h.8v.8h-.8zM450.2 95.1h.8v.8h-.8zM432.6 103.7h.8v.8h-.8zM432.0 86.3h.8v.8h-.8zM448.1 93.6h.8v.8h-.8zM450.4 107.4h.8v.8h-.8zM434.0 109.6h.8v.8h-.8zM449.5 99.1h.8v.8h-.8zM440.0 102.8h.8v.8h-.8zM433.4 85.5h.8v.8h-.8zM437.2 98.1h.8v.8h-.8zM450.4 85.4h.8v.8h-.8zM430.0 92.5h.8v.8h-.8zM445.9 84.8h.8v.8h-.8zM450.0 94.5h.8v.8h-.8zM430.6 93.9h.8v.8h-.8zM435.2 105.3h.8v.8h-.8zM433.7 86.6h.8v.8h-.8zM435.2 87.1h.8v.8h-.8zM439.7 92.6h.8v.8h-.8zM443.2 96.1h.8v.8h-.8zM452.2 95.5h.8v.8h-.8zM438.7 98.1h.8v.8h-.8zM432.7 105.1h.8v.8h-.8zM441.7 102.7h.8v.8h-.8zM435.0 103.4h.8v.8h-.8zM451.6 86.0h.8v.8h-.8zM428.9 94.2h.8v.8h-.8zM454.1 87.9h.8v.8h-.8zM438.2 100.5h.8v.8h-.8zM427.3 88.7h.8v.8h-.8zM436.7 103.2h.8v.8h-.8zM444.1 87.4h.8v.8h-.8zM441.2 98.0h.8v.8h-.8zM436.3 87.8h.8v.8h-.8zM427.8 104.2h.8v.8h-.8zM451.9 84.7h.8v.8h-.8zM433.4 102.9h.8v.8h-.8zM449.4 107.1h.8v.8h-.8zM430.1 109.8h.8v.8h-.8zM435.2 101.7h.8v.8h-.8zM440.6 89.8h.8v.8h-.8zM453.0 98.4h.8v.8h-.8zM428.4 103.1h.8v.8h-.8zM454.4 89.8h.8v.8h-.8zM445.9 104.9h.8v.8h-.8zM452.9 101.3h.8v.8h-.8zM434.2 96.5h.8v.8h-.8zM448.4 92.9h.8v.8h-.8zM453.9 110.4h.8v.8h-.8zM436.0 89.3h.8v.8h-.8zM443.1 94.4h.8v.8h-.8zM445.2 88.0h.8v.8h-.8zM444.9 96.9h.8v.8h-.8zM440.4 85.0h.8v.8h-.8zM436.0 93.9h.8v.8h-.8zM429.7 96.4h.8v.8h-.8zM443.8 104.8h.8v.8h-.8zM442.6 84.8h.8v.8h-.8zM427.8 93.1h.8v.8h-.8zM449.8 108.1h.8v.8h-.8zM426.7 97.4h.8v.8h-.8zM430.6 98.9h.8v.8h-.8zM443.9 100.1h.8v.8h-.8zM454.1 92.5h.8v.8h-.8zM447.4 92.2h.8v.8h-.8zM450.5 93.9h.8v.8h-.8zM449.2 100.6h.8v.8h-.8zM429.8 99.9h.8v.8h-.8zM439.9 99.5h.8v.8h-.8zM439.1 93.6h.8v.8h-.8zM430.3 94.3h.8v.8h-.8zM442.4 99.7h.8v.8h-.8zM443.9 105.5h.8v.8h-.8zM449.6 89.7h.8v.8h-.8zM442.9 88.1h.8v.8h-.8zM452.6 89.9h.8v.8h-.8zM438.1 93.8h.8v.8h-.8zM431.5 87.6h.8v.8h-.8zM450.3 104.1h.8v.8h-.8zM454.5 92.9h.8v.8h-.8zM429.1 95.4h.8v.8h-.8zM452.8 109.9h.8v.8h-.8zM454.1 103.2h.8v.8h-.8zM453.6 102.6h.8v.8h-.8zM449.3 103.2h.8v.8h-.8zM449.9 110.5h.8v.8h-.8zM449.8 102.5h.8v.8h-.8zM448.4 107.8h.8v.8h-.8zM453.2 106.0h.8v.8h-.8zM452.4 101.2h.8v.8h-.8zM449.9 104.5h.8v.8h-.8zM451.2 101.7h.8v.8h-.8zM447.7 95.9h.8v.8h-.8zM447.4 102.0h.8v.8h-.8zM450.3 106.7h.8v.8h-.8z" fill-opacity="0.056"/>
<path d="M427.2 106.7h.8v.8h-.8zM439.3 95.4h.8v.8h-.8zM452.3 86.6h.8v.8h-.8zM446.2 104.9h.8v.8h-.8zM450.2 85.9h.8v.8h-.8zM434.7 106.0h.8v.8h-.8zM436.4 91.7h.8v.8h-.8zM436.3 95.8h.8v.8h-.8zM440.0 95.1h.8v.8h-.8zM430.3 95.0h.8v.8h-.8zM433.8 91.1h.8v.8h-.8zM438.4 98.4h.8v.8h-.8zM433.8 86.0h.8v.8h-.8zM442.2 94.6h.8v.8h-.8zM435.4 90.3h.8v.8h-.8zM450.2 104.8h.8v.8h-.8zM441.0 93.1h.8v.8h-.8zM430.7 96.3h.8v.8h-.8zM449.6 92.3h.8v.8h-.8zM447.4 105.2h.8v.8h-.8zM445.8 96.1h.8v.8h-.8zM451.9 107.3h.8v.8h-.8zM450.9 92.2h.8v.8h-.8zM432.6 103.7h.8v.8h-.8zM442.1 93.5h.8v.8h-.8zM438.6 104.7h.8v.8h-.8zM429.2 110.1h.8v.8h-.8zM449.8 109.1h.8v.8h-.8zM444.3 92.1h.8v.8h-.8zM432.4 97.0h.8v.8h-.8zM437.8 109.7h.8v.8h-.8zM442.5 103.6h.8v.8h-.8zM444.8 95.7h.8v.8h-.8zM437.2 98.9h.8v.8h-.8zM454.0 102.2h.8v.8h-.8zM440.0 91.1h.8v.8h-.8zM450.1 106.8h.8v.8h-.8zM449.6 99.1h.8v.8h-.8zM432.0 99.2h.8v.8h-.8zM453.9 95.9h.8v.8h-.8zM440.1 94.3h.8v.8h-.8zM426.9 90.4h.8v.8h-.8zM444.6 104.7h.8v.8h-.8zM442.2 103.9h.8v.8h-.8zM453.0 93.1h.8v.8h-.8zM433.8 100.5h.8v.8h-.8zM448.5 107.5h.8v.8h-.8zM440.4 103.2h.8v.8h-.8zM449.3 95.2h.8v.8h-.8zM433.2 106.1h.8v.8h-.8zM428.3 87.3h.8v.8h-.8zM445.5 104.5h.8v.8h-.8zM451.5 98.1h.8v.8h-.8zM449.7 106.6h.8v.8h-.8zM439.3 103.1h.8v.8h-.8zM447.5 99.4h.8v.8h-.8zM451.3 103.9h.8v.8h-.8zM449.1 107.9h.8v.8h-.8zM453.5 102.3h.8v.8h-.8zM450.4 103.2h.8v.8h-.8zM454.9 113.3h.8v.8h-.8zM451.1 100.9h.8v.8h-.8zM452.0 108.6h.8v.8h-.8zM453.5 111.3h.8v.8h-.8zM453.3 105.8h.8v.8h-.8zM451.2 108.8h.8v.8h-.8zM452.7 107.3h.8v.8h-.8zM448.4 108.6h.8v.8h-.8zM447.5 105.0h.8v.8h-.8zM447.7 105.5h.8v.8h-.8zM447.0 97.8h.8v.8h-.8zM445.5 99.5h.8v.8h-.8zM452.2 103.9h.8v.8h-.8zM452.0 105.6h.8v.8h-.8z" fill-opacity="0.088"/>
<path d="M441.1 104.8h.8v.8h-.8zM428.8 86.5h.8v.8h-.8zM442.6 92.5h.8v.8h-.8zM441.2 86.9h.8v.8h-.8zM429.1 90.0h.8v.8h-.8zM452.2 91.8h.8v.8h-.8zM439.5 91.9h.8v.8h-.8zM433.4 103.1h.8v.8h-.8zM429.3 107.2h.8v.8h-.8zM429.7 99.8h.8v.8h-.8zM454.2 94.2h.8v.8h-.8zM448.0 106.1h.8v.8h-.8zM445.2 108.6h.8v.8h-.8zM442.7 89.8h.8v.8h-.8zM430.9 90.7h.8v.8h-.8zM446.1 100.1h.8v.8h-.8zM432.7 85.1h.8v.8h-.8zM437.5 106.0h.8v.8h-.8zM446.0 92.2h.8v.8h-.8zM434.6 90.5h.8v.8h-.8zM448.0 85.1h.8v.8h-.8zM432.5 108.9h.8v.8h-.8zM431.7 93.5h.8v.8h-.8zM448.1 108.5h.8v.8h-.8zM449.7 90.0h.8v.8h-.8zM447.4 94.6h.8v.8h-.8zM439.9 88.7h.8v.8h-.8zM448.1 107.5h.8v.8h-.8zM438.0 94.1h.8v.8h-.8zM436.1 91.2h.8v.8h-.8zM452.2 88.3h.8v.8h-.8zM448.7 85.6h.8v.8h-.8zM435.6 91.0h.8v.8h-.8zM445.0 92.1h.8v.8h-.8zM444.3 109.8h.8v.8h-.8zM438.7 87.4h.8v.8h-.8zM443.2 104.7h.8v.8h-.8zM451.6 92.1h.8v.8h-.8zM442.0 103.2h.8v.8h-.8zM430.3 89.0h.8v.8h-.8zM441.3 109.7h.8v.8h-.8zM447.1 90.1h.8v.8h-.8zM434.1 86.7h.8v.8h-.8zM443.3 99.2h.8v.8h-.8zM433.9 104.2h.8v.8h-.8zM437.3 100.1h.8v.8h-.8zM439.7 90.3h.8v.8h-.8zM432.3 106.8h.8v.8h-.8zM440.1 87.1h.8v.8h-.8zM442.9 102.1h.8v.8h-.8zM439.8 105.7h.8v.8h-.8zM436.3 97.9h.8v.8h-.8zM447.4 106.6h.8v.8h-.8zM437.8 95.8h.8v.8h-.8zM439.2 89.3h.8v.8h-.8zM436.4 95.6h.8v.8h-.8zM430.4 108.3h.8v.8h-.8zM449.1 101.2h.8v.8h-.8zM445.1 98.6h.8v.8h-.8zM443.3 106.8h.8v.8h-.8zM454.8 103.8h.8v.8h-.8zM451.6 104.3h.8v.8h-.8zM452.2 97.8h.8v.8h-.8zM454.7 107.7h.8v.8h-.8zM449.4 103.7h.8v.8h-.8zM449.6 106.4h.8v.8h-.8zM454.0 104.8h.8v.8h-.8zM445.8 101.5h.8v.8h-.8zM444.5 98.1h.8v.8h-.8zM454.2 105.4h.8v.8h-.8zM447.2 105.6h.8v.8h-.8zM450.4 111.0h.8v.8h-.8zM447.6 98.9h.8v.8h-.8zM451.6 106.8h.8v.8h-.8zM453.8 99.5h.8v.8h-.8z" fill-opacity="0.136"/>
<ellipse cx="433.60" cy="92.40" rx="1.3" ry="6" fill="url(#rg)" fill-opacity="0.06"/>
<ellipse cx="437.50" cy="92.40" rx="1.3" ry="6" fill="url(#rg)" fill-opacity="0.06"/>
<ellipse cx="441.30" cy="92.40" rx="1.3" ry="6" fill="url(#rg)" fill-opacity="0.06"/>
<ellipse cx="445.10" cy="92.40" rx="1.3" ry="6" fill="url(#rg)" fill-opacity="0.07"/>
<ellipse cx="449.60" cy="98.40" rx="2.8" ry="11.5" fill="url(#rf)" fill-opacity="0.22"/>
<ellipse cx="449.60" cy="94.80" rx="1.8" ry="4.0" fill="url(#rg)" fill-opacity="0.74"/>
<ellipse cx="449.60" cy="104.00" rx="2.0" ry="4.5" fill="url(#rg)" fill-opacity="0.8"/>
<ellipse cx="449.60" cy="99.40" rx="1.3" ry="3" fill="url(#rg)" fill-opacity="0.3"/>
<ellipse cx="451.10" cy="106.90" rx="3.5" ry="3.5" fill="url(#rf)" fill-opacity="0.12"/>
</g></g>
<rect x="421.60" y="75.40" width="37.2" height="37.3" rx="0.8" fill="none" stroke="#000" stroke-width="1.25"/>
<text x="415.90" y="81.30" font-size="4.8" text-anchor="end" textLength="5.90" lengthAdjust="spacingAndGlyphs" stroke="#222" stroke-width="0.12">10</text>
<text x="416.10" y="79.00" font-size="3.0" textLength="1.50" lengthAdjust="spacingAndGlyphs">4</text>
<text x="415.90" y="91.50" font-size="4.8" text-anchor="end" textLength="5.90" lengthAdjust="spacingAndGlyphs" stroke="#222" stroke-width="0.12">10</text>
<text x="416.10" y="89.20" font-size="3.0" textLength="1.50" lengthAdjust="spacingAndGlyphs">3</text>
<text x="415.90" y="101.30" font-size="4.8" text-anchor="end" textLength="5.90" lengthAdjust="spacingAndGlyphs" stroke="#222" stroke-width="0.12">10</text>
<text x="416.10" y="99.00" font-size="3.0" textLength="1.50" lengthAdjust="spacingAndGlyphs">2</text>
<text transform="translate(417.40,104.40) rotate(-60)" font-size="4.6" text-anchor="middle" dy="1.6" fill="#222">0</text>
<text x="415.90" y="111.50" font-size="4.8" text-anchor="end" textLength="8.40" lengthAdjust="spacingAndGlyphs" stroke="#222" stroke-width="0.12">-10</text>
<text x="416.10" y="109.20" font-size="3.0" textLength="1.50" lengthAdjust="spacingAndGlyphs">2</text>
<text x="428.90" y="121.50" font-size="4.8" text-anchor="middle" textLength="2.75" lengthAdjust="spacingAndGlyphs" stroke="#222" stroke-width="0.12">0</text>
<text x="438.15" y="121.50" font-size="4.8" textLength="5.50" lengthAdjust="spacingAndGlyphs" stroke="#222" stroke-width="0.12">10</text>
<text x="443.95" y="119.20" font-size="3.0" textLength="1.50" lengthAdjust="spacingAndGlyphs">3</text>
<text x="450.40" y="121.50" font-size="4.8" textLength="5.50" lengthAdjust="spacingAndGlyphs" stroke="#222" stroke-width="0.12">10</text>
<text x="456.20" y="119.20" font-size="3.0" textLength="1.50" lengthAdjust="spacingAndGlyphs">4</text>
<path d="M474.1 96.15h1.6M474.1 94.42h1.6M474.1 93.20h1.6M474.1 92.25h1.6M474.1 91.47h1.6M474.1 90.82h1.6M474.1 90.25h1.6M474.1 89.75h1.6M474.1 86.35h1.6M474.1 84.62h1.6M474.1 83.40h1.6M474.1 82.45h1.6M474.1 81.67h1.6M474.1 81.02h1.6M474.1 80.45h1.6M474.1 79.95h1.6M474.1 76.55h1.6M474.1 100.40h1.6M474.1 101.70h1.6M474.1 103.00h1.6M474.1 104.30h1.6M474.1 105.60h1.6M474.1 106.90h1.6M474.1 108.20h1.6M474.1 109.50h1.6M487.39 112.7v1.6M499.64 112.7v1.6M489.54 112.7v1.6M501.79 112.7v1.6M491.08 112.7v1.6M503.33 112.7v1.6M492.26 112.7v1.6M504.51 112.7v1.6M493.23 112.7v1.6M505.48 112.7v1.6M494.05 112.7v1.6M506.30 112.7v1.6M494.76 112.7v1.6M507.01 112.7v1.6M495.39 112.7v1.6M507.64 112.7v1.6M511.89 112.7v1.6M481.65 112.7v1.6M480.25 112.7v1.6M478.85 112.7v1.6" stroke="#111" stroke-width="0.75" fill="none"/>
<path d="M473.1 99.10h2.6M473.1 89.30h2.6M473.1 79.50h2.6M473.1 104.40h2.6M473.1 109.80h2.6M483.05 112.7v2.6M495.95 112.7v2.6M508.20 112.7v2.6" stroke="#111" stroke-width="0.95" fill="none"/>
<clipPath id="c8"><rect x="476.25" y="75.90" width="36.20" height="36.30"/></clipPath>
<g clip-path="url(#c8)"><g filter="url(#dens)">
<rect x="480.65" y="83.10" width="26.70" height="28.30" rx="5" fill-opacity="0.1" filter="url(#soft)"/>
<rect x="482.65" y="85.10" width="22.70" height="24.30" rx="5" fill-opacity="0.14" filter="url(#soft)"/>
<path d="M488.3 94.8h.8v.8h-.8zM485.1 93.5h.8v.8h-.8zM480.9 95.2h.8v.8h-.8zM487.0 92.1h.8v.8h-.8zM503.0 103.8h.8v.8h-.8zM489.9 84.7h.8v.8h-.8zM506.5 98.6h.8v.8h-.8zM486.5 94.3h.8v.8h-.8zM501.7 99.6h.8v.8h-.8zM481.2 106.2h.8v.8h-.8zM496.6 103.9h.8v.8h-.8zM482.5 110.4h.8v.8h-.8zM483.9 101.3h.8v.8h-.8zM504.9 102.3h.8v.8h-.8zM507.7 83.5h.8v.8h-.8zM497.5 97.4h.8v.8h-.8zM486.8 97.4h.8v.8h-.8zM488.8 109.3h.8v.8h-.8zM485.9 92.1h.8v.8h-.8zM506.1 109.2h.8v.8h-.8zM503.3 93.6h.8v.8h-.8zM500.9 91.4h.8v.8h-.8zM483.2 90.0h.8v.8h-.8zM484.9 81.7h.8v.8h-.8zM490.1 101.8h.8v.8h-.8zM492.4 104.0h.8v.8h-.8zM487.3 83.4h.8v.8h-.8zM496.0 85.3h.8v.8h-.8zM486.4 92.5h.8v.8h-.8zM498.3 97.8h.8v.8h-.8zM491.4 97.2h.8v.8h-.8zM484.9 94.9h.8v.8h-.8zM485.7 82.3h.8v.8h-.8zM508.4 87.7h.8v.8h-.8zM504.5 109.5h.8v.8h-.8zM489.5 84.4h.8v.8h-.8zM490.1 109.5h.8v.8h-.8zM484.7 91.5h.8v.8h-.8zM491.1 87.2h.8v.8h-.8zM495.1 89.7h.8v.8h-.8zM485.2 108.3h.8v.8h-.8zM506.6 106.8h.8v.8h-.8zM489.8 99.5h.8v.8h-.8zM493.5 109.0h.8v.8h-.8zM507.9 95.3h.8v.8h-.8zM494.5 98.1h.8v.8h-.8zM493.4 85.0h.8v.8h-.8zM504.4 88.5h.8v.8h-.8zM484.8 82.8h.8v.8h-.8zM482.6 108.5h.8v.8h-.8zM498.3 101.0h.8v.8h-.8zM502.1 83.2h.8v.8h-.8zM492.3 83.4h.8v.8h-.8zM497.6 103.0h.8v.8h-.8zM499.1 108.3h.8v.8h-.8zM485.5 93.1h.8v.8h-.8zM508.2 110.2h.8v.8h-.8zM495.7 90.9h.8v.8h-.8zM501.3 104.0h.8v.8h-.8zM489.6 91.7h.8v.8h-.8zM502.0 85.3h.8v.8h-.8zM500.0 85.8h.8v.8h-.8zM491.8 107.1h.8v.8h-.8zM482.8 83.7h.8v.8h-.8zM502.9 91.6h.8v.8h-.8zM488.5 88.6h.8v.8h-.8zM491.3 97.8h.8v.8h-.8zM503.7 83.8h.8v.8h-.8zM507.1 92.6h.8v.8h-.8zM505.2 100.9h.8v.8h-.8zM493.6 100.5h.8v.8h-.8zM498.6 106.8h.8v.8h-.8zM488.0 102.4h.8v.8h-.8zM498.1 87.0h.8v.8h-.8zM483.4 105.7h.8v.8h-.8zM502.6 93.7h.8v.8h-.8zM495.5 110.8h.8v.8h-.8zM499.3 109.9h.8v.8h-.8zM506.0 93.7h.8v.8h-.8z" fill-opacity="0.070"/>
<path d="M494.0 109.9h.8v.8h-.8zM492.5 111.0h.8v.8h-.8zM482.5 105.1h.8v.8h-.8zM491.3 98.9h.8v.8h-.8zM494.0 93.7h.8v.8h-.8zM505.3 108.8h.8v.8h-.8zM489.0 87.0h.8v.8h-.8zM508.7 103.9h.8v.8h-.8zM497.1 88.7h.8v.8h-.8zM498.5 89.0h.8v.8h-.8zM502.7 105.7h.8v.8h-.8zM490.0 91.3h.8v.8h-.8zM502.9 108.2h.8v.8h-.8zM496.5 92.5h.8v.8h-.8zM506.6 87.3h.8v.8h-.8zM484.5 100.4h.8v.8h-.8zM496.3 101.9h.8v.8h-.8zM489.2 99.0h.8v.8h-.8zM487.6 85.5h.8v.8h-.8zM481.6 93.6h.8v.8h-.8zM485.3 99.8h.8v.8h-.8zM480.2 103.7h.8v.8h-.8zM508.3 107.5h.8v.8h-.8zM495.8 99.7h.8v.8h-.8zM505.9 95.8h.8v.8h-.8zM484.8 89.7h.8v.8h-.8zM501.3 102.7h.8v.8h-.8zM495.4 82.7h.8v.8h-.8zM480.6 87.0h.8v.8h-.8zM484.3 101.1h.8v.8h-.8zM503.6 90.3h.8v.8h-.8zM483.1 83.3h.8v.8h-.8zM482.5 86.7h.8v.8h-.8zM500.7 98.2h.8v.8h-.8zM499.3 108.5h.8v.8h-.8zM495.5 101.5h.8v.8h-.8zM491.0 87.6h.8v.8h-.8zM483.1 84.9h.8v.8h-.8z" fill-opacity="0.110"/>
<path d="M500.5 99.6h.8v.8h-.8zM480.6 107.4h.8v.8h-.8zM486.3 104.3h.8v.8h-.8zM486.5 100.2h.8v.8h-.8zM498.0 97.2h.8v.8h-.8zM502.1 102.9h.8v.8h-.8zM505.7 98.5h.8v.8h-.8zM499.4 98.2h.8v.8h-.8zM482.3 98.0h.8v.8h-.8zM503.4 96.4h.8v.8h-.8zM491.3 105.5h.8v.8h-.8zM498.7 82.5h.8v.8h-.8zM499.8 82.6h.8v.8h-.8zM488.0 91.4h.8v.8h-.8zM489.3 91.9h.8v.8h-.8zM489.7 89.5h.8v.8h-.8zM490.5 84.0h.8v.8h-.8zM501.2 81.8h.8v.8h-.8zM500.4 89.3h.8v.8h-.8zM481.0 88.5h.8v.8h-.8zM481.2 93.3h.8v.8h-.8zM500.3 86.0h.8v.8h-.8zM489.4 106.5h.8v.8h-.8zM508.0 99.1h.8v.8h-.8zM496.8 82.7h.8v.8h-.8zM482.2 92.8h.8v.8h-.8zM500.1 95.9h.8v.8h-.8zM501.3 87.6h.8v.8h-.8zM497.7 110.7h.8v.8h-.8zM480.5 85.9h.8v.8h-.8zM492.9 86.1h.8v.8h-.8zM493.8 82.3h.8v.8h-.8zM505.1 99.3h.8v.8h-.8zM486.6 105.2h.8v.8h-.8zM492.8 88.5h.8v.8h-.8zM483.6 88.0h.8v.8h-.8zM485.8 104.8h.8v.8h-.8zM498.1 98.3h.8v.8h-.8zM481.7 92.2h.8v.8h-.8zM486.3 95.9h.8v.8h-.8zM495.8 103.8h.8v.8h-.8zM493.3 105.1h.8v.8h-.8zM501.3 101.3h.8v.8h-.8z" fill-opacity="0.170"/>
<ellipse cx="486.15" cy="91.00" rx="4.64" ry="5.65" fill="url(#rg)" fill-opacity="0.55"/>
<ellipse cx="491.35" cy="91.00" rx="2.17" ry="5.22" fill="url(#rg)" fill-opacity="0.45"/>
<ellipse cx="495.45" cy="91.00" rx="2.03" ry="5.22" fill="url(#rg)" fill-opacity="0.42"/>
<ellipse cx="499.45" cy="91.00" rx="2.03" ry="5.22" fill="url(#rg)" fill-opacity="0.4"/>
<ellipse cx="503.85" cy="91.00" rx="2.61" ry="6.38" fill="url(#rg)" fill-opacity="0.9"/>
<ellipse cx="486.15" cy="102.30" rx="4.35" ry="5.22" fill="url(#rg)" fill-opacity="0.38"/>
<ellipse cx="491.35" cy="102.30" rx="2.17" ry="5.22" fill="url(#rg)" fill-opacity="0.4"/>
<ellipse cx="495.45" cy="102.30" rx="2.03" ry="5.22" fill="url(#rg)" fill-opacity="0.36"/>
<ellipse cx="499.45" cy="102.30" rx="2.03" ry="5.22" fill="url(#rg)" fill-opacity="0.33"/>
<ellipse cx="503.85" cy="102.30" rx="2.61" ry="6.38" fill="url(#rg)" fill-opacity="0.92"/>
</g></g>
<rect x="475.75" y="75.40" width="37.2" height="37.3" rx="0.8" fill="none" stroke="#000" stroke-width="1.25"/>
<text x="470.05" y="81.30" font-size="4.8" text-anchor="end" textLength="5.90" lengthAdjust="spacingAndGlyphs" stroke="#222" stroke-width="0.12">10</text>
<text x="470.25" y="79.00" font-size="3.0" textLength="1.50" lengthAdjust="spacingAndGlyphs">4</text>
<text x="470.05" y="91.50" font-size="4.8" text-anchor="end" textLength="5.90" lengthAdjust="spacingAndGlyphs" stroke="#222" stroke-width="0.12">10</text>
<text x="470.25" y="89.20" font-size="3.0" textLength="1.50" lengthAdjust="spacingAndGlyphs">3</text>
<text x="470.05" y="101.30" font-size="4.8" text-anchor="end" textLength="5.90" lengthAdjust="spacingAndGlyphs" stroke="#222" stroke-width="0.12">10</text>
<text x="470.25" y="99.00" font-size="3.0" textLength="1.50" lengthAdjust="spacingAndGlyphs">2</text>
<text transform="translate(471.55,104.40) rotate(-60)" font-size="4.6" text-anchor="middle" dy="1.6" fill="#222">0</text>
<text x="470.05" y="111.50" font-size="4.8" text-anchor="end" textLength="8.40" lengthAdjust="spacingAndGlyphs" stroke="#222" stroke-width="0.12">-10</text>
<text x="470.25" y="109.20" font-size="3.0" textLength="1.50" lengthAdjust="spacingAndGlyphs">2</text>
<text x="483.05" y="121.50" font-size="4.8" text-anchor="middle" textLength="2.75" lengthAdjust="spacingAndGlyphs" stroke="#222" stroke-width="0.12">0</text>
<text x="492.30" y="121.50" font-size="4.8" textLength="5.50" lengthAdjust="spacingAndGlyphs" stroke="#222" stroke-width="0.12">10</text>
<text x="498.10" y="119.20" font-size="3.0" textLength="1.50" lengthAdjust="spacingAndGlyphs">3</text>
<text x="504.55" y="121.50" font-size="4.8" textLength="5.50" lengthAdjust="spacingAndGlyphs" stroke="#222" stroke-width="0.12">10</text>
<text x="510.35" y="119.20" font-size="3.0" textLength="1.50" lengthAdjust="spacingAndGlyphs">4</text>
<path d="M311.7 148.75h1.6M311.7 147.02h1.6M311.7 145.80h1.6M311.7 144.85h1.6M311.7 144.07h1.6M311.7 143.42h1.6M311.7 142.85h1.6M311.7 142.35h1.6M311.7 138.95h1.6M311.7 137.22h1.6M311.7 136.00h1.6M311.7 135.05h1.6M311.7 134.27h1.6M311.7 133.62h1.6M311.7 133.05h1.6M311.7 132.55h1.6M311.7 129.15h1.6M311.7 153.00h1.6M311.7 154.30h1.6M311.7 155.60h1.6M311.7 156.90h1.6M311.7 158.20h1.6M311.7 159.50h1.6M311.7 160.80h1.6M311.7 162.10h1.6M324.94 165.3v1.6M337.19 165.3v1.6M327.09 165.3v1.6M339.34 165.3v1.6M328.63 165.3v1.6M340.88 165.3v1.6M329.81 165.3v1.6M342.06 165.3v1.6M330.78 165.3v1.6M343.03 165.3v1.6M331.60 165.3v1.6M343.85 165.3v1.6M332.31 165.3v1.6M344.56 165.3v1.6M332.94 165.3v1.6M345.19 165.3v1.6M349.44 165.3v1.6M319.20 165.3v1.6M317.80 165.3v1.6M316.40 165.3v1.6" stroke="#111" stroke-width="0.75" fill="none"/>
<path d="M310.7 151.70h2.6M310.7 141.90h2.6M310.7 132.10h2.6M310.7 157.00h2.6M310.7 162.40h2.6M320.60 165.3v2.6M333.50 165.3v2.6M345.75 165.3v2.6" stroke="#111" stroke-width="0.95" fill="none"/>
<clipPath id="c9"><rect x="313.80" y="128.50" width="36.20" height="36.30"/></clipPath>
<g clip-path="url(#c9)"><g filter="url(#dens)">
<path d="M340.0 147.3h.8v.8h-.8zM343.0 154.7h.8v.8h-.8zM337.7 156.3h.8v.8h-.8zM329.5 145.8h.8v.8h-.8zM338.5 150.6h.8v.8h-.8zM343.1 146.3h.8v.8h-.8zM333.3 153.4h.8v.8h-.8zM339.7 162.0h.8v.8h-.8zM339.4 159.6h.8v.8h-.8zM336.0 142.1h.8v.8h-.8zM327.3 153.0h.8v.8h-.8zM342.0 156.8h.8v.8h-.8zM337.0 151.7h.8v.8h-.8zM339.2 154.1h.8v.8h-.8zM346.9 151.6h.8v.8h-.8zM342.7 157.1h.8v.8h-.8zM336.7 146.9h.8v.8h-.8zM326.6 147.1h.8v.8h-.8zM320.5 143.1h.8v.8h-.8zM327.6 145.3h.8v.8h-.8zM346.5 145.5h.8v.8h-.8zM320.0 142.4h.8v.8h-.8zM333.0 155.3h.8v.8h-.8zM332.8 147.2h.8v.8h-.8zM344.9 145.9h.8v.8h-.8zM330.7 154.8h.8v.8h-.8zM327.2 142.2h.8v.8h-.8zM321.0 147.2h.8v.8h-.8zM341.5 162.5h.8v.8h-.8zM339.8 154.7h.8v.8h-.8zM328.0 143.0h.8v.8h-.8zM331.9 160.1h.8v.8h-.8zM325.2 148.4h.8v.8h-.8zM338.7 151.1h.8v.8h-.8zM332.7 142.8h.8v.8h-.8zM329.9 149.1h.8v.8h-.8zM327.9 141.4h.8v.8h-.8zM335.7 143.8h.8v.8h-.8zM332.2 141.1h.8v.8h-.8zM343.8 149.1h.8v.8h-.8zM344.4 145.5h.8v.8h-.8zM340.0 155.4h.8v.8h-.8zM343.3 161.8h.8v.8h-.8zM346.5 149.0h.8v.8h-.8zM344.6 154.1h.8v.8h-.8zM335.9 156.9h.8v.8h-.8zM343.5 159.7h.8v.8h-.8zM342.5 153.7h.8v.8h-.8zM345.4 157.9h.8v.8h-.8zM340.2 153.9h.8v.8h-.8zM342.3 152.4h.8v.8h-.8zM341.5 145.6h.8v.8h-.8zM341.1 160.3h.8v.8h-.8zM344.0 151.7h.8v.8h-.8zM343.5 152.4h.8v.8h-.8zM342.3 154.9h.8v.8h-.8zM345.0 155.6h.8v.8h-.8zM341.7 153.6h.8v.8h-.8zM341.3 158.3h.8v.8h-.8zM348.1 149.5h.8v.8h-.8zM336.5 156.5h.8v.8h-.8zM337.3 151.0h.8v.8h-.8zM346.7 157.2h.8v.8h-.8zM341.2 155.0h.8v.8h-.8zM342.2 152.2h.8v.8h-.8zM343.6 160.7h.8v.8h-.8zM348.1 154.4h.8v.8h-.8zM337.4 157.7h.8v.8h-.8zM338.3 148.3h.8v.8h-.8zM344.5 166.5h.8v.8h-.8zM345.6 161.6h.8v.8h-.8zM341.5 149.3h.8v.8h-.8zM343.3 154.2h.8v.8h-.8z" fill-opacity="0.060"/>
<path d="M329.1 159.3h.8v.8h-.8zM328.3 156.8h.8v.8h-.8zM321.8 143.4h.8v.8h-.8zM327.3 146.8h.8v.8h-.8zM331.6 145.1h.8v.8h-.8zM320.3 143.8h.8v.8h-.8zM344.0 142.4h.8v.8h-.8zM321.9 156.1h.8v.8h-.8zM341.8 153.1h.8v.8h-.8zM345.1 140.3h.8v.8h-.8zM340.3 155.9h.8v.8h-.8zM318.0 162.3h.8v.8h-.8zM334.4 143.3h.8v.8h-.8zM336.8 155.6h.8v.8h-.8zM343.0 149.1h.8v.8h-.8zM344.5 153.8h.8v.8h-.8zM336.9 159.6h.8v.8h-.8zM319.5 148.5h.8v.8h-.8zM326.2 155.8h.8v.8h-.8zM326.9 145.7h.8v.8h-.8zM345.3 147.2h.8v.8h-.8zM343.3 144.8h.8v.8h-.8zM340.0 154.1h.8v.8h-.8zM342.4 151.8h.8v.8h-.8zM344.5 164.4h.8v.8h-.8zM351.1 150.3h.8v.8h-.8zM342.1 146.8h.8v.8h-.8zM342.0 150.3h.8v.8h-.8zM334.1 154.7h.8v.8h-.8zM336.3 157.2h.8v.8h-.8zM341.1 149.6h.8v.8h-.8zM339.0 160.5h.8v.8h-.8zM343.5 161.6h.8v.8h-.8zM340.8 159.8h.8v.8h-.8zM339.4 152.1h.8v.8h-.8zM344.1 148.4h.8v.8h-.8zM344.0 156.2h.8v.8h-.8zM339.6 166.2h.8v.8h-.8zM337.2 162.9h.8v.8h-.8zM340.1 152.0h.8v.8h-.8zM343.2 168.6h.8v.8h-.8zM332.8 148.0h.8v.8h-.8zM349.7 152.6h.8v.8h-.8zM343.7 154.9h.8v.8h-.8zM342.4 160.0h.8v.8h-.8zM350.0 152.6h.8v.8h-.8zM345.5 153.2h.8v.8h-.8zM341.4 152.1h.8v.8h-.8z" fill-opacity="0.093"/>
<path d="M328.5 152.3h.8v.8h-.8zM343.6 161.6h.8v.8h-.8zM332.8 144.6h.8v.8h-.8zM328.9 141.4h.8v.8h-.8zM335.1 140.4h.8v.8h-.8zM345.3 149.0h.8v.8h-.8zM333.9 158.0h.8v.8h-.8zM341.3 156.7h.8v.8h-.8zM319.1 148.6h.8v.8h-.8zM340.6 159.6h.8v.8h-.8zM343.9 159.5h.8v.8h-.8zM320.8 162.7h.8v.8h-.8zM318.5 156.2h.8v.8h-.8zM322.8 146.9h.8v.8h-.8zM334.2 145.8h.8v.8h-.8zM343.3 152.8h.8v.8h-.8zM343.1 153.2h.8v.8h-.8zM339.1 147.5h.8v.8h-.8zM333.7 148.2h.8v.8h-.8zM326.7 154.8h.8v.8h-.8zM330.6 150.6h.8v.8h-.8zM344.3 158.6h.8v.8h-.8zM344.6 160.4h.8v.8h-.8zM344.2 158.7h.8v.8h-.8zM326.6 144.2h.8v.8h-.8zM342.0 153.1h.8v.8h-.8zM334.8 161.5h.8v.8h-.8zM345.4 143.2h.8v.8h-.8zM341.9 155.7h.8v.8h-.8zM345.0 164.1h.8v.8h-.8zM339.0 159.8h.8v.8h-.8zM341.6 159.2h.8v.8h-.8zM338.6 164.4h.8v.8h-.8zM344.9 162.0h.8v.8h-.8zM347.5 163.0h.8v.8h-.8zM342.7 158.7h.8v.8h-.8zM337.2 150.1h.8v.8h-.8zM341.4 155.0h.8v.8h-.8zM344.4 150.3h.8v.8h-.8zM341.5 156.0h.8v.8h-.8zM335.2 153.6h.8v.8h-.8zM351.0 156.6h.8v.8h-.8zM344.3 156.4h.8v.8h-.8zM346.2 158.4h.8v.8h-.8zM343.7 158.2h.8v.8h-.8zM340.5 157.6h.8v.8h-.8zM336.7 149.1h.8v.8h-.8zM340.0 152.7h.8v.8h-.8zM342.8 151.4h.8v.8h-.8z" fill-opacity="0.145"/>
<ellipse cx="341.00" cy="154.00" rx="4.2" ry="11.0" fill="url(#rf)" fill-opacity="0.25"/>
<ellipse cx="342.90" cy="159.50" rx="4" ry="4.5" fill="url(#rf)" fill-opacity="0.16"/>
<ellipse cx="341.40" cy="149.50" rx="2.0" ry="3.6" fill="url(#rg)" fill-opacity="0.8"/>
<ellipse cx="341.40" cy="157.50" rx="2.2" ry="4.3" fill="url(#rg)" fill-opacity="0.74"/>
<ellipse cx="341.40" cy="153.50" rx="1.4" ry="2.5" fill="url(#rg)" fill-opacity="0.22"/>
</g></g>
<rect x="313.30" y="128.00" width="37.2" height="37.3" rx="0.8" fill="none" stroke="#000" stroke-width="1.25"/>
<text x="307.60" y="133.90" font-size="4.8" text-anchor="end" textLength="5.90" lengthAdjust="spacingAndGlyphs" stroke="#222" stroke-width="0.12">10</text>
<text x="307.80" y="131.60" font-size="3.0" textLength="1.50" lengthAdjust="spacingAndGlyphs">4</text>
<text x="307.60" y="144.10" font-size="4.8" text-anchor="end" textLength="5.90" lengthAdjust="spacingAndGlyphs" stroke="#222" stroke-width="0.12">10</text>
<text x="307.80" y="141.80" font-size="3.0" textLength="1.50" lengthAdjust="spacingAndGlyphs">3</text>
<text x="307.60" y="153.90" font-size="4.8" text-anchor="end" textLength="5.90" lengthAdjust="spacingAndGlyphs" stroke="#222" stroke-width="0.12">10</text>
<text x="307.80" y="151.60" font-size="3.0" textLength="1.50" lengthAdjust="spacingAndGlyphs">2</text>
<text transform="translate(309.10,157.00) rotate(-60)" font-size="4.6" text-anchor="middle" dy="1.6" fill="#222">0</text>
<text x="307.60" y="164.10" font-size="4.8" text-anchor="end" textLength="8.40" lengthAdjust="spacingAndGlyphs" stroke="#222" stroke-width="0.12">-10</text>
<text x="307.80" y="161.80" font-size="3.0" textLength="1.50" lengthAdjust="spacingAndGlyphs">2</text>
<text x="320.60" y="174.10" font-size="4.8" text-anchor="middle" textLength="2.75" lengthAdjust="spacingAndGlyphs" stroke="#222" stroke-width="0.12">0</text>
<text x="329.85" y="174.10" font-size="4.8" textLength="5.50" lengthAdjust="spacingAndGlyphs" stroke="#222" stroke-width="0.12">10</text>
<text x="335.65" y="171.80" font-size="3.0" textLength="1.50" lengthAdjust="spacingAndGlyphs">3</text>
<text x="342.10" y="174.10" font-size="4.8" textLength="5.50" lengthAdjust="spacingAndGlyphs" stroke="#222" stroke-width="0.12">10</text>
<text x="347.90" y="171.80" font-size="3.0" textLength="1.50" lengthAdjust="spacingAndGlyphs">4</text>
<path d="M365.8 148.75h1.6M365.8 147.02h1.6M365.8 145.80h1.6M365.8 144.85h1.6M365.8 144.07h1.6M365.8 143.42h1.6M365.8 142.85h1.6M365.8 142.35h1.6M365.8 138.95h1.6M365.8 137.22h1.6M365.8 136.00h1.6M365.8 135.05h1.6M365.8 134.27h1.6M365.8 133.62h1.6M365.8 133.05h1.6M365.8 132.55h1.6M365.8 129.15h1.6M365.8 153.00h1.6M365.8 154.30h1.6M365.8 155.60h1.6M365.8 156.90h1.6M365.8 158.20h1.6M365.8 159.50h1.6M365.8 160.80h1.6M365.8 162.10h1.6M379.09 165.3v1.6M391.34 165.3v1.6M381.24 165.3v1.6M393.49 165.3v1.6M382.78 165.3v1.6M395.03 165.3v1.6M383.96 165.3v1.6M396.21 165.3v1.6M384.93 165.3v1.6M397.18 165.3v1.6M385.75 165.3v1.6M398.00 165.3v1.6M386.46 165.3v1.6M398.71 165.3v1.6M387.09 165.3v1.6M399.34 165.3v1.6M403.59 165.3v1.6M373.35 165.3v1.6M371.95 165.3v1.6M370.55 165.3v1.6" stroke="#111" stroke-width="0.75" fill="none"/>
<path d="M364.8 151.70h2.6M364.8 141.90h2.6M364.8 132.10h2.6M364.8 157.00h2.6M364.8 162.40h2.6M374.75 165.3v2.6M387.65 165.3v2.6M399.90 165.3v2.6" stroke="#111" stroke-width="0.95" fill="none"/>
<clipPath id="c10"><rect x="367.95" y="128.50" width="36.20" height="36.30"/></clipPath>
<g clip-path="url(#c10)"><g filter="url(#dens)">
<path d="M397.2 146.3h.8v.8h-.8zM396.5 162.4h.8v.8h-.8zM391.4 150.5h.8v.8h-.8zM385.4 137.1h.8v.8h-.8zM380.5 138.1h.8v.8h-.8zM389.5 139.4h.8v.8h-.8zM383.0 144.7h.8v.8h-.8zM400.8 138.9h.8v.8h-.8zM388.2 156.6h.8v.8h-.8zM398.8 142.5h.8v.8h-.8zM394.5 138.6h.8v.8h-.8zM384.3 141.3h.8v.8h-.8zM389.7 139.0h.8v.8h-.8zM384.2 153.0h.8v.8h-.8zM393.1 140.7h.8v.8h-.8zM385.7 143.6h.8v.8h-.8zM394.7 144.4h.8v.8h-.8zM382.4 159.9h.8v.8h-.8zM385.5 147.7h.8v.8h-.8zM377.6 162.2h.8v.8h-.8zM373.1 137.6h.8v.8h-.8zM380.0 153.6h.8v.8h-.8zM391.8 144.3h.8v.8h-.8zM399.0 158.0h.8v.8h-.8zM385.4 141.1h.8v.8h-.8zM378.8 146.1h.8v.8h-.8zM384.9 147.5h.8v.8h-.8zM395.5 142.9h.8v.8h-.8zM390.1 158.0h.8v.8h-.8zM382.2 162.3h.8v.8h-.8zM393.9 137.0h.8v.8h-.8zM393.0 158.3h.8v.8h-.8zM390.2 141.8h.8v.8h-.8zM391.2 154.5h.8v.8h-.8zM393.0 143.6h.8v.8h-.8zM385.7 162.0h.8v.8h-.8zM391.3 153.0h.8v.8h-.8zM378.8 151.6h.8v.8h-.8zM385.1 152.8h.8v.8h-.8zM390.9 153.8h.8v.8h-.8zM400.3 161.6h.8v.8h-.8zM385.4 161.4h.8v.8h-.8zM381.4 162.3h.8v.8h-.8zM389.6 152.1h.8v.8h-.8zM399.4 155.7h.8v.8h-.8zM398.3 151.5h.8v.8h-.8zM402.2 146.9h.8v.8h-.8zM392.1 158.6h.8v.8h-.8zM394.8 157.9h.8v.8h-.8zM399.4 150.4h.8v.8h-.8zM395.9 151.7h.8v.8h-.8zM394.9 156.1h.8v.8h-.8zM394.1 158.9h.8v.8h-.8zM395.6 156.7h.8v.8h-.8zM392.4 150.2h.8v.8h-.8zM397.7 153.3h.8v.8h-.8zM393.1 153.9h.8v.8h-.8zM398.0 149.2h.8v.8h-.8zM397.4 154.4h.8v.8h-.8zM392.4 149.6h.8v.8h-.8zM403.2 157.9h.8v.8h-.8zM395.6 154.6h.8v.8h-.8zM390.6 165.6h.8v.8h-.8zM394.9 159.6h.8v.8h-.8zM394.0 157.2h.8v.8h-.8z" fill-opacity="0.060"/>
<path d="M397.7 141.1h.8v.8h-.8zM388.7 162.5h.8v.8h-.8zM373.0 151.0h.8v.8h-.8zM371.8 143.4h.8v.8h-.8zM375.1 137.9h.8v.8h-.8zM398.1 150.0h.8v.8h-.8zM399.4 151.5h.8v.8h-.8zM393.0 157.4h.8v.8h-.8zM390.7 150.6h.8v.8h-.8zM397.7 153.5h.8v.8h-.8zM373.8 145.9h.8v.8h-.8zM388.6 157.1h.8v.8h-.8zM386.0 157.5h.8v.8h-.8zM394.5 142.0h.8v.8h-.8zM385.3 139.4h.8v.8h-.8zM376.2 147.5h.8v.8h-.8zM387.4 145.9h.8v.8h-.8zM392.7 154.0h.8v.8h-.8zM391.9 152.4h.8v.8h-.8zM397.5 156.6h.8v.8h-.8zM381.2 161.4h.8v.8h-.8zM393.4 160.6h.8v.8h-.8zM397.6 160.5h.8v.8h-.8zM396.2 139.4h.8v.8h-.8zM394.7 137.0h.8v.8h-.8zM389.9 155.0h.8v.8h-.8zM380.0 160.0h.8v.8h-.8zM399.6 159.7h.8v.8h-.8zM398.9 161.7h.8v.8h-.8zM392.5 145.5h.8v.8h-.8zM389.3 148.7h.8v.8h-.8zM379.2 143.6h.8v.8h-.8zM394.6 157.0h.8v.8h-.8zM399.8 160.4h.8v.8h-.8zM392.3 157.2h.8v.8h-.8zM401.6 157.7h.8v.8h-.8zM398.5 150.2h.8v.8h-.8zM399.3 146.3h.8v.8h-.8zM396.1 162.8h.8v.8h-.8zM403.6 161.5h.8v.8h-.8zM394.4 152.2h.8v.8h-.8zM395.6 150.3h.8v.8h-.8zM400.2 160.9h.8v.8h-.8zM392.0 156.2h.8v.8h-.8zM390.6 149.2h.8v.8h-.8zM399.3 161.2h.8v.8h-.8zM387.1 148.0h.8v.8h-.8zM396.9 160.6h.8v.8h-.8zM393.2 157.8h.8v.8h-.8zM395.9 153.1h.8v.8h-.8zM396.3 155.0h.8v.8h-.8zM397.8 158.5h.8v.8h-.8zM398.1 156.4h.8v.8h-.8zM392.1 151.4h.8v.8h-.8zM398.6 152.3h.8v.8h-.8zM392.0 150.9h.8v.8h-.8zM396.7 164.9h.8v.8h-.8zM394.0 157.0h.8v.8h-.8z" fill-opacity="0.093"/>
<path d="M400.6 148.9h.8v.8h-.8zM393.9 146.6h.8v.8h-.8zM388.9 141.9h.8v.8h-.8zM381.4 150.8h.8v.8h-.8zM377.2 150.6h.8v.8h-.8zM390.4 146.7h.8v.8h-.8zM386.2 144.7h.8v.8h-.8zM371.9 156.5h.8v.8h-.8zM382.4 159.1h.8v.8h-.8zM379.4 159.9h.8v.8h-.8zM392.1 148.2h.8v.8h-.8zM381.5 150.6h.8v.8h-.8zM397.9 161.2h.8v.8h-.8zM391.4 151.6h.8v.8h-.8zM385.8 150.5h.8v.8h-.8zM388.6 150.5h.8v.8h-.8zM376.9 144.8h.8v.8h-.8zM392.4 158.3h.8v.8h-.8zM378.8 156.6h.8v.8h-.8zM396.8 137.3h.8v.8h-.8zM390.0 141.5h.8v.8h-.8zM395.5 160.3h.8v.8h-.8zM393.4 160.9h.8v.8h-.8zM379.0 157.6h.8v.8h-.8zM377.7 148.0h.8v.8h-.8zM397.4 148.1h.8v.8h-.8zM399.7 146.1h.8v.8h-.8zM397.0 165.8h.8v.8h-.8zM395.7 149.1h.8v.8h-.8zM401.8 156.9h.8v.8h-.8zM405.6 158.3h.8v.8h-.8zM396.2 160.6h.8v.8h-.8zM400.3 156.4h.8v.8h-.8zM399.9 153.0h.8v.8h-.8zM396.4 146.4h.8v.8h-.8zM393.3 154.4h.8v.8h-.8zM397.2 153.2h.8v.8h-.8zM392.5 159.4h.8v.8h-.8zM397.7 161.6h.8v.8h-.8zM394.5 146.2h.8v.8h-.8zM398.7 156.1h.8v.8h-.8zM392.7 158.2h.8v.8h-.8zM397.4 151.7h.8v.8h-.8zM399.3 157.0h.8v.8h-.8zM394.0 160.1h.8v.8h-.8zM396.5 152.6h.8v.8h-.8zM398.2 155.0h.8v.8h-.8zM400.7 146.9h.8v.8h-.8zM399.5 164.1h.8v.8h-.8zM396.5 141.7h.8v.8h-.8zM396.9 156.0h.8v.8h-.8zM396.3 154.0h.8v.8h-.8zM397.2 153.9h.8v.8h-.8zM398.7 160.1h.8v.8h-.8zM398.1 150.4h.8v.8h-.8zM403.6 149.2h.8v.8h-.8zM398.1 152.7h.8v.8h-.8z" fill-opacity="0.145"/>
<ellipse cx="395.00" cy="153.65" rx="4.2" ry="11.049999999999999" fill="url(#rf)" fill-opacity="0.25"/>
<ellipse cx="396.90" cy="159.20" rx="4" ry="4.5" fill="url(#rf)" fill-opacity="0.16"/>
<ellipse cx="395.40" cy="149.10" rx="2.0" ry="3.6" fill="url(#rg)" fill-opacity="0.74"/>
<ellipse cx="395.40" cy="157.20" rx="2.2" ry="4.3" fill="url(#rg)" fill-opacity="0.76"/>
<ellipse cx="395.40" cy="153.15" rx="1.4" ry="2.5" fill="url(#rg)" fill-opacity="0.22"/>
</g></g>
<rect x="367.45" y="128.00" width="37.2" height="37.3" rx="0.8" fill="none" stroke="#000" stroke-width="1.25"/>
<text x="361.75" y="133.90" font-size="4.8" text-anchor="end" textLength="5.90" lengthAdjust="spacingAndGlyphs" stroke="#222" stroke-width="0.12">10</text>
<text x="361.95" y="131.60" font-size="3.0" textLength="1.50" lengthAdjust="spacingAndGlyphs">4</text>
<text x="361.75" y="144.10" font-size="4.8" text-anchor="end" textLength="5.90" lengthAdjust="spacingAndGlyphs" stroke="#222" stroke-width="0.12">10</text>
<text x="361.95" y="141.80" font-size="3.0" textLength="1.50" lengthAdjust="spacingAndGlyphs">3</text>
<text x="361.75" y="153.90" font-size="4.8" text-anchor="end" textLength="5.90" lengthAdjust="spacingAndGlyphs" stroke="#222" stroke-width="0.12">10</text>
<text x="361.95" y="151.60" font-size="3.0" textLength="1.50" lengthAdjust="spacingAndGlyphs">2</text>
<text transform="translate(363.25,157.00) rotate(-60)" font-size="4.6" text-anchor="middle" dy="1.6" fill="#222">0</text>
<text x="361.75" y="164.10" font-size="4.8" text-anchor="end" textLength="8.40" lengthAdjust="spacingAndGlyphs" stroke="#222" stroke-width="0.12">-10</text>
<text x="361.95" y="161.80" font-size="3.0" textLength="1.50" lengthAdjust="spacingAndGlyphs">2</text>
<text x="374.75" y="174.10" font-size="4.8" text-anchor="middle" textLength="2.75" lengthAdjust="spacingAndGlyphs" stroke="#222" stroke-width="0.12">0</text>
<text x="384.00" y="174.10" font-size="4.8" textLength="5.50" lengthAdjust="spacingAndGlyphs" stroke="#222" stroke-width="0.12">10</text>
<text x="389.80" y="171.80" font-size="3.0" textLength="1.50" lengthAdjust="spacingAndGlyphs">3</text>
<text x="396.25" y="174.10" font-size="4.8" textLength="5.50" lengthAdjust="spacingAndGlyphs" stroke="#222" stroke-width="0.12">10</text>
<text x="402.05" y="171.80" font-size="3.0" textLength="1.50" lengthAdjust="spacingAndGlyphs">4</text>
<path d="M420.0 148.75h1.6M420.0 147.02h1.6M420.0 145.80h1.6M420.0 144.85h1.6M420.0 144.07h1.6M420.0 143.42h1.6M420.0 142.85h1.6M420.0 142.35h1.6M420.0 138.95h1.6M420.0 137.22h1.6M420.0 136.00h1.6M420.0 135.05h1.6M420.0 134.27h1.6M420.0 133.62h1.6M420.0 133.05h1.6M420.0 132.55h1.6M420.0 129.15h1.6M420.0 153.00h1.6M420.0 154.30h1.6M420.0 155.60h1.6M420.0 156.90h1.6M420.0 158.20h1.6M420.0 159.50h1.6M420.0 160.80h1.6M420.0 162.10h1.6M433.24 165.3v1.6M445.49 165.3v1.6M435.39 165.3v1.6M447.64 165.3v1.6M436.93 165.3v1.6M449.18 165.3v1.6M438.11 165.3v1.6M450.36 165.3v1.6M439.08 165.3v1.6M451.33 165.3v1.6M439.90 165.3v1.6M452.15 165.3v1.6M440.61 165.3v1.6M452.86 165.3v1.6M441.24 165.3v1.6M453.49 165.3v1.6M457.74 165.3v1.6M427.50 165.3v1.6M426.10 165.3v1.6M424.70 165.3v1.6" stroke="#111" stroke-width="0.75" fill="none"/>
<path d="M419.0 151.70h2.6M419.0 141.90h2.6M419.0 132.10h2.6M419.0 157.00h2.6M419.0 162.40h2.6M428.90 165.3v2.6M441.80 165.3v2.6M454.05 165.3v2.6" stroke="#111" stroke-width="0.95" fill="none"/>
<clipPath id="c11"><rect x="422.10" y="128.50" width="36.20" height="36.30"/></clipPath>
<g clip-path="url(#c11)"><g filter="url(#dens)">
<path d="M448.7 143.9h.8v.8h-.8zM434.3 150.3h.8v.8h-.8zM447.9 149.4h.8v.8h-.8zM439.0 137.1h.8v.8h-.8zM441.6 142.6h.8v.8h-.8zM437.6 151.2h.8v.8h-.8zM447.4 160.8h.8v.8h-.8zM452.2 139.2h.8v.8h-.8zM435.3 153.5h.8v.8h-.8zM454.0 148.8h.8v.8h-.8zM444.9 160.0h.8v.8h-.8zM446.9 152.3h.8v.8h-.8zM435.8 158.9h.8v.8h-.8zM453.7 143.6h.8v.8h-.8zM443.0 133.1h.8v.8h-.8zM439.1 150.4h.8v.8h-.8zM443.2 156.8h.8v.8h-.8zM433.7 162.2h.8v.8h-.8zM439.0 150.3h.8v.8h-.8zM445.8 160.8h.8v.8h-.8zM435.3 146.9h.8v.8h-.8zM434.0 137.0h.8v.8h-.8zM438.5 139.5h.8v.8h-.8zM438.1 153.0h.8v.8h-.8zM429.2 132.5h.8v.8h-.8zM442.7 155.8h.8v.8h-.8zM429.3 134.6h.8v.8h-.8zM449.5 153.4h.8v.8h-.8zM428.3 147.6h.8v.8h-.8zM444.3 147.1h.8v.8h-.8zM435.3 134.1h.8v.8h-.8zM452.7 160.9h.8v.8h-.8zM453.0 145.8h.8v.8h-.8zM432.3 161.2h.8v.8h-.8zM446.2 147.3h.8v.8h-.8zM455.2 148.5h.8v.8h-.8zM438.4 144.8h.8v.8h-.8zM426.0 147.1h.8v.8h-.8zM454.3 158.0h.8v.8h-.8zM445.5 156.2h.8v.8h-.8zM429.5 138.7h.8v.8h-.8zM435.0 139.9h.8v.8h-.8zM436.4 132.2h.8v.8h-.8zM453.8 157.0h.8v.8h-.8zM429.1 151.0h.8v.8h-.8zM439.0 162.3h.8v.8h-.8zM433.3 145.6h.8v.8h-.8zM438.1 149.0h.8v.8h-.8zM453.6 158.1h.8v.8h-.8zM427.8 150.6h.8v.8h-.8zM442.6 159.5h.8v.8h-.8zM447.5 150.1h.8v.8h-.8zM454.0 165.3h.8v.8h-.8zM441.9 156.1h.8v.8h-.8zM451.4 144.7h.8v.8h-.8zM447.0 152.3h.8v.8h-.8zM447.5 160.1h.8v.8h-.8zM452.8 153.2h.8v.8h-.8zM448.2 150.4h.8v.8h-.8zM453.4 165.3h.8v.8h-.8zM454.7 145.2h.8v.8h-.8zM454.9 160.5h.8v.8h-.8zM451.8 154.1h.8v.8h-.8zM449.4 152.7h.8v.8h-.8zM452.8 151.7h.8v.8h-.8zM446.3 163.7h.8v.8h-.8zM456.9 153.1h.8v.8h-.8zM446.6 141.0h.8v.8h-.8zM449.6 161.0h.8v.8h-.8zM453.2 152.1h.8v.8h-.8zM450.0 153.7h.8v.8h-.8zM453.9 151.8h.8v.8h-.8zM447.2 151.6h.8v.8h-.8zM451.7 151.3h.8v.8h-.8zM450.6 152.2h.8v.8h-.8zM450.8 155.5h.8v.8h-.8zM446.2 155.1h.8v.8h-.8zM450.6 156.3h.8v.8h-.8z" fill-opacity="0.060"/>
<path d="M438.1 142.3h.8v.8h-.8zM432.5 157.9h.8v.8h-.8zM427.3 149.0h.8v.8h-.8zM451.2 141.7h.8v.8h-.8zM452.7 159.8h.8v.8h-.8zM452.4 140.0h.8v.8h-.8zM430.6 132.8h.8v.8h-.8zM442.6 160.1h.8v.8h-.8zM428.8 142.1h.8v.8h-.8zM427.9 160.4h.8v.8h-.8zM453.9 148.6h.8v.8h-.8zM426.4 133.6h.8v.8h-.8zM429.5 142.7h.8v.8h-.8zM446.3 148.2h.8v.8h-.8zM449.7 154.6h.8v.8h-.8zM433.7 162.0h.8v.8h-.8zM451.1 155.6h.8v.8h-.8zM441.4 146.6h.8v.8h-.8zM439.0 138.5h.8v.8h-.8zM451.3 145.2h.8v.8h-.8zM449.2 135.2h.8v.8h-.8zM457.8 151.7h.8v.8h-.8zM449.8 157.6h.8v.8h-.8zM447.5 150.4h.8v.8h-.8zM451.4 156.6h.8v.8h-.8zM447.2 162.2h.8v.8h-.8zM450.6 164.6h.8v.8h-.8zM447.4 159.2h.8v.8h-.8zM451.1 155.1h.8v.8h-.8zM451.2 152.7h.8v.8h-.8zM450.7 150.9h.8v.8h-.8zM450.9 158.2h.8v.8h-.8zM444.6 158.1h.8v.8h-.8zM449.9 151.4h.8v.8h-.8zM447.7 160.1h.8v.8h-.8zM449.1 154.9h.8v.8h-.8zM455.5 153.9h.8v.8h-.8zM450.0 149.5h.8v.8h-.8zM450.8 149.3h.8v.8h-.8z" fill-opacity="0.093"/>
<path d="M439.0 138.9h.8v.8h-.8zM432.8 159.6h.8v.8h-.8zM451.8 158.6h.8v.8h-.8zM433.0 134.1h.8v.8h-.8zM451.1 135.7h.8v.8h-.8zM440.9 134.0h.8v.8h-.8zM431.1 162.3h.8v.8h-.8zM426.3 145.2h.8v.8h-.8zM449.0 156.1h.8v.8h-.8zM447.3 150.6h.8v.8h-.8zM444.9 150.7h.8v.8h-.8zM443.8 147.8h.8v.8h-.8zM448.1 160.3h.8v.8h-.8zM448.6 137.6h.8v.8h-.8zM436.1 154.4h.8v.8h-.8zM428.9 152.9h.8v.8h-.8zM436.6 142.9h.8v.8h-.8zM452.2 155.2h.8v.8h-.8zM452.9 154.7h.8v.8h-.8zM444.0 153.9h.8v.8h-.8zM450.0 154.4h.8v.8h-.8zM450.1 157.0h.8v.8h-.8zM453.4 159.2h.8v.8h-.8zM452.3 155.1h.8v.8h-.8zM451.1 144.9h.8v.8h-.8zM448.3 151.2h.8v.8h-.8zM452.5 146.5h.8v.8h-.8zM453.7 151.5h.8v.8h-.8zM444.3 159.0h.8v.8h-.8zM452.4 150.6h.8v.8h-.8zM452.1 155.5h.8v.8h-.8zM448.9 152.4h.8v.8h-.8zM447.3 162.4h.8v.8h-.8zM446.4 151.0h.8v.8h-.8zM446.1 158.8h.8v.8h-.8zM450.4 157.4h.8v.8h-.8zM445.9 158.3h.8v.8h-.8zM448.9 166.1h.8v.8h-.8zM448.8 158.3h.8v.8h-.8zM447.6 153.5h.8v.8h-.8zM446.0 151.3h.8v.8h-.8zM443.2 149.4h.8v.8h-.8zM453.1 158.5h.8v.8h-.8zM454.2 156.0h.8v.8h-.8zM456.5 153.6h.8v.8h-.8zM443.5 156.4h.8v.8h-.8zM454.6 147.5h.8v.8h-.8zM456.8 159.9h.8v.8h-.8zM453.1 150.8h.8v.8h-.8zM449.6 149.7h.8v.8h-.8zM447.8 154.0h.8v.8h-.8zM447.5 153.6h.8v.8h-.8zM437.9 151.8h.8v.8h-.8z" fill-opacity="0.145"/>
<ellipse cx="449.40" cy="153.65" rx="4.2" ry="11.049999999999999" fill="url(#rf)" fill-opacity="0.25"/>
<ellipse cx="451.30" cy="159.20" rx="4" ry="4.5" fill="url(#rf)" fill-opacity="0.16"/>
<ellipse cx="449.80" cy="149.10" rx="2.0" ry="3.6" fill="url(#rg)" fill-opacity="0.66"/>
<ellipse cx="449.80" cy="157.20" rx="2.2" ry="4.3" fill="url(#rg)" fill-opacity="0.68"/>
<ellipse cx="449.80" cy="153.15" rx="1.4" ry="2.5" fill="url(#rg)" fill-opacity="0.22"/>
</g></g>
<rect x="421.60" y="128.00" width="37.2" height="37.3" rx="0.8" fill="none" stroke="#000" stroke-width="1.25"/>
<text x="415.90" y="133.90" font-size="4.8" text-anchor="end" textLength="5.90" lengthAdjust="spacingAndGlyphs" stroke="#222" stroke-width="0.12">10</text>
<text x="416.10" y="131.60" font-size="3.0" textLength="1.50" lengthAdjust="spacingAndGlyphs">4</text>
<text x="415.90" y="144.10" font-size="4.8" text-anchor="end" textLength="5.90" lengthAdjust="spacingAndGlyphs" stroke="#222" stroke-width="0.12">10</text>
<text x="416.10" y="141.80" font-size="3.0" textLength="1.50" lengthAdjust="spacingAndGlyphs">3</text>
<text x="415.90" y="153.90" font-size="4.8" text-anchor="end" textLength="5.90" lengthAdjust="spacingAndGlyphs" stroke="#222" stroke-width="0.12">10</text>
<text x="416.10" y="151.60" font-size="3.0" textLength="1.50" lengthAdjust="spacingAndGlyphs">2</text>
<text transform="translate(417.40,157.00) rotate(-60)" font-size="4.6" text-anchor="middle" dy="1.6" fill="#222">0</text>
<text x="415.90" y="164.10" font-size="4.8" text-anchor="end" textLength="8.40" lengthAdjust="spacingAndGlyphs" stroke="#222" stroke-width="0.12">-10</text>
<text x="416.10" y="161.80" font-size="3.0" textLength="1.50" lengthAdjust="spacingAndGlyphs">2</text>
<text x="428.90" y="174.10" font-size="4.8" text-anchor="middle" textLength="2.75" lengthAdjust="spacingAndGlyphs" stroke="#222" stroke-width="0.12">0</text>
<text x="438.15" y="174.10" font-size="4.8" textLength="5.50" lengthAdjust="spacingAndGlyphs" stroke="#222" stroke-width="0.12">10</text>
<text x="443.95" y="171.80" font-size="3.0" textLength="1.50" lengthAdjust="spacingAndGlyphs">3</text>
<text x="450.40" y="174.10" font-size="4.8" textLength="5.50" lengthAdjust="spacingAndGlyphs" stroke="#222" stroke-width="0.12">10</text>
<text x="456.20" y="171.80" font-size="3.0" textLength="1.50" lengthAdjust="spacingAndGlyphs">4</text>
<path d="M474.1 148.75h1.6M474.1 147.02h1.6M474.1 145.80h1.6M474.1 144.85h1.6M474.1 144.07h1.6M474.1 143.42h1.6M474.1 142.85h1.6M474.1 142.35h1.6M474.1 138.95h1.6M474.1 137.22h1.6M474.1 136.00h1.6M474.1 135.05h1.6M474.1 134.27h1.6M474.1 133.62h1.6M474.1 133.05h1.6M474.1 132.55h1.6M474.1 129.15h1.6M474.1 153.00h1.6M474.1 154.30h1.6M474.1 155.60h1.6M474.1 156.90h1.6M474.1 158.20h1.6M474.1 159.50h1.6M474.1 160.80h1.6M474.1 162.10h1.6M487.39 165.3v1.6M499.64 165.3v1.6M489.54 165.3v1.6M501.79 165.3v1.6M491.08 165.3v1.6M503.33 165.3v1.6M492.26 165.3v1.6M504.51 165.3v1.6M493.23 165.3v1.6M505.48 165.3v1.6M494.05 165.3v1.6M506.30 165.3v1.6M494.76 165.3v1.6M507.01 165.3v1.6M495.39 165.3v1.6M507.64 165.3v1.6M511.89 165.3v1.6M481.65 165.3v1.6M480.25 165.3v1.6M478.85 165.3v1.6" stroke="#111" stroke-width="0.75" fill="none"/>
<path d="M473.1 151.70h2.6M473.1 141.90h2.6M473.1 132.10h2.6M473.1 157.00h2.6M473.1 162.40h2.6M483.05 165.3v2.6M495.95 165.3v2.6M508.20 165.3v2.6" stroke="#111" stroke-width="0.95" fill="none"/>
<clipPath id="c12"><rect x="476.25" y="128.50" width="36.20" height="36.30"/></clipPath>
<g clip-path="url(#c12)"><g filter="url(#dens)">
<rect x="481.75" y="140.00" width="24.00" height="22.00" rx="5" fill-opacity="0.05" filter="url(#soft)"/>
<path d="M488.0 140.7h.8v.8h-.8zM489.2 157.7h.8v.8h-.8zM498.7 153.5h.8v.8h-.8zM501.4 148.5h.8v.8h-.8zM498.7 158.5h.8v.8h-.8zM504.7 152.7h.8v.8h-.8zM484.7 147.7h.8v.8h-.8zM484.5 139.2h.8v.8h-.8zM503.0 144.9h.8v.8h-.8zM502.3 158.9h.8v.8h-.8zM495.8 156.1h.8v.8h-.8zM506.7 150.9h.8v.8h-.8zM504.5 141.5h.8v.8h-.8zM507.1 147.3h.8v.8h-.8zM495.8 157.1h.8v.8h-.8zM504.4 147.6h.8v.8h-.8zM495.1 149.5h.8v.8h-.8zM483.1 157.4h.8v.8h-.8zM504.4 148.0h.8v.8h-.8zM492.9 145.9h.8v.8h-.8zM494.3 158.3h.8v.8h-.8zM481.5 148.1h.8v.8h-.8zM483.5 144.6h.8v.8h-.8zM496.3 154.3h.8v.8h-.8zM491.7 158.4h.8v.8h-.8zM494.4 153.7h.8v.8h-.8zM484.4 161.3h.8v.8h-.8zM490.6 138.6h.8v.8h-.8zM494.3 154.1h.8v.8h-.8zM492.0 141.6h.8v.8h-.8zM508.1 155.9h.8v.8h-.8zM488.4 162.6h.8v.8h-.8zM493.3 137.6h.8v.8h-.8zM490.2 139.3h.8v.8h-.8zM484.1 139.0h.8v.8h-.8zM498.3 138.9h.8v.8h-.8zM489.6 150.0h.8v.8h-.8zM499.6 152.5h.8v.8h-.8zM484.3 153.7h.8v.8h-.8zM490.9 159.7h.8v.8h-.8zM497.2 144.0h.8v.8h-.8zM504.9 143.8h.8v.8h-.8zM493.1 153.2h.8v.8h-.8zM501.6 139.1h.8v.8h-.8zM488.2 142.3h.8v.8h-.8zM503.9 138.8h.8v.8h-.8zM494.1 144.8h.8v.8h-.8zM487.5 139.9h.8v.8h-.8zM501.5 137.5h.8v.8h-.8zM498.6 155.7h.8v.8h-.8zM480.3 161.4h.8v.8h-.8zM494.8 139.9h.8v.8h-.8zM508.4 153.3h.8v.8h-.8zM501.0 150.2h.8v.8h-.8zM485.7 139.3h.8v.8h-.8zM509.3 158.3h.8v.8h-.8zM508.5 158.8h.8v.8h-.8zM509.5 147.3h.8v.8h-.8zM488.2 144.6h.8v.8h-.8zM490.3 156.0h.8v.8h-.8zM487.0 144.7h.8v.8h-.8zM505.9 148.1h.8v.8h-.8zM483.0 156.1h.8v.8h-.8zM507.5 138.8h.8v.8h-.8zM492.1 147.7h.8v.8h-.8zM493.3 138.3h.8v.8h-.8zM503.4 147.0h.8v.8h-.8zM488.9 138.0h.8v.8h-.8zM488.9 155.2h.8v.8h-.8zM486.5 157.5h.8v.8h-.8zM483.3 161.7h.8v.8h-.8zM487.5 137.5h.8v.8h-.8zM495.8 137.3h.8v.8h-.8zM497.6 147.5h.8v.8h-.8zM503.5 142.1h.8v.8h-.8zM508.1 149.8h.8v.8h-.8zM488.4 148.0h.8v.8h-.8zM485.2 139.6h.8v.8h-.8zM506.1 153.4h.8v.8h-.8zM504.7 149.6h.8v.8h-.8zM502.4 152.3h.8v.8h-.8zM500.7 151.5h.8v.8h-.8zM503.6 152.0h.8v.8h-.8zM503.3 164.9h.8v.8h-.8zM510.4 152.7h.8v.8h-.8zM508.5 153.8h.8v.8h-.8zM503.6 162.3h.8v.8h-.8zM500.9 146.6h.8v.8h-.8zM504.4 152.7h.8v.8h-.8zM514.5 155.5h.8v.8h-.8zM502.9 157.5h.8v.8h-.8zM509.5 159.7h.8v.8h-.8zM506.4 155.6h.8v.8h-.8zM506.4 158.6h.8v.8h-.8zM501.1 165.5h.8v.8h-.8zM503.3 156.9h.8v.8h-.8zM501.1 157.4h.8v.8h-.8zM510.7 156.4h.8v.8h-.8zM501.9 156.8h.8v.8h-.8zM505.9 147.0h.8v.8h-.8zM495.9 146.2h.8v.8h-.8zM498.7 153.7h.8v.8h-.8zM507.2 153.3h.8v.8h-.8zM495.3 150.7h.8v.8h-.8zM501.5 149.6h.8v.8h-.8zM507.3 161.4h.8v.8h-.8zM505.8 158.3h.8v.8h-.8z" fill-opacity="0.070"/>
<path d="M507.6 144.8h.8v.8h-.8zM491.9 147.9h.8v.8h-.8zM501.6 140.5h.8v.8h-.8zM483.7 149.5h.8v.8h-.8zM501.7 148.6h.8v.8h-.8zM499.3 138.8h.8v.8h-.8zM503.0 151.0h.8v.8h-.8zM491.3 141.0h.8v.8h-.8zM501.5 137.6h.8v.8h-.8zM493.3 149.6h.8v.8h-.8zM493.8 155.5h.8v.8h-.8zM486.5 162.8h.8v.8h-.8zM497.0 157.0h.8v.8h-.8zM487.5 152.3h.8v.8h-.8zM505.1 160.9h.8v.8h-.8zM482.7 142.9h.8v.8h-.8zM487.2 140.6h.8v.8h-.8zM481.2 144.0h.8v.8h-.8zM491.5 156.1h.8v.8h-.8zM506.0 145.6h.8v.8h-.8zM495.1 160.0h.8v.8h-.8zM506.5 154.4h.8v.8h-.8zM501.6 152.2h.8v.8h-.8zM480.9 141.3h.8v.8h-.8zM500.6 150.3h.8v.8h-.8zM489.8 160.3h.8v.8h-.8zM485.4 151.5h.8v.8h-.8zM493.6 154.2h.8v.8h-.8zM486.0 157.5h.8v.8h-.8zM490.7 155.6h.8v.8h-.8zM483.1 144.3h.8v.8h-.8zM491.8 152.0h.8v.8h-.8zM480.9 160.8h.8v.8h-.8zM482.7 139.0h.8v.8h-.8zM495.2 143.8h.8v.8h-.8zM491.6 138.0h.8v.8h-.8zM509.4 154.5h.8v.8h-.8zM506.4 158.6h.8v.8h-.8zM498.8 147.8h.8v.8h-.8zM494.4 154.8h.8v.8h-.8zM496.7 143.9h.8v.8h-.8zM485.1 138.0h.8v.8h-.8zM509.3 142.6h.8v.8h-.8zM498.8 151.7h.8v.8h-.8zM494.6 162.2h.8v.8h-.8zM500.7 150.7h.8v.8h-.8zM500.5 158.0h.8v.8h-.8zM505.2 146.0h.8v.8h-.8zM500.0 156.1h.8v.8h-.8zM509.7 157.4h.8v.8h-.8zM509.5 148.3h.8v.8h-.8zM506.0 145.4h.8v.8h-.8zM508.7 149.9h.8v.8h-.8zM506.6 161.4h.8v.8h-.8zM506.7 152.4h.8v.8h-.8zM508.0 156.0h.8v.8h-.8zM500.5 147.9h.8v.8h-.8zM506.7 155.0h.8v.8h-.8zM503.6 154.5h.8v.8h-.8zM506.3 159.6h.8v.8h-.8zM506.9 163.1h.8v.8h-.8zM497.8 160.3h.8v.8h-.8zM509.9 148.2h.8v.8h-.8zM505.0 157.0h.8v.8h-.8zM504.2 154.8h.8v.8h-.8zM500.4 161.3h.8v.8h-.8zM507.1 154.2h.8v.8h-.8zM504.7 148.8h.8v.8h-.8zM498.4 158.7h.8v.8h-.8zM500.0 141.3h.8v.8h-.8zM501.8 159.3h.8v.8h-.8zM497.5 151.8h.8v.8h-.8zM506.2 158.0h.8v.8h-.8z" fill-opacity="0.110"/>
<path d="M503.7 138.8h.8v.8h-.8zM501.3 151.7h.8v.8h-.8zM501.7 144.5h.8v.8h-.8zM504.6 145.8h.8v.8h-.8zM484.3 137.3h.8v.8h-.8zM497.2 149.1h.8v.8h-.8zM494.8 146.8h.8v.8h-.8zM486.2 150.8h.8v.8h-.8zM494.6 144.5h.8v.8h-.8zM487.7 143.0h.8v.8h-.8zM502.2 152.6h.8v.8h-.8zM481.9 151.7h.8v.8h-.8zM484.4 147.2h.8v.8h-.8zM496.6 161.6h.8v.8h-.8zM484.1 137.9h.8v.8h-.8zM496.3 153.7h.8v.8h-.8zM500.6 139.8h.8v.8h-.8zM493.2 139.0h.8v.8h-.8zM482.7 159.8h.8v.8h-.8zM495.8 154.6h.8v.8h-.8zM481.8 153.0h.8v.8h-.8zM503.9 137.5h.8v.8h-.8zM480.5 158.3h.8v.8h-.8zM501.1 152.7h.8v.8h-.8zM499.4 142.2h.8v.8h-.8zM490.9 144.7h.8v.8h-.8zM505.2 156.2h.8v.8h-.8zM496.8 150.6h.8v.8h-.8zM489.9 141.1h.8v.8h-.8zM497.3 153.5h.8v.8h-.8zM502.1 162.4h.8v.8h-.8zM485.9 138.5h.8v.8h-.8zM495.5 137.8h.8v.8h-.8zM506.4 153.1h.8v.8h-.8zM500.5 153.9h.8v.8h-.8zM491.5 150.7h.8v.8h-.8zM486.3 143.5h.8v.8h-.8zM505.4 151.6h.8v.8h-.8zM497.5 144.6h.8v.8h-.8zM503.8 158.7h.8v.8h-.8zM502.1 157.6h.8v.8h-.8zM504.1 152.0h.8v.8h-.8zM486.4 155.1h.8v.8h-.8zM489.7 146.1h.8v.8h-.8zM491.3 142.9h.8v.8h-.8zM485.0 158.8h.8v.8h-.8zM507.4 159.8h.8v.8h-.8zM500.9 155.2h.8v.8h-.8zM509.9 157.2h.8v.8h-.8zM503.2 161.5h.8v.8h-.8zM504.3 149.0h.8v.8h-.8zM498.9 154.7h.8v.8h-.8zM509.2 155.7h.8v.8h-.8zM508.3 156.2h.8v.8h-.8zM508.7 157.6h.8v.8h-.8zM495.4 152.1h.8v.8h-.8zM509.1 159.3h.8v.8h-.8zM511.7 147.7h.8v.8h-.8zM499.7 155.7h.8v.8h-.8zM508.1 156.4h.8v.8h-.8zM501.1 155.1h.8v.8h-.8zM511.4 147.7h.8v.8h-.8zM512.3 158.3h.8v.8h-.8zM504.8 150.0h.8v.8h-.8zM509.1 159.4h.8v.8h-.8zM507.1 168.7h.8v.8h-.8zM502.2 148.8h.8v.8h-.8zM503.3 152.9h.8v.8h-.8zM500.8 150.8h.8v.8h-.8zM501.9 152.4h.8v.8h-.8z" fill-opacity="0.170"/>
<ellipse cx="503.45" cy="153.05" rx="4.2" ry="11.25" fill="url(#rf)" fill-opacity="0.27"/>
<ellipse cx="505.35" cy="158.80" rx="4" ry="4.5" fill="url(#rf)" fill-opacity="0.16"/>
<ellipse cx="503.85" cy="148.30" rx="2.0" ry="3.6" fill="url(#rg)" fill-opacity="0.7"/>
<ellipse cx="503.85" cy="156.80" rx="2.2" ry="4.3" fill="url(#rg)" fill-opacity="0.7"/>
<ellipse cx="503.85" cy="152.55" rx="1.4" ry="2.5" fill="url(#rg)" fill-opacity="0.22"/>
<ellipse cx="503.25" cy="142.00" rx="2" ry="3" fill="url(#rg)" fill-opacity="0.3"/>
</g></g>
<rect x="475.75" y="128.00" width="37.2" height="37.3" rx="0.8" fill="none" stroke="#000" stroke-width="1.25"/>
<text x="470.05" y="133.90" font-size="4.8" text-anchor="end" textLength="5.90" lengthAdjust="spacingAndGlyphs" stroke="#222" stroke-width="0.12">10</text>
<text x="470.25" y="131.60" font-size="3.0" textLength="1.50" lengthAdjust="spacingAndGlyphs">4</text>
<text x="470.05" y="144.10" font-size="4.8" text-anchor="end" textLength="5.90" lengthAdjust="spacingAndGlyphs" stroke="#222" stroke-width="0.12">10</text>
<text x="470.25" y="141.80" font-size="3.0" textLength="1.50" lengthAdjust="spacingAndGlyphs">3</text>
<text x="470.05" y="153.90" font-size="4.8" text-anchor="end" textLength="5.90" lengthAdjust="spacingAndGlyphs" stroke="#222" stroke-width="0.12">10</text>
<text x="470.25" y="151.60" font-size="3.0" textLength="1.50" lengthAdjust="spacingAndGlyphs">2</text>
<text transform="translate(471.55,157.00) rotate(-60)" font-size="4.6" text-anchor="middle" dy="1.6" fill="#222">0</text>
<text x="470.05" y="164.10" font-size="4.8" text-anchor="end" textLength="8.40" lengthAdjust="spacingAndGlyphs" stroke="#222" stroke-width="0.12">-10</text>
<text x="470.25" y="161.80" font-size="3.0" textLength="1.50" lengthAdjust="spacingAndGlyphs">2</text>
<text x="483.05" y="174.10" font-size="4.8" text-anchor="middle" textLength="2.75" lengthAdjust="spacingAndGlyphs" stroke="#222" stroke-width="0.12">0</text>
<text x="492.30" y="174.10" font-size="4.8" textLength="5.50" lengthAdjust="spacingAndGlyphs" stroke="#222" stroke-width="0.12">10</text>
<text x="498.10" y="171.80" font-size="3.0" textLength="1.50" lengthAdjust="spacingAndGlyphs">3</text>
<text x="504.55" y="174.10" font-size="4.8" textLength="5.50" lengthAdjust="spacingAndGlyphs" stroke="#222" stroke-width="0.12">10</text>
<text x="510.35" y="171.80" font-size="3.0" textLength="1.50" lengthAdjust="spacingAndGlyphs">4</text>
<text x="314.20" y="19.90" font-size="6.4" textLength="35.20" lengthAdjust="spacingAndGlyphs" stroke="#222" stroke-width="0.05">Unstimulated</text>
<text x="373.50" y="19.90" font-size="6.4" textLength="25.00" lengthAdjust="spacingAndGlyphs" stroke="#222" stroke-width="0.05">Anti-CD3</text>
<text x="424.60" y="12.00" font-size="6.4" textLength="31.40" lengthAdjust="spacingAndGlyphs" stroke="#222" stroke-width="0.05">Anti-CD3 +</text>
<text x="428.60" y="19.60" font-size="6.4" textLength="23.40" lengthAdjust="spacingAndGlyphs" stroke="#222" stroke-width="0.05">Anti-PD1</text>
<text x="479.00" y="12.00" font-size="6.4" textLength="30.00" lengthAdjust="spacingAndGlyphs" stroke="#222" stroke-width="0.05">Anti-CD3 +</text>
<text x="480.00" y="19.60" font-size="6.4" textLength="29.00" lengthAdjust="spacingAndGlyphs" stroke="#222" stroke-width="0.05">Anti-CD28</text>
<text x="293.50" y="34.30" font-size="6.4" text-anchor="end" textLength="22.40" lengthAdjust="spacingAndGlyphs" stroke="#222" stroke-width="0.05">No Drug</text>
<text x="288.90" y="78.00" font-size="6.4" text-anchor="end" textLength="27.40" lengthAdjust="spacingAndGlyphs" stroke="#222" stroke-width="0.05">Trametinib</text>
<text x="288.90" y="85.30" font-size="6.4" text-anchor="end" textLength="16.90" lengthAdjust="spacingAndGlyphs" stroke="#222" stroke-width="0.05">10 nm</text>
<text x="288.80" y="125.60" font-size="6.4" text-anchor="end" textLength="27.60" lengthAdjust="spacingAndGlyphs" stroke="#222" stroke-width="0.05">Trametinib</text>
<text x="288.80" y="133.10" font-size="6.4" text-anchor="end" textLength="20.60" lengthAdjust="spacingAndGlyphs" stroke="#222" stroke-width="0.05">100 nm</text>
<line x1="291.30" y1="53.20" x2="291.30" y2="133.10" stroke="#111" stroke-width="0.9"/>
<polygon points="291.3,49.20 288.9,54.80 293.7,54.80" fill="#111"/>
<text transform="translate(294.30,164.60) rotate(-90)" font-size="8.6" textLength="27.8" lengthAdjust="spacingAndGlyphs" fill="#222" stroke="#222" stroke-width="0.2">CD8-PerCP</text>
<text x="313.30" y="185.30" font-size="8.4" textLength="13.90" lengthAdjust="spacingAndGlyphs" stroke="#222" stroke-width="0.2">CFSE</text>
<line x1="329.90" y1="182.60" x2="457.00" y2="182.60" stroke="#111" stroke-width="0.9"/>
<polygon points="461.3,182.60 455.8,180.20 455.8,185.00" fill="#111"/>
<path d="M311.7 238.54h1.6M311.7 236.87h1.6M311.7 235.68h1.6M311.7 234.76h1.6M311.7 234.01h1.6M311.7 233.37h1.6M311.7 232.82h1.6M311.7 232.33h1.6M311.7 229.04h1.6M311.7 227.37h1.6M311.7 226.18h1.6M311.7 225.26h1.6M311.7 224.51h1.6M311.7 223.87h1.6M311.7 223.32h1.6M311.7 222.83h1.6M311.7 219.54h1.6M311.7 242.70h1.6M311.7 244.00h1.6M311.7 245.30h1.6M311.7 246.60h1.6M311.7 247.90h1.6M311.7 249.20h1.6M311.7 250.50h1.6M311.7 251.80h1.6M324.34 255.8v1.6M334.44 255.8v1.6M326.12 255.8v1.6M336.22 255.8v1.6M327.38 255.8v1.6M337.48 255.8v1.6M328.36 255.8v1.6M338.46 255.8v1.6M329.16 255.8v1.6M339.26 255.8v1.6M329.84 255.8v1.6M339.94 255.8v1.6M330.42 255.8v1.6M340.52 255.8v1.6M330.94 255.8v1.6M341.04 255.8v1.6M344.54 255.8v1.6M346.32 255.8v1.6M347.58 255.8v1.6M348.56 255.8v1.6M317.90 255.8v1.6M316.50 255.8v1.6M315.10 255.8v1.6" stroke="#111" stroke-width="0.75" fill="none"/>
<path d="M310.7 241.40h2.6M310.7 231.90h2.6M310.7 222.40h2.6M310.7 247.20h2.6M310.7 253.70h2.6M319.30 255.8v2.6M331.40 255.8v2.6M341.50 255.8v2.6" stroke="#111" stroke-width="0.95" fill="none"/>
<clipPath id="c13"><rect x="313.80" y="219.00" width="36.20" height="36.30"/></clipPath>
<g clip-path="url(#c13)"><g filter="url(#dens)">
<rect x="317.30" y="233.50" width="26.00" height="19.00" rx="5" fill-opacity="0.05" filter="url(#soft)"/>
<path d="M337.4 248.8h.8v.8h-.8zM335.1 251.7h.8v.8h-.8zM323.2 246.9h.8v.8h-.8zM331.4 243.1h.8v.8h-.8zM331.1 232.0h.8v.8h-.8zM327.6 240.8h.8v.8h-.8zM338.1 252.0h.8v.8h-.8zM317.5 237.9h.8v.8h-.8zM332.0 231.3h.8v.8h-.8zM338.8 249.1h.8v.8h-.8zM333.9 241.9h.8v.8h-.8zM337.4 242.3h.8v.8h-.8zM339.3 234.9h.8v.8h-.8zM323.0 249.8h.8v.8h-.8zM322.9 246.4h.8v.8h-.8zM327.7 233.2h.8v.8h-.8zM340.1 243.7h.8v.8h-.8zM322.3 239.0h.8v.8h-.8zM337.5 235.4h.8v.8h-.8zM318.7 252.1h.8v.8h-.8zM332.9 251.3h.8v.8h-.8zM338.9 234.0h.8v.8h-.8zM328.5 238.9h.8v.8h-.8zM320.2 248.3h.8v.8h-.8zM335.9 237.5h.8v.8h-.8zM332.5 232.9h.8v.8h-.8zM317.4 252.8h.8v.8h-.8zM334.7 250.4h.8v.8h-.8zM325.8 248.3h.8v.8h-.8zM326.0 253.3h.8v.8h-.8zM317.8 251.9h.8v.8h-.8zM341.0 234.8h.8v.8h-.8zM342.3 248.1h.8v.8h-.8zM321.8 232.1h.8v.8h-.8zM343.0 233.0h.8v.8h-.8zM336.8 239.0h.8v.8h-.8zM331.5 246.5h.8v.8h-.8zM339.0 252.5h.8v.8h-.8zM335.6 237.7h.8v.8h-.8zM346.6 245.2h.8v.8h-.8zM332.0 238.9h.8v.8h-.8zM336.5 239.4h.8v.8h-.8zM323.6 240.1h.8v.8h-.8zM338.2 253.0h.8v.8h-.8zM329.5 253.5h.8v.8h-.8zM336.9 247.9h.8v.8h-.8zM331.9 244.5h.8v.8h-.8zM329.7 241.9h.8v.8h-.8zM323.8 236.6h.8v.8h-.8zM322.8 245.8h.8v.8h-.8zM342.5 251.3h.8v.8h-.8zM325.6 239.7h.8v.8h-.8zM330.6 251.4h.8v.8h-.8zM335.4 239.2h.8v.8h-.8zM337.0 233.1h.8v.8h-.8zM344.3 234.1h.8v.8h-.8zM343.0 240.8h.8v.8h-.8zM337.5 245.0h.8v.8h-.8zM318.5 234.8h.8v.8h-.8zM333.4 243.5h.8v.8h-.8zM321.6 235.5h.8v.8h-.8zM326.7 245.5h.8v.8h-.8zM322.6 245.0h.8v.8h-.8zM338.7 246.9h.8v.8h-.8zM324.4 239.9h.8v.8h-.8zM331.6 240.2h.8v.8h-.8zM323.8 239.1h.8v.8h-.8zM323.2 250.4h.8v.8h-.8zM341.5 245.1h.8v.8h-.8zM347.2 246.7h.8v.8h-.8zM321.4 239.4h.8v.8h-.8zM346.8 247.4h.8v.8h-.8zM328.3 234.2h.8v.8h-.8zM326.7 238.2h.8v.8h-.8zM330.1 241.5h.8v.8h-.8zM330.7 241.9h.8v.8h-.8zM341.9 236.7h.8v.8h-.8zM338.7 252.8h.8v.8h-.8zM331.1 239.1h.8v.8h-.8zM323.3 241.7h.8v.8h-.8zM339.1 249.5h.8v.8h-.8zM345.4 247.0h.8v.8h-.8zM333.4 236.4h.8v.8h-.8zM321.6 248.2h.8v.8h-.8zM335.9 243.1h.8v.8h-.8zM322.7 247.8h.8v.8h-.8zM319.2 236.5h.8v.8h-.8zM320.4 241.8h.8v.8h-.8zM322.6 250.6h.8v.8h-.8zM339.0 246.0h.8v.8h-.8zM330.1 245.4h.8v.8h-.8zM346.3 248.7h.8v.8h-.8z" fill-opacity="0.091"/>
<path d="M322.9 246.4h.8v.8h-.8zM317.8 245.2h.8v.8h-.8zM337.0 233.5h.8v.8h-.8zM345.0 238.1h.8v.8h-.8zM324.3 239.5h.8v.8h-.8zM329.5 242.4h.8v.8h-.8zM338.6 249.7h.8v.8h-.8zM340.2 230.8h.8v.8h-.8zM347.2 231.9h.8v.8h-.8zM332.4 235.7h.8v.8h-.8zM346.1 243.0h.8v.8h-.8zM335.3 249.7h.8v.8h-.8zM336.7 234.8h.8v.8h-.8zM332.1 250.2h.8v.8h-.8zM345.9 239.6h.8v.8h-.8zM334.1 235.7h.8v.8h-.8zM334.9 233.2h.8v.8h-.8zM345.4 237.6h.8v.8h-.8zM328.1 232.7h.8v.8h-.8zM320.1 251.8h.8v.8h-.8zM339.5 238.0h.8v.8h-.8zM320.3 232.2h.8v.8h-.8zM337.5 239.6h.8v.8h-.8zM325.1 252.1h.8v.8h-.8zM328.4 238.0h.8v.8h-.8zM342.7 247.3h.8v.8h-.8zM328.9 238.5h.8v.8h-.8zM320.5 239.6h.8v.8h-.8zM337.0 239.3h.8v.8h-.8zM347.1 249.3h.8v.8h-.8zM323.5 246.9h.8v.8h-.8zM338.3 241.0h.8v.8h-.8zM333.4 246.6h.8v.8h-.8zM332.2 250.0h.8v.8h-.8zM320.2 244.1h.8v.8h-.8zM323.1 245.7h.8v.8h-.8z" fill-opacity="0.143"/>
<path d="M332.7 235.9h.8v.8h-.8zM340.1 231.6h.8v.8h-.8zM327.3 252.4h.8v.8h-.8zM337.4 249.2h.8v.8h-.8zM335.5 234.1h.8v.8h-.8zM328.6 231.6h.8v.8h-.8zM339.2 242.5h.8v.8h-.8zM338.5 244.1h.8v.8h-.8zM332.2 247.9h.8v.8h-.8zM328.5 253.0h.8v.8h-.8zM319.8 242.5h.8v.8h-.8zM346.2 250.8h.8v.8h-.8zM318.5 250.3h.8v.8h-.8zM330.7 234.5h.8v.8h-.8zM325.3 238.6h.8v.8h-.8zM321.5 241.4h.8v.8h-.8zM324.4 240.1h.8v.8h-.8zM322.2 243.0h.8v.8h-.8zM328.0 230.6h.8v.8h-.8zM342.4 236.6h.8v.8h-.8zM342.6 235.8h.8v.8h-.8zM336.7 252.8h.8v.8h-.8zM344.1 249.2h.8v.8h-.8zM317.8 238.3h.8v.8h-.8zM336.1 242.7h.8v.8h-.8zM325.0 241.4h.8v.8h-.8zM344.1 236.2h.8v.8h-.8zM323.8 232.7h.8v.8h-.8zM335.9 239.5h.8v.8h-.8zM324.9 237.3h.8v.8h-.8zM336.3 241.1h.8v.8h-.8zM326.2 233.5h.8v.8h-.8zM324.2 232.4h.8v.8h-.8zM318.0 252.3h.8v.8h-.8zM321.5 235.0h.8v.8h-.8zM344.8 236.5h.8v.8h-.8zM326.6 234.4h.8v.8h-.8zM334.6 246.0h.8v.8h-.8zM331.5 244.8h.8v.8h-.8zM317.8 236.7h.8v.8h-.8zM318.0 236.1h.8v.8h-.8zM336.4 240.1h.8v.8h-.8z" fill-opacity="0.221"/>
<ellipse cx="319.30" cy="242.50" rx="1.6" ry="7.5" fill="url(#rf)" fill-opacity="0.22"/>
<ellipse cx="319.30" cy="238.90" rx="1.1" ry="2.5" fill="url(#rg)" fill-opacity="0.18"/>
<ellipse cx="337.10" cy="243.25" rx="3.5999999999999996" ry="10.0" fill="url(#rf)" fill-opacity="0.26"/>
<ellipse cx="337.40" cy="239.30" rx="1.8" ry="3.0" fill="url(#rg)" fill-opacity="0.84"/>
<ellipse cx="337.40" cy="246.20" rx="2.0" ry="4.8" fill="url(#rg)" fill-opacity="0.55"/>
</g></g>
<rect x="313.30" y="218.50" width="37.2" height="37.3" rx="0.8" fill="none" stroke="#000" stroke-width="1.25"/>
<text x="307.60" y="224.20" font-size="4.8" text-anchor="end" textLength="5.90" lengthAdjust="spacingAndGlyphs" stroke="#222" stroke-width="0.12">10</text>
<text x="307.80" y="221.90" font-size="3.0" textLength="1.50" lengthAdjust="spacingAndGlyphs">4</text>
<text x="307.60" y="234.10" font-size="4.8" text-anchor="end" textLength="5.90" lengthAdjust="spacingAndGlyphs" stroke="#222" stroke-width="0.12">10</text>
<text x="307.80" y="231.80" font-size="3.0" textLength="1.50" lengthAdjust="spacingAndGlyphs">3</text>
<text x="307.60" y="243.60" font-size="4.8" text-anchor="end" textLength="5.90" lengthAdjust="spacingAndGlyphs" stroke="#222" stroke-width="0.12">10</text>
<text x="307.80" y="241.30" font-size="3.0" textLength="1.50" lengthAdjust="spacingAndGlyphs">2</text>
<text transform="translate(309.10,247.20) rotate(-60)" font-size="4.6" text-anchor="middle" dy="1.6" fill="#222">0</text>
<text x="307.60" y="255.40" font-size="4.8" text-anchor="end" textLength="8.40" lengthAdjust="spacingAndGlyphs" stroke="#222" stroke-width="0.12">-10</text>
<text x="307.80" y="253.10" font-size="3.0" textLength="1.50" lengthAdjust="spacingAndGlyphs">2</text>
<text x="319.30" y="264.60" font-size="4.8" text-anchor="middle" textLength="2.75" lengthAdjust="spacingAndGlyphs" stroke="#222" stroke-width="0.12">0</text>
<text x="327.75" y="264.60" font-size="4.8" textLength="5.50" lengthAdjust="spacingAndGlyphs" stroke="#222" stroke-width="0.12">10</text>
<text x="333.55" y="262.30" font-size="3.0" textLength="1.50" lengthAdjust="spacingAndGlyphs">3</text>
<text x="337.85" y="264.60" font-size="4.8" textLength="5.50" lengthAdjust="spacingAndGlyphs" stroke="#222" stroke-width="0.12">10</text>
<text x="343.65" y="262.30" font-size="3.0" textLength="1.50" lengthAdjust="spacingAndGlyphs">4</text>
<path d="M365.8 238.54h1.6M365.8 236.87h1.6M365.8 235.68h1.6M365.8 234.76h1.6M365.8 234.01h1.6M365.8 233.37h1.6M365.8 232.82h1.6M365.8 232.33h1.6M365.8 229.04h1.6M365.8 227.37h1.6M365.8 226.18h1.6M365.8 225.26h1.6M365.8 224.51h1.6M365.8 223.87h1.6M365.8 223.32h1.6M365.8 222.83h1.6M365.8 219.54h1.6M365.8 242.70h1.6M365.8 244.00h1.6M365.8 245.30h1.6M365.8 246.60h1.6M365.8 247.90h1.6M365.8 249.20h1.6M365.8 250.50h1.6M365.8 251.80h1.6M378.49 255.8v1.6M388.59 255.8v1.6M380.27 255.8v1.6M390.37 255.8v1.6M381.53 255.8v1.6M391.63 255.8v1.6M382.51 255.8v1.6M392.61 255.8v1.6M383.31 255.8v1.6M393.41 255.8v1.6M383.99 255.8v1.6M394.09 255.8v1.6M384.57 255.8v1.6M394.67 255.8v1.6M385.09 255.8v1.6M395.19 255.8v1.6M398.69 255.8v1.6M400.47 255.8v1.6M401.73 255.8v1.6M402.71 255.8v1.6M372.05 255.8v1.6M370.65 255.8v1.6M369.25 255.8v1.6" stroke="#111" stroke-width="0.75" fill="none"/>
<path d="M364.8 241.40h2.6M364.8 231.90h2.6M364.8 222.40h2.6M364.8 247.20h2.6M364.8 253.70h2.6M373.45 255.8v2.6M385.55 255.8v2.6M395.65 255.8v2.6" stroke="#111" stroke-width="0.95" fill="none"/>
<clipPath id="c14"><rect x="367.95" y="219.00" width="36.20" height="36.30"/></clipPath>
<g clip-path="url(#c14)"><g filter="url(#dens)">
<path d="M391.8 232.4h.8v.8h-.8zM398.0 229.0h.8v.8h-.8zM382.2 248.0h.8v.8h-.8zM382.0 242.8h.8v.8h-.8zM398.3 246.0h.8v.8h-.8zM383.3 238.8h.8v.8h-.8zM384.7 240.5h.8v.8h-.8zM385.0 236.2h.8v.8h-.8zM380.5 230.0h.8v.8h-.8zM388.2 243.5h.8v.8h-.8zM401.3 239.2h.8v.8h-.8zM385.7 242.8h.8v.8h-.8zM391.1 244.0h.8v.8h-.8zM380.3 252.0h.8v.8h-.8zM399.7 247.8h.8v.8h-.8zM380.8 245.6h.8v.8h-.8zM373.2 228.9h.8v.8h-.8zM395.9 247.2h.8v.8h-.8zM382.7 238.9h.8v.8h-.8zM386.0 250.7h.8v.8h-.8zM394.7 249.8h.8v.8h-.8zM373.7 235.7h.8v.8h-.8zM384.0 246.7h.8v.8h-.8zM375.8 244.0h.8v.8h-.8zM375.4 246.9h.8v.8h-.8zM385.4 241.8h.8v.8h-.8zM379.7 253.2h.8v.8h-.8zM375.0 244.7h.8v.8h-.8zM377.4 240.3h.8v.8h-.8zM394.4 241.9h.8v.8h-.8zM394.4 240.2h.8v.8h-.8zM386.8 233.5h.8v.8h-.8zM374.3 251.1h.8v.8h-.8zM396.2 234.2h.8v.8h-.8zM376.0 236.3h.8v.8h-.8zM384.8 234.8h.8v.8h-.8zM389.8 234.5h.8v.8h-.8zM380.0 236.1h.8v.8h-.8zM395.5 243.9h.8v.8h-.8zM391.6 232.5h.8v.8h-.8zM398.9 240.0h.8v.8h-.8zM375.1 247.7h.8v.8h-.8zM398.8 251.1h.8v.8h-.8zM380.7 229.2h.8v.8h-.8zM372.6 237.9h.8v.8h-.8zM400.2 247.0h.8v.8h-.8zM387.3 245.4h.8v.8h-.8zM398.6 239.0h.8v.8h-.8zM375.1 248.0h.8v.8h-.8zM387.1 246.0h.8v.8h-.8zM393.9 231.4h.8v.8h-.8zM381.5 247.9h.8v.8h-.8zM383.1 235.7h.8v.8h-.8zM395.5 234.3h.8v.8h-.8zM388.5 243.6h.8v.8h-.8zM379.5 237.0h.8v.8h-.8zM373.5 232.3h.8v.8h-.8zM376.2 239.6h.8v.8h-.8zM377.9 235.3h.8v.8h-.8zM388.5 245.8h.8v.8h-.8zM391.2 243.3h.8v.8h-.8zM386.2 239.4h.8v.8h-.8zM389.0 243.8h.8v.8h-.8zM391.1 244.5h.8v.8h-.8zM387.4 243.6h.8v.8h-.8zM390.4 240.2h.8v.8h-.8zM389.1 240.5h.8v.8h-.8zM391.5 237.5h.8v.8h-.8zM390.5 248.6h.8v.8h-.8z" fill-opacity="0.091"/>
<path d="M395.7 233.2h.8v.8h-.8zM372.9 249.4h.8v.8h-.8zM394.6 245.6h.8v.8h-.8zM375.6 240.8h.8v.8h-.8zM380.9 246.1h.8v.8h-.8zM384.4 245.9h.8v.8h-.8zM376.3 246.9h.8v.8h-.8zM382.7 249.2h.8v.8h-.8zM373.8 239.3h.8v.8h-.8zM379.9 233.6h.8v.8h-.8zM393.6 247.9h.8v.8h-.8zM377.4 233.1h.8v.8h-.8zM382.6 239.5h.8v.8h-.8zM398.1 241.0h.8v.8h-.8zM379.6 243.7h.8v.8h-.8zM380.3 241.5h.8v.8h-.8zM395.5 250.2h.8v.8h-.8zM379.0 234.1h.8v.8h-.8zM389.8 252.7h.8v.8h-.8zM398.3 235.7h.8v.8h-.8zM396.0 249.4h.8v.8h-.8zM378.5 248.1h.8v.8h-.8zM399.9 237.1h.8v.8h-.8zM391.7 234.8h.8v.8h-.8zM379.0 233.2h.8v.8h-.8zM374.4 240.7h.8v.8h-.8zM384.5 237.9h.8v.8h-.8zM386.5 246.2h.8v.8h-.8zM400.0 247.4h.8v.8h-.8zM374.9 239.4h.8v.8h-.8zM400.5 243.5h.8v.8h-.8zM392.0 234.5h.8v.8h-.8zM390.7 239.3h.8v.8h-.8zM391.9 244.7h.8v.8h-.8zM393.1 243.8h.8v.8h-.8zM389.8 240.3h.8v.8h-.8zM392.6 241.4h.8v.8h-.8zM389.0 239.9h.8v.8h-.8zM387.7 244.8h.8v.8h-.8zM393.0 245.2h.8v.8h-.8zM389.1 247.6h.8v.8h-.8zM388.8 247.3h.8v.8h-.8zM394.1 239.2h.8v.8h-.8zM392.5 249.0h.8v.8h-.8zM390.8 247.9h.8v.8h-.8zM391.9 243.5h.8v.8h-.8z" fill-opacity="0.143"/>
<path d="M393.8 229.1h.8v.8h-.8zM396.9 231.3h.8v.8h-.8zM382.0 234.2h.8v.8h-.8zM386.0 253.2h.8v.8h-.8zM396.5 242.0h.8v.8h-.8zM386.8 237.0h.8v.8h-.8zM395.7 250.2h.8v.8h-.8zM377.3 253.3h.8v.8h-.8zM387.1 238.6h.8v.8h-.8zM389.0 253.0h.8v.8h-.8zM397.3 253.5h.8v.8h-.8zM389.5 249.5h.8v.8h-.8zM385.1 237.0h.8v.8h-.8zM382.5 244.0h.8v.8h-.8zM397.2 237.6h.8v.8h-.8zM393.7 249.6h.8v.8h-.8zM377.5 233.1h.8v.8h-.8zM377.3 243.7h.8v.8h-.8zM374.3 243.6h.8v.8h-.8zM373.6 231.9h.8v.8h-.8zM374.7 229.8h.8v.8h-.8zM399.1 232.2h.8v.8h-.8zM397.7 247.4h.8v.8h-.8zM399.3 231.3h.8v.8h-.8zM396.3 247.1h.8v.8h-.8zM376.9 236.1h.8v.8h-.8zM372.5 235.9h.8v.8h-.8zM388.8 228.7h.8v.8h-.8zM388.9 246.4h.8v.8h-.8zM385.7 251.3h.8v.8h-.8zM377.3 230.2h.8v.8h-.8zM383.7 248.1h.8v.8h-.8zM386.9 248.1h.8v.8h-.8zM375.7 240.7h.8v.8h-.8zM377.5 245.6h.8v.8h-.8zM391.5 251.0h.8v.8h-.8zM382.9 251.2h.8v.8h-.8zM399.5 252.7h.8v.8h-.8zM399.3 249.5h.8v.8h-.8zM388.5 242.0h.8v.8h-.8zM393.0 247.6h.8v.8h-.8zM389.0 250.1h.8v.8h-.8zM392.0 248.4h.8v.8h-.8zM391.3 244.7h.8v.8h-.8zM391.6 243.7h.8v.8h-.8zM392.2 245.4h.8v.8h-.8zM394.6 240.9h.8v.8h-.8zM392.1 242.3h.8v.8h-.8zM392.1 242.0h.8v.8h-.8zM392.0 250.9h.8v.8h-.8zM392.4 251.6h.8v.8h-.8zM390.7 241.7h.8v.8h-.8zM393.3 241.7h.8v.8h-.8zM392.0 249.3h.8v.8h-.8zM390.7 250.1h.8v.8h-.8z" fill-opacity="0.221"/>
<ellipse cx="390.70" cy="242.65" rx="3.3" ry="10.0" fill="url(#rf)" fill-opacity="0.26"/>
<ellipse cx="391.00" cy="238.50" rx="1.2" ry="3.5" fill="url(#rg)" fill-opacity="0.36"/>
<ellipse cx="391.00" cy="245.80" rx="1.6" ry="4.0" fill="url(#rg)" fill-opacity="0.64"/>
</g></g>
<rect x="367.45" y="218.50" width="37.2" height="37.3" rx="0.8" fill="none" stroke="#000" stroke-width="1.25"/>
<text x="361.75" y="224.20" font-size="4.8" text-anchor="end" textLength="5.90" lengthAdjust="spacingAndGlyphs" stroke="#222" stroke-width="0.12">10</text>
<text x="361.95" y="221.90" font-size="3.0" textLength="1.50" lengthAdjust="spacingAndGlyphs">4</text>
<text x="361.75" y="234.10" font-size="4.8" text-anchor="end" textLength="5.90" lengthAdjust="spacingAndGlyphs" stroke="#222" stroke-width="0.12">10</text>
<text x="361.95" y="231.80" font-size="3.0" textLength="1.50" lengthAdjust="spacingAndGlyphs">3</text>
<text x="361.75" y="243.60" font-size="4.8" text-anchor="end" textLength="5.90" lengthAdjust="spacingAndGlyphs" stroke="#222" stroke-width="0.12">10</text>
<text x="361.95" y="241.30" font-size="3.0" textLength="1.50" lengthAdjust="spacingAndGlyphs">2</text>
<text transform="translate(363.25,247.20) rotate(-60)" font-size="4.6" text-anchor="middle" dy="1.6" fill="#222">0</text>
<text x="361.75" y="255.40" font-size="4.8" text-anchor="end" textLength="8.40" lengthAdjust="spacingAndGlyphs" stroke="#222" stroke-width="0.12">-10</text>
<text x="361.95" y="253.10" font-size="3.0" textLength="1.50" lengthAdjust="spacingAndGlyphs">2</text>
<text x="373.45" y="264.60" font-size="4.8" text-anchor="middle" textLength="2.75" lengthAdjust="spacingAndGlyphs" stroke="#222" stroke-width="0.12">0</text>
<text x="381.90" y="264.60" font-size="4.8" textLength="5.50" lengthAdjust="spacingAndGlyphs" stroke="#222" stroke-width="0.12">10</text>
<text x="387.70" y="262.30" font-size="3.0" textLength="1.50" lengthAdjust="spacingAndGlyphs">3</text>
<text x="392.00" y="264.60" font-size="4.8" textLength="5.50" lengthAdjust="spacingAndGlyphs" stroke="#222" stroke-width="0.12">10</text>
<text x="397.80" y="262.30" font-size="3.0" textLength="1.50" lengthAdjust="spacingAndGlyphs">4</text>
<path d="M420.0 238.54h1.6M420.0 236.87h1.6M420.0 235.68h1.6M420.0 234.76h1.6M420.0 234.01h1.6M420.0 233.37h1.6M420.0 232.82h1.6M420.0 232.33h1.6M420.0 229.04h1.6M420.0 227.37h1.6M420.0 226.18h1.6M420.0 225.26h1.6M420.0 224.51h1.6M420.0 223.87h1.6M420.0 223.32h1.6M420.0 222.83h1.6M420.0 219.54h1.6M420.0 242.70h1.6M420.0 244.00h1.6M420.0 245.30h1.6M420.0 246.60h1.6M420.0 247.90h1.6M420.0 249.20h1.6M420.0 250.50h1.6M420.0 251.80h1.6M432.64 255.8v1.6M442.74 255.8v1.6M434.42 255.8v1.6M444.52 255.8v1.6M435.68 255.8v1.6M445.78 255.8v1.6M436.66 255.8v1.6M446.76 255.8v1.6M437.46 255.8v1.6M447.56 255.8v1.6M438.14 255.8v1.6M448.24 255.8v1.6M438.72 255.8v1.6M448.82 255.8v1.6M439.24 255.8v1.6M449.34 255.8v1.6M452.84 255.8v1.6M454.62 255.8v1.6M455.88 255.8v1.6M456.86 255.8v1.6M426.20 255.8v1.6M424.80 255.8v1.6M423.40 255.8v1.6" stroke="#111" stroke-width="0.75" fill="none"/>
<path d="M419.0 241.40h2.6M419.0 231.90h2.6M419.0 222.40h2.6M419.0 247.20h2.6M419.0 253.70h2.6M427.60 255.8v2.6M439.70 255.8v2.6M449.80 255.8v2.6" stroke="#111" stroke-width="0.95" fill="none"/>
<clipPath id="c15"><rect x="422.10" y="219.00" width="36.20" height="36.30"/></clipPath>
<g clip-path="url(#c15)"><g filter="url(#dens)">
<path d="M432.0 229.3h.8v.8h-.8zM445.0 244.8h.8v.8h-.8zM454.6 230.7h.8v.8h-.8zM452.3 249.8h.8v.8h-.8zM441.2 240.4h.8v.8h-.8zM430.6 244.9h.8v.8h-.8zM455.5 249.6h.8v.8h-.8zM452.7 229.4h.8v.8h-.8zM454.9 230.5h.8v.8h-.8zM429.1 240.4h.8v.8h-.8zM427.0 230.5h.8v.8h-.8zM434.8 251.2h.8v.8h-.8zM437.5 234.7h.8v.8h-.8zM446.0 236.1h.8v.8h-.8zM432.4 246.6h.8v.8h-.8zM446.3 247.3h.8v.8h-.8zM432.9 234.7h.8v.8h-.8zM432.1 253.4h.8v.8h-.8zM450.8 229.8h.8v.8h-.8zM430.2 247.2h.8v.8h-.8zM449.4 243.0h.8v.8h-.8zM445.1 247.4h.8v.8h-.8zM430.5 234.6h.8v.8h-.8zM443.0 247.7h.8v.8h-.8zM432.8 230.0h.8v.8h-.8zM441.9 231.6h.8v.8h-.8zM453.5 252.9h.8v.8h-.8zM435.1 239.3h.8v.8h-.8zM441.2 249.5h.8v.8h-.8zM430.8 233.7h.8v.8h-.8zM449.2 252.9h.8v.8h-.8zM428.4 234.9h.8v.8h-.8zM441.8 243.2h.8v.8h-.8zM428.7 241.8h.8v.8h-.8zM441.6 240.0h.8v.8h-.8zM430.8 234.4h.8v.8h-.8zM453.4 252.0h.8v.8h-.8zM450.3 253.2h.8v.8h-.8zM446.1 233.6h.8v.8h-.8zM449.8 250.4h.8v.8h-.8zM442.1 237.5h.8v.8h-.8zM441.1 249.4h.8v.8h-.8zM435.5 253.2h.8v.8h-.8zM437.6 246.9h.8v.8h-.8zM433.3 239.1h.8v.8h-.8zM428.0 230.8h.8v.8h-.8zM430.8 244.4h.8v.8h-.8zM437.5 243.9h.8v.8h-.8zM434.8 247.7h.8v.8h-.8zM427.3 242.6h.8v.8h-.8zM431.5 228.7h.8v.8h-.8zM435.4 237.3h.8v.8h-.8zM436.6 244.6h.8v.8h-.8zM454.0 250.4h.8v.8h-.8zM435.7 234.3h.8v.8h-.8zM442.1 232.1h.8v.8h-.8zM429.9 237.6h.8v.8h-.8zM426.8 239.9h.8v.8h-.8zM439.8 242.8h.8v.8h-.8zM446.2 238.4h.8v.8h-.8zM438.8 231.5h.8v.8h-.8zM444.7 239.7h.8v.8h-.8zM441.3 242.6h.8v.8h-.8zM430.4 245.7h.8v.8h-.8zM436.1 249.0h.8v.8h-.8zM436.8 244.1h.8v.8h-.8zM447.2 242.7h.8v.8h-.8zM454.6 249.4h.8v.8h-.8zM428.8 242.7h.8v.8h-.8zM428.0 248.4h.8v.8h-.8zM444.0 229.2h.8v.8h-.8zM447.5 240.9h.8v.8h-.8zM444.1 246.2h.8v.8h-.8zM443.8 239.8h.8v.8h-.8zM445.5 244.3h.8v.8h-.8zM441.8 236.1h.8v.8h-.8zM445.6 245.6h.8v.8h-.8zM444.5 246.8h.8v.8h-.8zM448.0 241.8h.8v.8h-.8zM444.1 242.8h.8v.8h-.8zM442.7 244.9h.8v.8h-.8zM447.2 249.1h.8v.8h-.8zM449.3 241.7h.8v.8h-.8zM443.2 248.9h.8v.8h-.8zM443.1 250.9h.8v.8h-.8z" fill-opacity="0.091"/>
<path d="M430.4 246.5h.8v.8h-.8zM447.3 251.2h.8v.8h-.8zM438.8 238.4h.8v.8h-.8zM442.8 234.3h.8v.8h-.8zM445.2 235.9h.8v.8h-.8zM430.9 236.0h.8v.8h-.8zM446.6 252.5h.8v.8h-.8zM447.4 233.5h.8v.8h-.8zM441.0 244.0h.8v.8h-.8zM427.6 242.4h.8v.8h-.8zM448.4 241.5h.8v.8h-.8zM449.3 246.1h.8v.8h-.8zM444.9 235.9h.8v.8h-.8zM426.9 247.0h.8v.8h-.8zM435.4 242.8h.8v.8h-.8zM440.5 250.6h.8v.8h-.8zM442.5 232.0h.8v.8h-.8zM445.7 228.9h.8v.8h-.8zM446.5 242.2h.8v.8h-.8zM429.8 249.1h.8v.8h-.8zM442.8 231.7h.8v.8h-.8zM454.2 252.5h.8v.8h-.8zM433.6 236.0h.8v.8h-.8zM444.5 241.3h.8v.8h-.8zM439.1 238.8h.8v.8h-.8zM454.8 233.8h.8v.8h-.8zM447.1 237.4h.8v.8h-.8zM444.3 236.9h.8v.8h-.8zM442.5 245.3h.8v.8h-.8zM445.8 246.3h.8v.8h-.8zM448.4 244.3h.8v.8h-.8zM445.3 238.2h.8v.8h-.8zM448.6 241.2h.8v.8h-.8zM446.4 243.0h.8v.8h-.8zM446.0 246.7h.8v.8h-.8zM444.9 244.8h.8v.8h-.8zM443.3 256.3h.8v.8h-.8zM441.8 243.5h.8v.8h-.8zM451.1 242.7h.8v.8h-.8zM445.1 245.0h.8v.8h-.8z" fill-opacity="0.143"/>
<path d="M447.3 233.0h.8v.8h-.8zM450.2 241.2h.8v.8h-.8zM439.9 237.7h.8v.8h-.8zM442.5 231.0h.8v.8h-.8zM446.3 238.5h.8v.8h-.8zM428.2 237.6h.8v.8h-.8zM432.1 238.5h.8v.8h-.8zM437.8 231.4h.8v.8h-.8zM447.5 250.7h.8v.8h-.8zM440.1 245.1h.8v.8h-.8zM429.0 247.9h.8v.8h-.8zM430.8 243.2h.8v.8h-.8zM445.6 240.1h.8v.8h-.8zM445.0 251.6h.8v.8h-.8zM450.5 238.7h.8v.8h-.8zM442.5 240.1h.8v.8h-.8zM453.5 239.7h.8v.8h-.8zM446.7 245.7h.8v.8h-.8zM452.8 246.1h.8v.8h-.8zM454.2 241.6h.8v.8h-.8zM437.6 243.8h.8v.8h-.8zM441.2 236.9h.8v.8h-.8zM430.3 232.8h.8v.8h-.8zM448.4 238.7h.8v.8h-.8zM440.2 245.5h.8v.8h-.8zM436.7 230.9h.8v.8h-.8zM441.1 231.0h.8v.8h-.8zM431.5 228.6h.8v.8h-.8zM452.1 245.4h.8v.8h-.8zM438.2 236.1h.8v.8h-.8zM439.1 231.7h.8v.8h-.8zM439.4 239.5h.8v.8h-.8zM445.0 248.9h.8v.8h-.8zM445.4 246.7h.8v.8h-.8zM445.1 250.7h.8v.8h-.8zM441.7 248.0h.8v.8h-.8zM446.4 239.3h.8v.8h-.8zM442.6 250.9h.8v.8h-.8zM443.7 244.3h.8v.8h-.8zM445.6 234.5h.8v.8h-.8zM446.4 239.9h.8v.8h-.8zM444.0 249.4h.8v.8h-.8zM442.7 241.1h.8v.8h-.8zM445.8 240.6h.8v.8h-.8zM444.0 247.6h.8v.8h-.8z" fill-opacity="0.221"/>
<ellipse cx="444.70" cy="241.55" rx="3.3" ry="10.0" fill="url(#rf)" fill-opacity="0.26"/>
<ellipse cx="445.00" cy="237.40" rx="1.2" ry="2.5" fill="url(#rg)" fill-opacity="0.45"/>
<ellipse cx="445.00" cy="244.70" rx="1.6" ry="4.0" fill="url(#rg)" fill-opacity="0.66"/>
</g></g>
<rect x="421.60" y="218.50" width="37.2" height="37.3" rx="0.8" fill="none" stroke="#000" stroke-width="1.25"/>
<text x="415.90" y="224.20" font-size="4.8" text-anchor="end" textLength="5.90" lengthAdjust="spacingAndGlyphs" stroke="#222" stroke-width="0.12">10</text>
<text x="416.10" y="221.90" font-size="3.0" textLength="1.50" lengthAdjust="spacingAndGlyphs">4</text>
<text x="415.90" y="234.10" font-size="4.8" text-anchor="end" textLength="5.90" lengthAdjust="spacingAndGlyphs" stroke="#222" stroke-width="0.12">10</text>
<text x="416.10" y="231.80" font-size="3.0" textLength="1.50" lengthAdjust="spacingAndGlyphs">3</text>
<text x="415.90" y="243.60" font-size="4.8" text-anchor="end" textLength="5.90" lengthAdjust="spacingAndGlyphs" stroke="#222" stroke-width="0.12">10</text>
<text x="416.10" y="241.30" font-size="3.0" textLength="1.50" lengthAdjust="spacingAndGlyphs">2</text>
<text transform="translate(417.40,247.20) rotate(-60)" font-size="4.6" text-anchor="middle" dy="1.6" fill="#222">0</text>
<text x="415.90" y="255.40" font-size="4.8" text-anchor="end" textLength="8.40" lengthAdjust="spacingAndGlyphs" stroke="#222" stroke-width="0.12">-10</text>
<text x="416.10" y="253.10" font-size="3.0" textLength="1.50" lengthAdjust="spacingAndGlyphs">2</text>
<text x="427.60" y="264.60" font-size="4.8" text-anchor="middle" textLength="2.75" lengthAdjust="spacingAndGlyphs" stroke="#222" stroke-width="0.12">0</text>
<text x="436.05" y="264.60" font-size="4.8" textLength="5.50" lengthAdjust="spacingAndGlyphs" stroke="#222" stroke-width="0.12">10</text>
<text x="441.85" y="262.30" font-size="3.0" textLength="1.50" lengthAdjust="spacingAndGlyphs">3</text>
<text x="446.15" y="264.60" font-size="4.8" textLength="5.50" lengthAdjust="spacingAndGlyphs" stroke="#222" stroke-width="0.12">10</text>
<text x="451.95" y="262.30" font-size="3.0" textLength="1.50" lengthAdjust="spacingAndGlyphs">4</text>
<path d="M474.1 238.54h1.6M474.1 236.87h1.6M474.1 235.68h1.6M474.1 234.76h1.6M474.1 234.01h1.6M474.1 233.37h1.6M474.1 232.82h1.6M474.1 232.33h1.6M474.1 229.04h1.6M474.1 227.37h1.6M474.1 226.18h1.6M474.1 225.26h1.6M474.1 224.51h1.6M474.1 223.87h1.6M474.1 223.32h1.6M474.1 222.83h1.6M474.1 219.54h1.6M474.1 242.70h1.6M474.1 244.00h1.6M474.1 245.30h1.6M474.1 246.60h1.6M474.1 247.90h1.6M474.1 249.20h1.6M474.1 250.50h1.6M474.1 251.80h1.6M486.79 255.8v1.6M496.89 255.8v1.6M488.57 255.8v1.6M498.67 255.8v1.6M489.83 255.8v1.6M499.93 255.8v1.6M490.81 255.8v1.6M500.91 255.8v1.6M491.61 255.8v1.6M501.71 255.8v1.6M492.29 255.8v1.6M502.39 255.8v1.6M492.87 255.8v1.6M502.97 255.8v1.6M493.39 255.8v1.6M503.49 255.8v1.6M506.99 255.8v1.6M508.77 255.8v1.6M510.03 255.8v1.6M511.01 255.8v1.6M480.35 255.8v1.6M478.95 255.8v1.6M477.55 255.8v1.6" stroke="#111" stroke-width="0.75" fill="none"/>
<path d="M473.1 241.40h2.6M473.1 231.90h2.6M473.1 222.40h2.6M473.1 247.20h2.6M473.1 253.70h2.6M481.75 255.8v2.6M493.85 255.8v2.6M503.95 255.8v2.6" stroke="#111" stroke-width="0.95" fill="none"/>
<clipPath id="c16"><rect x="476.25" y="219.00" width="36.20" height="36.30"/></clipPath>
<g clip-path="url(#c16)"><g filter="url(#dens)">
<path d="M505.6 240.9h.8v.8h-.8zM502.2 241.1h.8v.8h-.8zM485.1 250.4h.8v.8h-.8zM494.0 240.3h.8v.8h-.8zM484.2 246.9h.8v.8h-.8zM497.0 239.8h.8v.8h-.8zM495.2 234.7h.8v.8h-.8zM494.6 234.4h.8v.8h-.8zM506.7 245.5h.8v.8h-.8zM494.9 228.5h.8v.8h-.8zM495.4 247.9h.8v.8h-.8zM496.1 242.7h.8v.8h-.8zM500.7 228.5h.8v.8h-.8zM487.7 229.3h.8v.8h-.8zM488.1 235.3h.8v.8h-.8zM492.9 243.7h.8v.8h-.8zM507.5 245.3h.8v.8h-.8zM488.6 245.8h.8v.8h-.8zM492.6 236.4h.8v.8h-.8zM486.1 252.3h.8v.8h-.8zM504.8 245.2h.8v.8h-.8zM508.7 239.9h.8v.8h-.8zM501.8 246.9h.8v.8h-.8zM484.5 252.9h.8v.8h-.8zM487.4 244.5h.8v.8h-.8zM508.9 253.4h.8v.8h-.8zM483.5 236.4h.8v.8h-.8zM487.8 249.3h.8v.8h-.8zM482.3 239.3h.8v.8h-.8zM496.7 244.3h.8v.8h-.8zM494.6 249.1h.8v.8h-.8zM486.0 242.1h.8v.8h-.8zM489.1 233.6h.8v.8h-.8zM487.3 236.2h.8v.8h-.8zM491.7 243.4h.8v.8h-.8zM487.2 247.1h.8v.8h-.8zM487.0 229.1h.8v.8h-.8zM487.1 243.6h.8v.8h-.8zM505.3 232.1h.8v.8h-.8zM490.5 245.9h.8v.8h-.8zM507.7 240.8h.8v.8h-.8zM488.3 239.4h.8v.8h-.8zM489.9 234.7h.8v.8h-.8zM499.2 234.8h.8v.8h-.8zM508.4 244.4h.8v.8h-.8zM483.9 251.7h.8v.8h-.8zM502.8 250.8h.8v.8h-.8zM491.2 235.5h.8v.8h-.8zM490.4 239.3h.8v.8h-.8zM507.6 234.3h.8v.8h-.8zM484.0 231.7h.8v.8h-.8zM487.0 233.1h.8v.8h-.8zM497.0 234.4h.8v.8h-.8zM506.3 239.7h.8v.8h-.8zM497.7 249.1h.8v.8h-.8zM481.2 250.0h.8v.8h-.8zM488.1 251.7h.8v.8h-.8zM496.9 245.8h.8v.8h-.8zM499.6 242.1h.8v.8h-.8zM499.1 237.0h.8v.8h-.8zM496.2 246.8h.8v.8h-.8zM500.9 247.8h.8v.8h-.8zM495.3 244.8h.8v.8h-.8zM501.4 243.4h.8v.8h-.8zM498.0 240.1h.8v.8h-.8zM500.0 244.8h.8v.8h-.8zM499.9 248.0h.8v.8h-.8zM499.4 238.2h.8v.8h-.8zM501.1 248.8h.8v.8h-.8zM499.3 240.4h.8v.8h-.8zM499.7 247.0h.8v.8h-.8zM503.5 249.1h.8v.8h-.8zM500.2 245.7h.8v.8h-.8z" fill-opacity="0.091"/>
<path d="M500.8 233.3h.8v.8h-.8zM480.8 236.0h.8v.8h-.8zM501.6 229.4h.8v.8h-.8zM503.9 252.5h.8v.8h-.8zM498.0 237.6h.8v.8h-.8zM503.2 241.1h.8v.8h-.8zM486.7 247.1h.8v.8h-.8zM505.2 232.5h.8v.8h-.8zM489.4 231.6h.8v.8h-.8zM502.6 248.0h.8v.8h-.8zM483.4 250.4h.8v.8h-.8zM501.0 239.9h.8v.8h-.8zM489.6 233.0h.8v.8h-.8zM497.8 250.9h.8v.8h-.8zM495.9 240.8h.8v.8h-.8zM498.9 250.6h.8v.8h-.8zM494.1 250.6h.8v.8h-.8zM503.7 231.9h.8v.8h-.8zM484.1 233.2h.8v.8h-.8zM490.4 239.8h.8v.8h-.8zM496.4 235.1h.8v.8h-.8zM491.4 250.5h.8v.8h-.8zM483.8 235.0h.8v.8h-.8zM507.2 250.4h.8v.8h-.8zM493.7 235.7h.8v.8h-.8zM498.4 247.8h.8v.8h-.8zM497.6 246.9h.8v.8h-.8zM501.6 238.8h.8v.8h-.8zM500.4 248.8h.8v.8h-.8zM501.6 242.8h.8v.8h-.8zM499.0 248.2h.8v.8h-.8zM499.5 245.9h.8v.8h-.8zM498.9 250.1h.8v.8h-.8zM497.2 245.9h.8v.8h-.8z" fill-opacity="0.143"/>
<path d="M499.6 242.0h.8v.8h-.8zM486.1 238.1h.8v.8h-.8zM506.8 235.3h.8v.8h-.8zM483.5 250.1h.8v.8h-.8zM488.5 235.6h.8v.8h-.8zM504.6 235.6h.8v.8h-.8zM482.9 234.5h.8v.8h-.8zM502.4 241.7h.8v.8h-.8zM502.1 247.5h.8v.8h-.8zM484.1 252.7h.8v.8h-.8zM489.9 252.0h.8v.8h-.8zM506.0 232.4h.8v.8h-.8zM503.8 248.4h.8v.8h-.8zM487.3 232.5h.8v.8h-.8zM498.3 245.8h.8v.8h-.8zM500.1 228.7h.8v.8h-.8zM499.3 242.5h.8v.8h-.8zM497.9 239.2h.8v.8h-.8zM489.8 252.3h.8v.8h-.8zM486.3 251.8h.8v.8h-.8zM491.2 233.7h.8v.8h-.8zM499.6 237.9h.8v.8h-.8zM498.6 244.3h.8v.8h-.8zM503.9 248.5h.8v.8h-.8zM503.6 252.1h.8v.8h-.8zM492.2 240.7h.8v.8h-.8zM481.7 251.1h.8v.8h-.8zM498.0 248.2h.8v.8h-.8zM504.4 239.0h.8v.8h-.8zM499.1 233.7h.8v.8h-.8zM495.6 240.7h.8v.8h-.8zM490.4 238.2h.8v.8h-.8zM499.2 243.5h.8v.8h-.8zM489.4 233.9h.8v.8h-.8zM508.7 249.0h.8v.8h-.8zM489.1 250.9h.8v.8h-.8zM493.0 239.3h.8v.8h-.8zM486.1 238.1h.8v.8h-.8zM498.1 247.7h.8v.8h-.8zM500.5 246.4h.8v.8h-.8zM499.1 248.1h.8v.8h-.8zM498.5 244.2h.8v.8h-.8zM500.6 249.6h.8v.8h-.8zM499.4 249.7h.8v.8h-.8zM498.3 238.6h.8v.8h-.8zM499.3 248.2h.8v.8h-.8zM500.6 245.4h.8v.8h-.8zM501.9 239.7h.8v.8h-.8zM499.0 250.6h.8v.8h-.8zM501.1 238.2h.8v.8h-.8zM499.6 246.0h.8v.8h-.8zM497.2 246.8h.8v.8h-.8zM502.9 241.3h.8v.8h-.8z" fill-opacity="0.221"/>
<ellipse cx="499.05" cy="241.50" rx="3.3" ry="10.0" fill="url(#rf)" fill-opacity="0.26"/>
<ellipse cx="499.35" cy="236.50" rx="1.2" ry="2.5" fill="url(#rg)" fill-opacity="0.42"/>
<ellipse cx="499.35" cy="245.50" rx="1.6" ry="4.0" fill="url(#rg)" fill-opacity="0.6"/>
</g></g>
<rect x="475.75" y="218.50" width="37.2" height="37.3" rx="0.8" fill="none" stroke="#000" stroke-width="1.25"/>
<text x="470.05" y="224.20" font-size="4.8" text-anchor="end" textLength="5.90" lengthAdjust="spacingAndGlyphs" stroke="#222" stroke-width="0.12">10</text>
<text x="470.25" y="221.90" font-size="3.0" textLength="1.50" lengthAdjust="spacingAndGlyphs">4</text>
<text x="470.05" y="234.10" font-size="4.8" text-anchor="end" textLength="5.90" lengthAdjust="spacingAndGlyphs" stroke="#222" stroke-width="0.12">10</text>
<text x="470.25" y="231.80" font-size="3.0" textLength="1.50" lengthAdjust="spacingAndGlyphs">3</text>
<text x="470.05" y="243.60" font-size="4.8" text-anchor="end" textLength="5.90" lengthAdjust="spacingAndGlyphs" stroke="#222" stroke-width="0.12">10</text>
<text x="470.25" y="241.30" font-size="3.0" textLength="1.50" lengthAdjust="spacingAndGlyphs">2</text>
<text transform="translate(471.55,247.20) rotate(-60)" font-size="4.6" text-anchor="middle" dy="1.6" fill="#222">0</text>
<text x="470.05" y="255.40" font-size="4.8" text-anchor="end" textLength="8.40" lengthAdjust="spacingAndGlyphs" stroke="#222" stroke-width="0.12">-10</text>
<text x="470.25" y="253.10" font-size="3.0" textLength="1.50" lengthAdjust="spacingAndGlyphs">2</text>
<text x="481.75" y="264.60" font-size="4.8" text-anchor="middle" textLength="2.75" lengthAdjust="spacingAndGlyphs" stroke="#222" stroke-width="0.12">0</text>
<text x="490.20" y="264.60" font-size="4.8" textLength="5.50" lengthAdjust="spacingAndGlyphs" stroke="#222" stroke-width="0.12">10</text>
<text x="496.00" y="262.30" font-size="3.0" textLength="1.50" lengthAdjust="spacingAndGlyphs">3</text>
<text x="500.30" y="264.60" font-size="4.8" textLength="5.50" lengthAdjust="spacingAndGlyphs" stroke="#222" stroke-width="0.12">10</text>
<text x="506.10" y="262.30" font-size="3.0" textLength="1.50" lengthAdjust="spacingAndGlyphs">4</text>
<path d="M311.7 290.74h1.6M311.7 289.07h1.6M311.7 287.88h1.6M311.7 286.96h1.6M311.7 286.21h1.6M311.7 285.57h1.6M311.7 285.02h1.6M311.7 284.53h1.6M311.7 281.24h1.6M311.7 279.57h1.6M311.7 278.38h1.6M311.7 277.46h1.6M311.7 276.71h1.6M311.7 276.07h1.6M311.7 275.52h1.6M311.7 275.03h1.6M311.7 271.74h1.6M311.7 294.90h1.6M311.7 296.20h1.6M311.7 297.50h1.6M311.7 298.80h1.6M311.7 300.10h1.6M311.7 301.40h1.6M311.7 302.70h1.6M311.7 304.00h1.6M324.34 308.0v1.6M334.44 308.0v1.6M326.12 308.0v1.6M336.22 308.0v1.6M327.38 308.0v1.6M337.48 308.0v1.6M328.36 308.0v1.6M338.46 308.0v1.6M329.16 308.0v1.6M339.26 308.0v1.6M329.84 308.0v1.6M339.94 308.0v1.6M330.42 308.0v1.6M340.52 308.0v1.6M330.94 308.0v1.6M341.04 308.0v1.6M344.54 308.0v1.6M346.32 308.0v1.6M347.58 308.0v1.6M348.56 308.0v1.6M317.90 308.0v1.6M316.50 308.0v1.6M315.10 308.0v1.6" stroke="#111" stroke-width="0.75" fill="none"/>
<path d="M310.7 293.60h2.6M310.7 284.10h2.6M310.7 274.60h2.6M310.7 299.40h2.6M310.7 305.90h2.6M319.30 308.0v2.6M331.40 308.0v2.6M341.50 308.0v2.6" stroke="#111" stroke-width="0.95" fill="none"/>
<clipPath id="c17"><rect x="313.80" y="271.20" width="36.20" height="36.30"/></clipPath>
<g clip-path="url(#c17)"><g filter="url(#dens)">
<path d="M337.4 284.3h.8v.8h-.8zM344.3 293.3h.8v.8h-.8zM335.8 283.6h.8v.8h-.8zM332.6 293.7h.8v.8h-.8zM341.1 305.3h.8v.8h-.8zM321.5 303.6h.8v.8h-.8zM336.9 294.4h.8v.8h-.8zM335.7 297.8h.8v.8h-.8zM320.7 301.3h.8v.8h-.8zM337.3 303.7h.8v.8h-.8zM337.2 285.9h.8v.8h-.8zM336.8 299.9h.8v.8h-.8zM345.7 288.6h.8v.8h-.8zM344.3 290.6h.8v.8h-.8zM323.7 289.2h.8v.8h-.8zM339.3 296.3h.8v.8h-.8zM323.9 286.2h.8v.8h-.8zM332.3 293.4h.8v.8h-.8zM336.0 282.8h.8v.8h-.8zM325.9 288.4h.8v.8h-.8zM330.7 305.5h.8v.8h-.8zM344.0 287.9h.8v.8h-.8zM341.6 294.6h.8v.8h-.8zM320.6 305.5h.8v.8h-.8zM337.7 304.7h.8v.8h-.8zM330.1 304.5h.8v.8h-.8zM324.6 292.4h.8v.8h-.8zM324.0 292.6h.8v.8h-.8zM340.5 302.6h.8v.8h-.8zM318.8 305.5h.8v.8h-.8zM339.1 297.1h.8v.8h-.8zM325.5 303.2h.8v.8h-.8zM321.4 296.1h.8v.8h-.8zM335.2 291.9h.8v.8h-.8zM328.1 290.3h.8v.8h-.8zM334.2 298.8h.8v.8h-.8zM330.5 305.3h.8v.8h-.8zM322.1 296.2h.8v.8h-.8zM336.4 292.0h.8v.8h-.8zM344.7 297.7h.8v.8h-.8zM343.1 283.2h.8v.8h-.8zM336.5 291.8h.8v.8h-.8zM335.5 283.4h.8v.8h-.8zM337.1 290.5h.8v.8h-.8zM325.4 288.5h.8v.8h-.8zM332.5 296.4h.8v.8h-.8zM329.9 292.4h.8v.8h-.8zM325.7 303.7h.8v.8h-.8zM340.5 290.7h.8v.8h-.8zM339.4 292.1h.8v.8h-.8zM323.7 300.5h.8v.8h-.8zM332.1 288.8h.8v.8h-.8zM343.7 288.1h.8v.8h-.8zM339.3 293.6h.8v.8h-.8zM333.4 298.4h.8v.8h-.8zM336.9 294.6h.8v.8h-.8zM332.8 294.3h.8v.8h-.8zM343.7 295.9h.8v.8h-.8zM341.3 297.4h.8v.8h-.8zM340.4 289.9h.8v.8h-.8zM339.7 291.5h.8v.8h-.8zM336.9 291.7h.8v.8h-.8zM334.9 291.0h.8v.8h-.8zM328.4 291.4h.8v.8h-.8zM337.4 298.7h.8v.8h-.8zM338.3 298.8h.8v.8h-.8zM330.8 296.9h.8v.8h-.8zM327.8 292.5h.8v.8h-.8z" fill-opacity="0.091"/>
<path d="M323.8 301.3h.8v.8h-.8zM325.6 283.4h.8v.8h-.8zM341.4 298.9h.8v.8h-.8zM336.5 286.6h.8v.8h-.8zM325.0 299.0h.8v.8h-.8zM324.4 300.2h.8v.8h-.8zM329.3 286.9h.8v.8h-.8zM344.0 300.3h.8v.8h-.8zM328.1 284.6h.8v.8h-.8zM330.0 303.9h.8v.8h-.8zM332.8 295.1h.8v.8h-.8zM328.3 286.2h.8v.8h-.8zM346.0 297.4h.8v.8h-.8zM332.6 292.6h.8v.8h-.8zM343.0 304.5h.8v.8h-.8zM340.3 290.6h.8v.8h-.8zM331.0 302.4h.8v.8h-.8zM326.8 294.9h.8v.8h-.8zM339.5 301.6h.8v.8h-.8zM344.1 297.7h.8v.8h-.8zM327.2 296.3h.8v.8h-.8zM319.7 289.0h.8v.8h-.8zM346.7 301.0h.8v.8h-.8zM339.6 291.9h.8v.8h-.8zM340.0 299.1h.8v.8h-.8zM340.6 288.4h.8v.8h-.8zM318.5 294.6h.8v.8h-.8zM327.6 298.7h.8v.8h-.8zM323.8 302.5h.8v.8h-.8zM324.9 290.0h.8v.8h-.8zM336.9 300.2h.8v.8h-.8zM339.1 294.2h.8v.8h-.8zM327.8 295.9h.8v.8h-.8zM343.1 299.8h.8v.8h-.8zM340.5 293.5h.8v.8h-.8zM332.3 290.9h.8v.8h-.8zM337.0 290.9h.8v.8h-.8zM334.6 296.6h.8v.8h-.8zM343.3 298.7h.8v.8h-.8z" fill-opacity="0.143"/>
<path d="M343.4 294.4h.8v.8h-.8zM320.1 303.2h.8v.8h-.8zM323.6 292.3h.8v.8h-.8zM338.8 295.2h.8v.8h-.8zM334.0 301.1h.8v.8h-.8zM328.0 297.9h.8v.8h-.8zM325.7 297.8h.8v.8h-.8zM334.7 285.6h.8v.8h-.8zM337.4 303.9h.8v.8h-.8zM334.0 297.6h.8v.8h-.8zM332.2 290.0h.8v.8h-.8zM321.6 293.1h.8v.8h-.8zM331.2 301.6h.8v.8h-.8zM322.1 300.7h.8v.8h-.8zM325.6 295.3h.8v.8h-.8zM339.8 293.4h.8v.8h-.8zM322.0 302.1h.8v.8h-.8zM339.4 284.1h.8v.8h-.8zM343.8 303.0h.8v.8h-.8zM346.9 288.8h.8v.8h-.8zM330.4 286.8h.8v.8h-.8zM329.0 289.4h.8v.8h-.8zM330.1 291.6h.8v.8h-.8zM337.5 285.5h.8v.8h-.8zM321.9 297.6h.8v.8h-.8zM327.8 282.9h.8v.8h-.8zM340.3 293.0h.8v.8h-.8zM340.9 293.7h.8v.8h-.8zM338.4 286.6h.8v.8h-.8zM332.1 293.5h.8v.8h-.8zM334.0 293.1h.8v.8h-.8zM332.5 292.9h.8v.8h-.8zM329.1 297.1h.8v.8h-.8zM343.2 286.6h.8v.8h-.8zM333.2 301.4h.8v.8h-.8zM340.8 299.4h.8v.8h-.8zM333.3 297.8h.8v.8h-.8zM334.1 291.9h.8v.8h-.8zM332.8 300.2h.8v.8h-.8zM333.8 300.7h.8v.8h-.8zM341.2 292.7h.8v.8h-.8zM331.7 294.5h.8v.8h-.8zM336.2 302.2h.8v.8h-.8z" fill-opacity="0.221"/>
<ellipse cx="336.50" cy="295.85" rx="4.2" ry="10.0" fill="url(#rf)" fill-opacity="0.26"/>
<ellipse cx="336.80" cy="292.50" rx="2.2" ry="3.3" fill="url(#rg)" fill-opacity="0.8"/>
<ellipse cx="336.80" cy="298.20" rx="2.4" ry="5.0" fill="url(#rg)" fill-opacity="0.62"/>
</g></g>
<rect x="313.30" y="270.70" width="37.2" height="37.3" rx="0.8" fill="none" stroke="#000" stroke-width="1.25"/>
<text x="307.60" y="276.40" font-size="4.8" text-anchor="end" textLength="5.90" lengthAdjust="spacingAndGlyphs" stroke="#222" stroke-width="0.12">10</text>
<text x="307.80" y="274.10" font-size="3.0" textLength="1.50" lengthAdjust="spacingAndGlyphs">4</text>
<text x="307.60" y="286.30" font-size="4.8" text-anchor="end" textLength="5.90" lengthAdjust="spacingAndGlyphs" stroke="#222" stroke-width="0.12">10</text>
<text x="307.80" y="284.00" font-size="3.0" textLength="1.50" lengthAdjust="spacingAndGlyphs">3</text>
<text x="307.60" y="295.80" font-size="4.8" text-anchor="end" textLength="5.90" lengthAdjust="spacingAndGlyphs" stroke="#222" stroke-width="0.12">10</text>
<text x="307.80" y="293.50" font-size="3.0" textLength="1.50" lengthAdjust="spacingAndGlyphs">2</text>
<text transform="translate(309.10,299.40) rotate(-60)" font-size="4.6" text-anchor="middle" dy="1.6" fill="#222">0</text>
<text x="307.60" y="307.60" font-size="4.8" text-anchor="end" textLength="8.40" lengthAdjust="spacingAndGlyphs" stroke="#222" stroke-width="0.12">-10</text>
<text x="307.80" y="305.30" font-size="3.0" textLength="1.50" lengthAdjust="spacingAndGlyphs">2</text>
<text x="319.30" y="316.80" font-size="4.8" text-anchor="middle" textLength="2.75" lengthAdjust="spacingAndGlyphs" stroke="#222" stroke-width="0.12">0</text>
<text x="327.75" y="316.80" font-size="4.8" textLength="5.50" lengthAdjust="spacingAndGlyphs" stroke="#222" stroke-width="0.12">10</text>
<text x="333.55" y="314.50" font-size="3.0" textLength="1.50" lengthAdjust="spacingAndGlyphs">3</text>
<text x="337.85" y="316.80" font-size="4.8" textLength="5.50" lengthAdjust="spacingAndGlyphs" stroke="#222" stroke-width="0.12">10</text>
<text x="343.65" y="314.50" font-size="3.0" textLength="1.50" lengthAdjust="spacingAndGlyphs">4</text>
<path d="M365.8 290.74h1.6M365.8 289.07h1.6M365.8 287.88h1.6M365.8 286.96h1.6M365.8 286.21h1.6M365.8 285.57h1.6M365.8 285.02h1.6M365.8 284.53h1.6M365.8 281.24h1.6M365.8 279.57h1.6M365.8 278.38h1.6M365.8 277.46h1.6M365.8 276.71h1.6M365.8 276.07h1.6M365.8 275.52h1.6M365.8 275.03h1.6M365.8 271.74h1.6M365.8 294.90h1.6M365.8 296.20h1.6M365.8 297.50h1.6M365.8 298.80h1.6M365.8 300.10h1.6M365.8 301.40h1.6M365.8 302.70h1.6M365.8 304.00h1.6M378.49 308.0v1.6M388.59 308.0v1.6M380.27 308.0v1.6M390.37 308.0v1.6M381.53 308.0v1.6M391.63 308.0v1.6M382.51 308.0v1.6M392.61 308.0v1.6M383.31 308.0v1.6M393.41 308.0v1.6M383.99 308.0v1.6M394.09 308.0v1.6M384.57 308.0v1.6M394.67 308.0v1.6M385.09 308.0v1.6M395.19 308.0v1.6M398.69 308.0v1.6M400.47 308.0v1.6M401.73 308.0v1.6M402.71 308.0v1.6M372.05 308.0v1.6M370.65 308.0v1.6M369.25 308.0v1.6" stroke="#111" stroke-width="0.75" fill="none"/>
<path d="M364.8 293.60h2.6M364.8 284.10h2.6M364.8 274.60h2.6M364.8 299.40h2.6M364.8 305.90h2.6M373.45 308.0v2.6M385.55 308.0v2.6M395.65 308.0v2.6" stroke="#111" stroke-width="0.95" fill="none"/>
<clipPath id="c18"><rect x="367.95" y="271.20" width="36.20" height="36.30"/></clipPath>
<g clip-path="url(#c18)"><g filter="url(#dens)">
<rect x="372.95" y="283.20" width="20.70" height="8.90" rx="2" fill-opacity="0.21" filter="url(#soft)"/>
<rect x="372.95" y="290.70" width="18.50" height="11.00" rx="5" fill-opacity="0.1" filter="url(#soft)"/>
<path d="M400.4 293.4h.8v.8h-.8zM399.6 290.4h.8v.8h-.8zM382.5 302.1h.8v.8h-.8zM371.7 299.4h.8v.8h-.8zM392.4 290.6h.8v.8h-.8zM381.2 302.7h.8v.8h-.8zM397.0 294.4h.8v.8h-.8zM372.2 287.7h.8v.8h-.8zM388.0 299.9h.8v.8h-.8zM388.5 305.5h.8v.8h-.8zM373.4 288.3h.8v.8h-.8zM387.4 291.4h.8v.8h-.8zM388.5 282.2h.8v.8h-.8zM383.7 302.0h.8v.8h-.8zM399.7 282.9h.8v.8h-.8zM389.2 294.5h.8v.8h-.8zM377.9 284.2h.8v.8h-.8zM384.7 304.5h.8v.8h-.8zM395.0 301.3h.8v.8h-.8zM371.8 294.0h.8v.8h-.8zM400.6 283.1h.8v.8h-.8zM393.2 284.4h.8v.8h-.8zM387.2 283.1h.8v.8h-.8zM379.3 300.0h.8v.8h-.8zM399.4 300.1h.8v.8h-.8zM373.1 291.1h.8v.8h-.8zM385.1 286.2h.8v.8h-.8zM398.7 285.2h.8v.8h-.8zM399.8 283.7h.8v.8h-.8zM379.6 299.5h.8v.8h-.8zM375.2 291.6h.8v.8h-.8zM371.9 294.3h.8v.8h-.8zM392.1 292.4h.8v.8h-.8zM400.4 290.6h.8v.8h-.8zM388.6 294.6h.8v.8h-.8zM385.4 287.0h.8v.8h-.8zM393.0 287.4h.8v.8h-.8zM398.8 287.3h.8v.8h-.8zM395.4 285.4h.8v.8h-.8zM384.8 283.6h.8v.8h-.8zM380.3 285.2h.8v.8h-.8zM373.4 289.7h.8v.8h-.8zM375.8 282.1h.8v.8h-.8zM371.9 282.3h.8v.8h-.8zM397.4 290.1h.8v.8h-.8zM385.7 284.0h.8v.8h-.8zM391.1 301.7h.8v.8h-.8zM382.1 286.1h.8v.8h-.8zM397.8 297.2h.8v.8h-.8zM393.6 297.0h.8v.8h-.8zM384.3 302.2h.8v.8h-.8zM399.1 305.2h.8v.8h-.8zM374.9 286.1h.8v.8h-.8zM389.2 304.9h.8v.8h-.8zM383.4 305.3h.8v.8h-.8zM398.5 283.8h.8v.8h-.8zM377.9 291.0h.8v.8h-.8zM389.7 295.8h.8v.8h-.8zM394.4 288.0h.8v.8h-.8zM371.9 284.4h.8v.8h-.8zM373.0 295.7h.8v.8h-.8zM387.5 304.7h.8v.8h-.8zM388.2 284.4h.8v.8h-.8zM398.0 281.3h.8v.8h-.8zM372.6 282.8h.8v.8h-.8zM383.0 286.3h.8v.8h-.8zM386.9 285.0h.8v.8h-.8zM396.1 293.2h.8v.8h-.8zM380.3 294.4h.8v.8h-.8zM375.3 281.6h.8v.8h-.8zM391.7 284.0h.8v.8h-.8zM381.1 305.0h.8v.8h-.8zM376.4 286.7h.8v.8h-.8zM376.7 304.4h.8v.8h-.8zM371.8 300.6h.8v.8h-.8zM388.5 301.8h.8v.8h-.8z" fill-opacity="0.091"/>
<path d="M382.9 293.1h.8v.8h-.8zM374.6 288.8h.8v.8h-.8zM373.6 286.7h.8v.8h-.8zM375.7 289.9h.8v.8h-.8zM394.5 287.5h.8v.8h-.8zM373.0 285.2h.8v.8h-.8zM395.0 303.4h.8v.8h-.8zM376.2 301.5h.8v.8h-.8zM396.2 288.5h.8v.8h-.8zM376.5 303.8h.8v.8h-.8zM389.0 302.8h.8v.8h-.8zM378.0 282.6h.8v.8h-.8zM376.8 291.1h.8v.8h-.8zM395.8 296.3h.8v.8h-.8zM374.6 302.2h.8v.8h-.8zM394.2 293.4h.8v.8h-.8zM391.0 281.4h.8v.8h-.8zM385.0 295.5h.8v.8h-.8zM372.5 287.5h.8v.8h-.8zM384.9 290.9h.8v.8h-.8zM383.2 297.8h.8v.8h-.8zM400.1 281.3h.8v.8h-.8zM400.1 300.0h.8v.8h-.8zM401.1 285.0h.8v.8h-.8zM387.6 303.7h.8v.8h-.8zM400.7 285.2h.8v.8h-.8zM390.6 289.4h.8v.8h-.8zM374.4 280.7h.8v.8h-.8zM388.9 286.4h.8v.8h-.8zM374.3 304.2h.8v.8h-.8zM380.5 296.8h.8v.8h-.8zM393.2 289.8h.8v.8h-.8zM400.7 292.3h.8v.8h-.8z" fill-opacity="0.143"/>
<path d="M398.4 295.5h.8v.8h-.8zM374.9 281.7h.8v.8h-.8zM392.9 282.3h.8v.8h-.8zM398.4 297.9h.8v.8h-.8zM389.5 296.2h.8v.8h-.8zM393.5 282.5h.8v.8h-.8zM381.2 305.4h.8v.8h-.8zM383.2 292.8h.8v.8h-.8zM383.3 284.5h.8v.8h-.8zM384.2 300.6h.8v.8h-.8zM394.5 293.0h.8v.8h-.8zM389.0 285.8h.8v.8h-.8zM384.1 297.1h.8v.8h-.8zM395.9 281.7h.8v.8h-.8zM389.8 296.4h.8v.8h-.8zM393.3 281.1h.8v.8h-.8zM384.7 291.2h.8v.8h-.8zM378.0 288.7h.8v.8h-.8zM385.5 297.8h.8v.8h-.8zM392.1 288.9h.8v.8h-.8zM390.4 282.7h.8v.8h-.8zM401.1 297.6h.8v.8h-.8zM376.0 304.6h.8v.8h-.8zM376.1 282.9h.8v.8h-.8zM399.3 292.2h.8v.8h-.8zM399.7 302.0h.8v.8h-.8zM372.5 303.7h.8v.8h-.8zM388.1 287.7h.8v.8h-.8zM395.7 285.5h.8v.8h-.8zM391.7 288.4h.8v.8h-.8zM381.8 302.2h.8v.8h-.8zM391.1 283.8h.8v.8h-.8zM375.6 289.4h.8v.8h-.8zM376.2 290.1h.8v.8h-.8zM383.2 293.2h.8v.8h-.8zM390.6 292.7h.8v.8h-.8zM398.4 296.5h.8v.8h-.8zM392.6 294.6h.8v.8h-.8zM372.8 296.2h.8v.8h-.8zM374.4 282.3h.8v.8h-.8zM382.8 282.2h.8v.8h-.8z" fill-opacity="0.221"/>
<ellipse cx="377.15" cy="288.20" rx="2.8" ry="3.2" fill="url(#rg)" fill-opacity="0.26"/>
<ellipse cx="381.35" cy="288.20" rx="1.5" ry="3" fill="url(#rg)" fill-opacity="0.21"/>
<ellipse cx="384.85" cy="288.20" rx="1.4" ry="3" fill="url(#rg)" fill-opacity="0.19"/>
<ellipse cx="388.35" cy="288.20" rx="1.4" ry="3" fill="url(#rg)" fill-opacity="0.19"/>
<ellipse cx="391.25" cy="293.70" rx="2.6" ry="11" fill="url(#rf)" fill-opacity="0.3"/>
<ellipse cx="391.25" cy="288.20" rx="1.7" ry="3.8" fill="url(#rg)" fill-opacity="0.88"/>
<ellipse cx="391.25" cy="297.80" rx="1.8" ry="4.8" fill="url(#rg)" fill-opacity="0.78"/>
</g></g>
<rect x="367.45" y="270.70" width="37.2" height="37.3" rx="0.8" fill="none" stroke="#000" stroke-width="1.25"/>
<text x="361.75" y="276.40" font-size="4.8" text-anchor="end" textLength="5.90" lengthAdjust="spacingAndGlyphs" stroke="#222" stroke-width="0.12">10</text>
<text x="361.95" y="274.10" font-size="3.0" textLength="1.50" lengthAdjust="spacingAndGlyphs">4</text>
<text x="361.75" y="286.30" font-size="4.8" text-anchor="end" textLength="5.90" lengthAdjust="spacingAndGlyphs" stroke="#222" stroke-width="0.12">10</text>
<text x="361.95" y="284.00" font-size="3.0" textLength="1.50" lengthAdjust="spacingAndGlyphs">3</text>
<text x="361.75" y="295.80" font-size="4.8" text-anchor="end" textLength="5.90" lengthAdjust="spacingAndGlyphs" stroke="#222" stroke-width="0.12">10</text>
<text x="361.95" y="293.50" font-size="3.0" textLength="1.50" lengthAdjust="spacingAndGlyphs">2</text>
<text transform="translate(363.25,299.40) rotate(-60)" font-size="4.6" text-anchor="middle" dy="1.6" fill="#222">0</text>
<text x="361.75" y="307.60" font-size="4.8" text-anchor="end" textLength="8.40" lengthAdjust="spacingAndGlyphs" stroke="#222" stroke-width="0.12">-10</text>
<text x="361.95" y="305.30" font-size="3.0" textLength="1.50" lengthAdjust="spacingAndGlyphs">2</text>
<text x="373.45" y="316.80" font-size="4.8" text-anchor="middle" textLength="2.75" lengthAdjust="spacingAndGlyphs" stroke="#222" stroke-width="0.12">0</text>
<text x="381.90" y="316.80" font-size="4.8" textLength="5.50" lengthAdjust="spacingAndGlyphs" stroke="#222" stroke-width="0.12">10</text>
<text x="387.70" y="314.50" font-size="3.0" textLength="1.50" lengthAdjust="spacingAndGlyphs">3</text>
<text x="392.00" y="316.80" font-size="4.8" textLength="5.50" lengthAdjust="spacingAndGlyphs" stroke="#222" stroke-width="0.12">10</text>
<text x="397.80" y="314.50" font-size="3.0" textLength="1.50" lengthAdjust="spacingAndGlyphs">4</text>
<path d="M420.0 290.74h1.6M420.0 289.07h1.6M420.0 287.88h1.6M420.0 286.96h1.6M420.0 286.21h1.6M420.0 285.57h1.6M420.0 285.02h1.6M420.0 284.53h1.6M420.0 281.24h1.6M420.0 279.57h1.6M420.0 278.38h1.6M420.0 277.46h1.6M420.0 276.71h1.6M420.0 276.07h1.6M420.0 275.52h1.6M420.0 275.03h1.6M420.0 271.74h1.6M420.0 294.90h1.6M420.0 296.20h1.6M420.0 297.50h1.6M420.0 298.80h1.6M420.0 300.10h1.6M420.0 301.40h1.6M420.0 302.70h1.6M420.0 304.00h1.6M432.64 308.0v1.6M442.74 308.0v1.6M434.42 308.0v1.6M444.52 308.0v1.6M435.68 308.0v1.6M445.78 308.0v1.6M436.66 308.0v1.6M446.76 308.0v1.6M437.46 308.0v1.6M447.56 308.0v1.6M438.14 308.0v1.6M448.24 308.0v1.6M438.72 308.0v1.6M448.82 308.0v1.6M439.24 308.0v1.6M449.34 308.0v1.6M452.84 308.0v1.6M454.62 308.0v1.6M455.88 308.0v1.6M456.86 308.0v1.6M426.20 308.0v1.6M424.80 308.0v1.6M423.40 308.0v1.6" stroke="#111" stroke-width="0.75" fill="none"/>
<path d="M419.0 293.60h2.6M419.0 284.10h2.6M419.0 274.60h2.6M419.0 299.40h2.6M419.0 305.90h2.6M427.60 308.0v2.6M439.70 308.0v2.6M449.80 308.0v2.6" stroke="#111" stroke-width="0.95" fill="none"/>
<clipPath id="c19"><rect x="422.10" y="271.20" width="36.20" height="36.30"/></clipPath>
<g clip-path="url(#c19)"><g filter="url(#dens)">
<rect x="427.60" y="284.20" width="20.00" height="9.50" rx="2" fill-opacity="0.21" filter="url(#soft)"/>
<rect x="427.60" y="291.70" width="18.00" height="10.00" rx="5" fill-opacity="0.1" filter="url(#soft)"/>
<path d="M454.6 304.3h.8v.8h-.8zM439.9 292.1h.8v.8h-.8zM427.2 299.9h.8v.8h-.8zM442.5 288.6h.8v.8h-.8zM446.6 297.4h.8v.8h-.8zM439.9 288.6h.8v.8h-.8zM453.7 290.3h.8v.8h-.8zM442.7 294.3h.8v.8h-.8zM439.5 297.7h.8v.8h-.8zM444.9 281.8h.8v.8h-.8zM427.4 285.6h.8v.8h-.8zM430.0 285.3h.8v.8h-.8zM451.0 283.3h.8v.8h-.8zM441.3 291.1h.8v.8h-.8zM446.7 304.8h.8v.8h-.8zM439.1 294.4h.8v.8h-.8zM437.9 294.2h.8v.8h-.8zM442.8 305.5h.8v.8h-.8zM435.1 289.3h.8v.8h-.8zM447.4 305.0h.8v.8h-.8zM431.7 287.3h.8v.8h-.8zM443.0 282.5h.8v.8h-.8zM449.8 303.4h.8v.8h-.8zM434.3 296.7h.8v.8h-.8zM433.4 296.6h.8v.8h-.8zM437.6 283.3h.8v.8h-.8zM434.1 289.5h.8v.8h-.8zM444.2 295.5h.8v.8h-.8zM436.6 288.1h.8v.8h-.8zM435.4 293.8h.8v.8h-.8zM444.0 285.0h.8v.8h-.8zM431.3 281.9h.8v.8h-.8zM429.0 286.0h.8v.8h-.8zM439.1 298.4h.8v.8h-.8zM435.2 293.7h.8v.8h-.8zM428.8 287.4h.8v.8h-.8zM440.0 292.5h.8v.8h-.8zM441.6 282.5h.8v.8h-.8zM448.5 302.8h.8v.8h-.8zM447.2 295.7h.8v.8h-.8zM442.7 296.3h.8v.8h-.8zM440.4 294.1h.8v.8h-.8zM442.3 304.3h.8v.8h-.8zM450.8 297.1h.8v.8h-.8zM437.5 299.4h.8v.8h-.8zM447.0 299.8h.8v.8h-.8zM441.7 288.6h.8v.8h-.8zM432.7 299.0h.8v.8h-.8zM440.2 288.2h.8v.8h-.8zM437.0 292.2h.8v.8h-.8zM431.9 305.1h.8v.8h-.8zM429.2 285.0h.8v.8h-.8zM449.8 296.9h.8v.8h-.8zM450.8 301.3h.8v.8h-.8zM430.5 296.6h.8v.8h-.8zM431.1 283.4h.8v.8h-.8zM449.0 283.8h.8v.8h-.8zM439.8 280.7h.8v.8h-.8zM439.4 297.0h.8v.8h-.8zM436.5 288.9h.8v.8h-.8zM439.1 292.3h.8v.8h-.8zM443.7 288.5h.8v.8h-.8zM451.9 289.9h.8v.8h-.8zM455.2 286.3h.8v.8h-.8zM434.5 289.9h.8v.8h-.8zM432.0 304.0h.8v.8h-.8zM448.2 281.1h.8v.8h-.8zM455.2 288.0h.8v.8h-.8zM432.2 282.4h.8v.8h-.8zM430.0 287.6h.8v.8h-.8z" fill-opacity="0.091"/>
<path d="M425.8 287.9h.8v.8h-.8zM454.0 297.1h.8v.8h-.8zM440.7 283.7h.8v.8h-.8zM449.3 289.7h.8v.8h-.8zM437.7 295.5h.8v.8h-.8zM447.5 284.7h.8v.8h-.8zM450.4 298.7h.8v.8h-.8zM446.9 299.9h.8v.8h-.8zM431.9 299.0h.8v.8h-.8zM454.6 280.8h.8v.8h-.8zM431.7 303.7h.8v.8h-.8zM453.3 301.6h.8v.8h-.8zM429.3 299.3h.8v.8h-.8zM444.3 298.1h.8v.8h-.8zM430.0 301.8h.8v.8h-.8zM449.8 282.3h.8v.8h-.8zM425.7 304.1h.8v.8h-.8zM426.1 281.0h.8v.8h-.8zM447.7 283.0h.8v.8h-.8zM425.8 302.5h.8v.8h-.8zM431.2 304.4h.8v.8h-.8zM439.6 286.0h.8v.8h-.8zM450.0 288.2h.8v.8h-.8zM454.2 291.4h.8v.8h-.8zM444.7 292.5h.8v.8h-.8zM446.5 286.2h.8v.8h-.8zM447.7 293.5h.8v.8h-.8zM450.9 295.8h.8v.8h-.8zM445.8 298.0h.8v.8h-.8zM442.5 305.5h.8v.8h-.8zM438.7 290.2h.8v.8h-.8zM439.3 282.1h.8v.8h-.8zM455.3 290.2h.8v.8h-.8z" fill-opacity="0.143"/>
<path d="M443.4 298.0h.8v.8h-.8zM438.7 303.2h.8v.8h-.8zM432.1 294.4h.8v.8h-.8zM453.1 292.5h.8v.8h-.8zM436.0 283.9h.8v.8h-.8zM429.4 286.0h.8v.8h-.8zM428.1 282.7h.8v.8h-.8zM433.0 286.3h.8v.8h-.8zM454.1 296.4h.8v.8h-.8zM439.0 297.7h.8v.8h-.8zM445.4 305.5h.8v.8h-.8zM431.9 304.6h.8v.8h-.8zM446.3 282.8h.8v.8h-.8zM432.0 290.6h.8v.8h-.8zM435.8 304.8h.8v.8h-.8zM444.5 281.1h.8v.8h-.8zM442.4 284.7h.8v.8h-.8zM442.0 284.7h.8v.8h-.8zM435.2 289.3h.8v.8h-.8zM439.1 285.3h.8v.8h-.8zM453.8 288.2h.8v.8h-.8zM431.1 291.7h.8v.8h-.8zM434.8 300.1h.8v.8h-.8zM426.3 287.4h.8v.8h-.8zM438.9 300.7h.8v.8h-.8zM448.4 296.6h.8v.8h-.8zM438.2 293.1h.8v.8h-.8zM443.8 287.8h.8v.8h-.8zM434.8 282.5h.8v.8h-.8zM443.5 299.1h.8v.8h-.8zM439.1 289.2h.8v.8h-.8zM449.4 283.3h.8v.8h-.8zM441.8 296.5h.8v.8h-.8zM430.6 292.6h.8v.8h-.8zM444.8 297.0h.8v.8h-.8zM449.5 302.9h.8v.8h-.8zM427.3 293.2h.8v.8h-.8zM447.9 302.6h.8v.8h-.8zM430.1 300.4h.8v.8h-.8zM426.2 303.8h.8v.8h-.8zM450.2 300.3h.8v.8h-.8zM447.4 282.0h.8v.8h-.8zM440.8 289.0h.8v.8h-.8zM430.7 290.0h.8v.8h-.8zM427.2 302.1h.8v.8h-.8zM438.1 281.5h.8v.8h-.8zM454.3 305.1h.8v.8h-.8z" fill-opacity="0.221"/>
<ellipse cx="431.50" cy="289.40" rx="2.8" ry="3.2" fill="url(#rg)" fill-opacity="0.26"/>
<ellipse cx="435.80" cy="289.40" rx="1.5" ry="3" fill="url(#rg)" fill-opacity="0.21"/>
<ellipse cx="438.80" cy="289.40" rx="1.4" ry="3" fill="url(#rg)" fill-opacity="0.19"/>
<ellipse cx="442.30" cy="289.40" rx="1.4" ry="3" fill="url(#rg)" fill-opacity="0.19"/>
<ellipse cx="445.40" cy="294.20" rx="2.6" ry="10.5" fill="url(#rf)" fill-opacity="0.3"/>
<ellipse cx="445.40" cy="289.40" rx="1.7" ry="3.8" fill="url(#rg)" fill-opacity="0.88"/>
<ellipse cx="445.40" cy="297.80" rx="1.8" ry="4.8" fill="url(#rg)" fill-opacity="0.8"/>
</g></g>
<rect x="421.60" y="270.70" width="37.2" height="37.3" rx="0.8" fill="none" stroke="#000" stroke-width="1.25"/>
<text x="415.90" y="276.40" font-size="4.8" text-anchor="end" textLength="5.90" lengthAdjust="spacingAndGlyphs" stroke="#222" stroke-width="0.12">10</text>
<text x="416.10" y="274.10" font-size="3.0" textLength="1.50" lengthAdjust="spacingAndGlyphs">4</text>
<text x="415.90" y="286.30" font-size="4.8" text-anchor="end" textLength="5.90" lengthAdjust="spacingAndGlyphs" stroke="#222" stroke-width="0.12">10</text>
<text x="416.10" y="284.00" font-size="3.0" textLength="1.50" lengthAdjust="spacingAndGlyphs">3</text>
<text x="415.90" y="295.80" font-size="4.8" text-anchor="end" textLength="5.90" lengthAdjust="spacingAndGlyphs" stroke="#222" stroke-width="0.12">10</text>
<text x="416.10" y="293.50" font-size="3.0" textLength="1.50" lengthAdjust="spacingAndGlyphs">2</text>
<text transform="translate(417.40,299.40) rotate(-60)" font-size="4.6" text-anchor="middle" dy="1.6" fill="#222">0</text>
<text x="415.90" y="307.60" font-size="4.8" text-anchor="end" textLength="8.40" lengthAdjust="spacingAndGlyphs" stroke="#222" stroke-width="0.12">-10</text>
<text x="416.10" y="305.30" font-size="3.0" textLength="1.50" lengthAdjust="spacingAndGlyphs">2</text>
<text x="427.60" y="316.80" font-size="4.8" text-anchor="middle" textLength="2.75" lengthAdjust="spacingAndGlyphs" stroke="#222" stroke-width="0.12">0</text>
<text x="436.05" y="316.80" font-size="4.8" textLength="5.50" lengthAdjust="spacingAndGlyphs" stroke="#222" stroke-width="0.12">10</text>
<text x="441.85" y="314.50" font-size="3.0" textLength="1.50" lengthAdjust="spacingAndGlyphs">3</text>
<text x="446.15" y="316.80" font-size="4.8" textLength="5.50" lengthAdjust="spacingAndGlyphs" stroke="#222" stroke-width="0.12">10</text>
<text x="451.95" y="314.50" font-size="3.0" textLength="1.50" lengthAdjust="spacingAndGlyphs">4</text>
<path d="M474.1 290.74h1.6M474.1 289.07h1.6M474.1 287.88h1.6M474.1 286.96h1.6M474.1 286.21h1.6M474.1 285.57h1.6M474.1 285.02h1.6M474.1 284.53h1.6M474.1 281.24h1.6M474.1 279.57h1.6M474.1 278.38h1.6M474.1 277.46h1.6M474.1 276.71h1.6M474.1 276.07h1.6M474.1 275.52h1.6M474.1 275.03h1.6M474.1 271.74h1.6M474.1 294.90h1.6M474.1 296.20h1.6M474.1 297.50h1.6M474.1 298.80h1.6M474.1 300.10h1.6M474.1 301.40h1.6M474.1 302.70h1.6M474.1 304.00h1.6M486.79 308.0v1.6M496.89 308.0v1.6M488.57 308.0v1.6M498.67 308.0v1.6M489.83 308.0v1.6M499.93 308.0v1.6M490.81 308.0v1.6M500.91 308.0v1.6M491.61 308.0v1.6M501.71 308.0v1.6M492.29 308.0v1.6M502.39 308.0v1.6M492.87 308.0v1.6M502.97 308.0v1.6M493.39 308.0v1.6M503.49 308.0v1.6M506.99 308.0v1.6M508.77 308.0v1.6M510.03 308.0v1.6M511.01 308.0v1.6M480.35 308.0v1.6M478.95 308.0v1.6M477.55 308.0v1.6" stroke="#111" stroke-width="0.75" fill="none"/>
<path d="M473.1 293.60h2.6M473.1 284.10h2.6M473.1 274.60h2.6M473.1 299.40h2.6M473.1 305.90h2.6M481.75 308.0v2.6M493.85 308.0v2.6M503.95 308.0v2.6" stroke="#111" stroke-width="0.95" fill="none"/>
<clipPath id="c20"><rect x="476.25" y="271.20" width="36.20" height="36.30"/></clipPath>
<g clip-path="url(#c20)"><g filter="url(#dens)">
<rect x="480.25" y="282.20" width="21.50" height="13.50" rx="2.5" fill-opacity="0.2" filter="url(#soft)"/>
<rect x="480.75" y="291.70" width="19.00" height="10.00" rx="5" fill-opacity="0.1" filter="url(#soft)"/>
<path d="M500.9 304.6h.8v.8h-.8zM506.7 289.3h.8v.8h-.8zM492.3 283.3h.8v.8h-.8zM504.7 281.7h.8v.8h-.8zM503.5 282.5h.8v.8h-.8zM507.6 300.6h.8v.8h-.8zM490.1 290.8h.8v.8h-.8zM492.2 299.5h.8v.8h-.8zM491.9 304.6h.8v.8h-.8zM488.4 280.7h.8v.8h-.8zM481.7 282.2h.8v.8h-.8zM481.3 281.0h.8v.8h-.8zM498.7 283.1h.8v.8h-.8zM486.7 288.8h.8v.8h-.8zM505.0 304.7h.8v.8h-.8zM498.8 295.9h.8v.8h-.8zM509.2 288.7h.8v.8h-.8zM509.2 298.8h.8v.8h-.8zM493.8 298.6h.8v.8h-.8zM503.3 280.8h.8v.8h-.8zM507.6 302.2h.8v.8h-.8zM485.0 291.3h.8v.8h-.8zM507.7 301.0h.8v.8h-.8zM499.9 300.2h.8v.8h-.8zM493.7 293.8h.8v.8h-.8zM483.4 285.5h.8v.8h-.8zM498.5 298.1h.8v.8h-.8zM507.9 286.6h.8v.8h-.8zM503.1 292.7h.8v.8h-.8zM495.3 286.6h.8v.8h-.8zM499.3 292.0h.8v.8h-.8zM492.7 284.9h.8v.8h-.8zM497.2 281.4h.8v.8h-.8zM507.2 283.3h.8v.8h-.8zM483.4 281.8h.8v.8h-.8zM483.9 305.2h.8v.8h-.8zM493.8 301.7h.8v.8h-.8zM509.0 302.9h.8v.8h-.8zM494.3 282.8h.8v.8h-.8zM496.2 281.7h.8v.8h-.8zM502.1 302.7h.8v.8h-.8zM501.9 287.7h.8v.8h-.8zM499.8 285.8h.8v.8h-.8zM482.1 290.1h.8v.8h-.8zM497.2 288.1h.8v.8h-.8zM501.4 303.4h.8v.8h-.8zM486.0 284.9h.8v.8h-.8zM503.4 285.1h.8v.8h-.8zM496.8 294.2h.8v.8h-.8zM483.5 289.8h.8v.8h-.8zM499.8 289.0h.8v.8h-.8zM504.9 296.2h.8v.8h-.8zM497.6 293.2h.8v.8h-.8zM484.6 295.9h.8v.8h-.8zM491.2 288.8h.8v.8h-.8zM501.6 293.5h.8v.8h-.8zM493.2 291.9h.8v.8h-.8zM506.7 286.2h.8v.8h-.8zM482.5 303.1h.8v.8h-.8zM493.4 295.5h.8v.8h-.8zM490.2 281.1h.8v.8h-.8zM491.2 285.4h.8v.8h-.8zM509.6 291.2h.8v.8h-.8zM487.7 298.0h.8v.8h-.8zM501.4 285.5h.8v.8h-.8zM505.5 281.0h.8v.8h-.8zM503.4 305.2h.8v.8h-.8zM484.4 285.4h.8v.8h-.8zM499.6 290.8h.8v.8h-.8zM496.9 299.1h.8v.8h-.8z" fill-opacity="0.091"/>
<path d="M484.8 292.1h.8v.8h-.8zM494.0 290.5h.8v.8h-.8zM492.7 293.3h.8v.8h-.8zM488.9 304.8h.8v.8h-.8zM503.0 286.4h.8v.8h-.8zM487.0 296.5h.8v.8h-.8zM505.0 305.1h.8v.8h-.8zM481.1 302.2h.8v.8h-.8zM502.6 295.8h.8v.8h-.8zM487.4 292.0h.8v.8h-.8zM492.9 285.3h.8v.8h-.8zM504.3 290.8h.8v.8h-.8zM493.1 297.9h.8v.8h-.8zM491.7 284.7h.8v.8h-.8zM507.0 298.8h.8v.8h-.8zM488.7 300.4h.8v.8h-.8zM494.1 291.9h.8v.8h-.8zM495.8 283.7h.8v.8h-.8zM492.4 295.3h.8v.8h-.8zM489.0 289.0h.8v.8h-.8zM483.0 292.7h.8v.8h-.8zM508.0 287.7h.8v.8h-.8zM493.0 285.2h.8v.8h-.8zM508.9 291.2h.8v.8h-.8zM504.0 302.4h.8v.8h-.8zM506.2 303.5h.8v.8h-.8zM489.6 291.4h.8v.8h-.8zM495.2 301.9h.8v.8h-.8zM501.0 304.1h.8v.8h-.8zM501.6 287.5h.8v.8h-.8zM501.7 283.6h.8v.8h-.8zM501.7 303.7h.8v.8h-.8zM500.9 299.1h.8v.8h-.8zM495.2 296.2h.8v.8h-.8zM503.7 300.3h.8v.8h-.8zM498.8 288.5h.8v.8h-.8zM501.8 297.7h.8v.8h-.8zM503.8 290.1h.8v.8h-.8zM485.4 296.5h.8v.8h-.8zM502.1 287.7h.8v.8h-.8zM490.1 303.8h.8v.8h-.8z" fill-opacity="0.143"/>
<path d="M481.0 299.6h.8v.8h-.8zM486.0 288.0h.8v.8h-.8zM485.8 290.7h.8v.8h-.8zM480.8 291.9h.8v.8h-.8zM490.9 286.6h.8v.8h-.8zM490.4 299.9h.8v.8h-.8zM500.3 291.5h.8v.8h-.8zM499.8 281.5h.8v.8h-.8zM483.1 292.9h.8v.8h-.8zM505.5 283.0h.8v.8h-.8zM483.7 289.1h.8v.8h-.8zM481.5 305.4h.8v.8h-.8zM503.1 303.6h.8v.8h-.8zM487.4 297.9h.8v.8h-.8zM486.7 292.8h.8v.8h-.8zM502.9 296.3h.8v.8h-.8zM500.5 299.8h.8v.8h-.8zM489.0 281.0h.8v.8h-.8zM496.7 284.9h.8v.8h-.8zM502.8 285.0h.8v.8h-.8zM495.6 288.5h.8v.8h-.8zM485.2 300.9h.8v.8h-.8zM509.7 287.5h.8v.8h-.8zM495.4 285.6h.8v.8h-.8zM501.6 304.0h.8v.8h-.8zM495.9 301.0h.8v.8h-.8zM494.9 289.1h.8v.8h-.8zM499.2 301.7h.8v.8h-.8zM497.6 283.0h.8v.8h-.8zM500.1 302.0h.8v.8h-.8zM484.5 294.5h.8v.8h-.8zM482.8 300.0h.8v.8h-.8zM506.0 293.5h.8v.8h-.8zM491.6 286.6h.8v.8h-.8zM501.0 298.3h.8v.8h-.8zM508.4 298.1h.8v.8h-.8zM490.3 298.4h.8v.8h-.8zM507.9 288.1h.8v.8h-.8zM495.9 281.1h.8v.8h-.8z" fill-opacity="0.221"/>
<ellipse cx="486.35" cy="289.80" rx="3.6" ry="4.2" fill="url(#rg)" fill-opacity="0.32"/>
<ellipse cx="490.55" cy="289.80" rx="1.5" ry="3" fill="url(#rg)" fill-opacity="0.19"/>
<ellipse cx="493.25" cy="289.80" rx="1.4" ry="3" fill="url(#rg)" fill-opacity="0.17"/>
<ellipse cx="496.35" cy="289.80" rx="1.4" ry="3" fill="url(#rg)" fill-opacity="0.17"/>
<ellipse cx="500.05" cy="294.20" rx="2.6" ry="10" fill="url(#rf)" fill-opacity="0.3"/>
<ellipse cx="500.05" cy="289.80" rx="1.7" ry="3.8" fill="url(#rg)" fill-opacity="0.88"/>
<ellipse cx="500.05" cy="297.80" rx="1.8" ry="4.5" fill="url(#rg)" fill-opacity="0.75"/>
</g></g>
<rect x="475.75" y="270.70" width="37.2" height="37.3" rx="0.8" fill="none" stroke="#000" stroke-width="1.25"/>
<text x="470.05" y="276.40" font-size="4.8" text-anchor="end" textLength="5.90" lengthAdjust="spacingAndGlyphs" stroke="#222" stroke-width="0.12">10</text>
<text x="470.25" y="274.10" font-size="3.0" textLength="1.50" lengthAdjust="spacingAndGlyphs">4</text>
<text x="470.05" y="286.30" font-size="4.8" text-anchor="end" textLength="5.90" lengthAdjust="spacingAndGlyphs" stroke="#222" stroke-width="0.12">10</text>
<text x="470.25" y="284.00" font-size="3.0" textLength="1.50" lengthAdjust="spacingAndGlyphs">3</text>
<text x="470.05" y="295.80" font-size="4.8" text-anchor="end" textLength="5.90" lengthAdjust="spacingAndGlyphs" stroke="#222" stroke-width="0.12">10</text>
<text x="470.25" y="293.50" font-size="3.0" textLength="1.50" lengthAdjust="spacingAndGlyphs">2</text>
<text transform="translate(471.55,299.40) rotate(-60)" font-size="4.6" text-anchor="middle" dy="1.6" fill="#222">0</text>
<text x="470.05" y="307.60" font-size="4.8" text-anchor="end" textLength="8.40" lengthAdjust="spacingAndGlyphs" stroke="#222" stroke-width="0.12">-10</text>
<text x="470.25" y="305.30" font-size="3.0" textLength="1.50" lengthAdjust="spacingAndGlyphs">2</text>
<text x="481.75" y="316.80" font-size="4.8" text-anchor="middle" textLength="2.75" lengthAdjust="spacingAndGlyphs" stroke="#222" stroke-width="0.12">0</text>
<text x="490.20" y="316.80" font-size="4.8" textLength="5.50" lengthAdjust="spacingAndGlyphs" stroke="#222" stroke-width="0.12">10</text>
<text x="496.00" y="314.50" font-size="3.0" textLength="1.50" lengthAdjust="spacingAndGlyphs">3</text>
<text x="500.30" y="316.80" font-size="4.8" textLength="5.50" lengthAdjust="spacingAndGlyphs" stroke="#222" stroke-width="0.12">10</text>
<text x="506.10" y="314.50" font-size="3.0" textLength="1.50" lengthAdjust="spacingAndGlyphs">4</text>
<path d="M311.7 342.94h1.6M311.7 341.27h1.6M311.7 340.08h1.6M311.7 339.16h1.6M311.7 338.41h1.6M311.7 337.77h1.6M311.7 337.22h1.6M311.7 336.73h1.6M311.7 333.44h1.6M311.7 331.77h1.6M311.7 330.58h1.6M311.7 329.66h1.6M311.7 328.91h1.6M311.7 328.27h1.6M311.7 327.72h1.6M311.7 327.23h1.6M311.7 323.94h1.6M311.7 347.10h1.6M311.7 348.40h1.6M311.7 349.70h1.6M311.7 351.00h1.6M311.7 352.30h1.6M311.7 353.60h1.6M311.7 354.90h1.6M311.7 356.20h1.6M324.34 360.2v1.6M334.44 360.2v1.6M326.12 360.2v1.6M336.22 360.2v1.6M327.38 360.2v1.6M337.48 360.2v1.6M328.36 360.2v1.6M338.46 360.2v1.6M329.16 360.2v1.6M339.26 360.2v1.6M329.84 360.2v1.6M339.94 360.2v1.6M330.42 360.2v1.6M340.52 360.2v1.6M330.94 360.2v1.6M341.04 360.2v1.6M344.54 360.2v1.6M346.32 360.2v1.6M347.58 360.2v1.6M348.56 360.2v1.6M317.90 360.2v1.6M316.50 360.2v1.6M315.10 360.2v1.6" stroke="#111" stroke-width="0.75" fill="none"/>
<path d="M310.7 345.80h2.6M310.7 336.30h2.6M310.7 326.80h2.6M310.7 351.60h2.6M310.7 358.10h2.6M319.30 360.2v2.6M331.40 360.2v2.6M341.50 360.2v2.6" stroke="#111" stroke-width="0.95" fill="none"/>
<clipPath id="c21"><rect x="313.80" y="323.40" width="36.20" height="36.30"/></clipPath>
<g clip-path="url(#c21)"><g filter="url(#dens)">
<path d="M341.4 347.0h.8v.8h-.8zM331.3 336.2h.8v.8h-.8zM336.1 339.5h.8v.8h-.8zM329.1 343.5h.8v.8h-.8zM334.0 337.1h.8v.8h-.8zM333.5 342.2h.8v.8h-.8zM327.1 342.2h.8v.8h-.8zM345.3 339.5h.8v.8h-.8zM329.4 351.0h.8v.8h-.8zM344.3 355.2h.8v.8h-.8zM326.0 345.5h.8v.8h-.8zM320.4 335.0h.8v.8h-.8zM340.9 341.6h.8v.8h-.8zM323.9 347.5h.8v.8h-.8zM341.4 356.0h.8v.8h-.8zM346.5 348.9h.8v.8h-.8zM322.0 355.0h.8v.8h-.8zM327.5 347.4h.8v.8h-.8zM338.6 344.5h.8v.8h-.8zM346.7 343.1h.8v.8h-.8zM338.4 336.4h.8v.8h-.8zM328.4 335.4h.8v.8h-.8zM323.6 338.0h.8v.8h-.8zM328.1 343.7h.8v.8h-.8zM320.5 349.8h.8v.8h-.8zM344.3 335.3h.8v.8h-.8zM327.7 355.9h.8v.8h-.8zM339.2 344.3h.8v.8h-.8zM332.5 351.3h.8v.8h-.8zM320.8 348.4h.8v.8h-.8zM344.1 354.4h.8v.8h-.8zM326.1 348.4h.8v.8h-.8zM320.3 339.4h.8v.8h-.8zM331.7 339.3h.8v.8h-.8zM330.7 354.2h.8v.8h-.8zM342.8 350.2h.8v.8h-.8zM333.2 355.9h.8v.8h-.8zM336.0 348.9h.8v.8h-.8zM330.3 354.9h.8v.8h-.8zM319.8 336.7h.8v.8h-.8zM336.3 343.3h.8v.8h-.8zM331.4 340.8h.8v.8h-.8zM328.7 355.0h.8v.8h-.8zM331.2 337.8h.8v.8h-.8zM324.9 351.8h.8v.8h-.8zM321.0 349.4h.8v.8h-.8zM329.7 356.8h.8v.8h-.8zM332.7 347.6h.8v.8h-.8zM330.9 348.3h.8v.8h-.8zM319.9 344.9h.8v.8h-.8zM336.7 356.1h.8v.8h-.8zM325.4 348.6h.8v.8h-.8zM328.7 347.3h.8v.8h-.8zM335.8 347.0h.8v.8h-.8zM337.2 341.4h.8v.8h-.8zM332.5 346.6h.8v.8h-.8zM331.7 354.1h.8v.8h-.8zM332.7 350.1h.8v.8h-.8zM336.5 350.3h.8v.8h-.8zM335.4 344.8h.8v.8h-.8zM335.0 348.9h.8v.8h-.8z" fill-opacity="0.091"/>
<path d="M345.0 336.3h.8v.8h-.8zM325.1 350.7h.8v.8h-.8zM340.3 344.4h.8v.8h-.8zM346.3 340.3h.8v.8h-.8zM329.3 338.3h.8v.8h-.8zM338.1 357.7h.8v.8h-.8zM340.8 341.8h.8v.8h-.8zM344.6 347.1h.8v.8h-.8zM338.2 347.8h.8v.8h-.8zM337.1 345.9h.8v.8h-.8zM324.9 354.4h.8v.8h-.8zM343.2 350.5h.8v.8h-.8zM335.5 354.2h.8v.8h-.8zM335.7 338.6h.8v.8h-.8zM328.9 352.4h.8v.8h-.8zM319.4 337.3h.8v.8h-.8zM344.3 340.4h.8v.8h-.8zM325.4 345.2h.8v.8h-.8zM340.3 340.3h.8v.8h-.8zM332.1 350.8h.8v.8h-.8zM336.6 347.5h.8v.8h-.8zM333.9 345.7h.8v.8h-.8zM331.6 352.9h.8v.8h-.8zM335.6 346.3h.8v.8h-.8zM335.4 350.7h.8v.8h-.8zM335.5 341.6h.8v.8h-.8zM335.0 343.9h.8v.8h-.8zM336.3 356.2h.8v.8h-.8zM343.0 344.4h.8v.8h-.8zM328.7 353.8h.8v.8h-.8zM340.0 349.8h.8v.8h-.8zM338.5 351.4h.8v.8h-.8zM338.4 348.6h.8v.8h-.8zM336.8 348.1h.8v.8h-.8zM332.6 347.8h.8v.8h-.8zM328.2 345.0h.8v.8h-.8z" fill-opacity="0.143"/>
<path d="M339.8 341.3h.8v.8h-.8zM328.8 355.2h.8v.8h-.8zM341.8 346.7h.8v.8h-.8zM333.3 340.3h.8v.8h-.8zM345.2 349.2h.8v.8h-.8zM326.7 345.6h.8v.8h-.8zM324.7 347.0h.8v.8h-.8zM338.2 351.8h.8v.8h-.8zM337.4 352.7h.8v.8h-.8zM327.0 349.4h.8v.8h-.8zM319.6 348.6h.8v.8h-.8zM339.6 336.4h.8v.8h-.8zM339.9 356.7h.8v.8h-.8zM341.1 348.2h.8v.8h-.8zM324.7 349.1h.8v.8h-.8zM344.8 337.9h.8v.8h-.8zM340.1 345.3h.8v.8h-.8zM343.6 356.5h.8v.8h-.8zM318.8 346.8h.8v.8h-.8zM345.1 338.2h.8v.8h-.8zM331.8 352.5h.8v.8h-.8zM336.6 340.5h.8v.8h-.8zM326.1 349.5h.8v.8h-.8zM321.3 350.5h.8v.8h-.8zM323.0 354.0h.8v.8h-.8zM322.6 357.4h.8v.8h-.8zM331.8 343.6h.8v.8h-.8zM344.9 350.6h.8v.8h-.8zM335.1 346.6h.8v.8h-.8zM338.6 338.6h.8v.8h-.8zM334.3 337.5h.8v.8h-.8zM333.9 348.8h.8v.8h-.8zM339.7 345.8h.8v.8h-.8zM328.6 354.9h.8v.8h-.8zM332.2 344.4h.8v.8h-.8zM327.7 351.4h.8v.8h-.8zM340.0 355.9h.8v.8h-.8zM338.4 346.1h.8v.8h-.8zM332.2 348.3h.8v.8h-.8zM331.5 341.7h.8v.8h-.8zM336.8 348.9h.8v.8h-.8zM334.7 347.8h.8v.8h-.8zM336.9 348.7h.8v.8h-.8z" fill-opacity="0.221"/>
<ellipse cx="336.50" cy="348.05" rx="4.0" ry="9.5" fill="url(#rf)" fill-opacity="0.26"/>
<ellipse cx="336.80" cy="344.90" rx="2.0" ry="3.0" fill="url(#rg)" fill-opacity="0.8"/>
<ellipse cx="336.80" cy="350.20" rx="2.3" ry="5.0" fill="url(#rg)" fill-opacity="0.6"/>
</g></g>
<rect x="313.30" y="322.90" width="37.2" height="37.3" rx="0.8" fill="none" stroke="#000" stroke-width="1.25"/>
<text x="307.60" y="328.60" font-size="4.8" text-anchor="end" textLength="5.90" lengthAdjust="spacingAndGlyphs" stroke="#222" stroke-width="0.12">10</text>
<text x="307.80" y="326.30" font-size="3.0" textLength="1.50" lengthAdjust="spacingAndGlyphs">4</text>
<text x="307.60" y="338.50" font-size="4.8" text-anchor="end" textLength="5.90" lengthAdjust="spacingAndGlyphs" stroke="#222" stroke-width="0.12">10</text>
<text x="307.80" y="336.20" font-size="3.0" textLength="1.50" lengthAdjust="spacingAndGlyphs">3</text>
<text x="307.60" y="348.00" font-size="4.8" text-anchor="end" textLength="5.90" lengthAdjust="spacingAndGlyphs" stroke="#222" stroke-width="0.12">10</text>
<text x="307.80" y="345.70" font-size="3.0" textLength="1.50" lengthAdjust="spacingAndGlyphs">2</text>
<text transform="translate(309.10,351.60) rotate(-60)" font-size="4.6" text-anchor="middle" dy="1.6" fill="#222">0</text>
<text x="307.60" y="359.80" font-size="4.8" text-anchor="end" textLength="8.40" lengthAdjust="spacingAndGlyphs" stroke="#222" stroke-width="0.12">-10</text>
<text x="307.80" y="357.50" font-size="3.0" textLength="1.50" lengthAdjust="spacingAndGlyphs">2</text>
<text x="319.30" y="369.00" font-size="4.8" text-anchor="middle" textLength="2.75" lengthAdjust="spacingAndGlyphs" stroke="#222" stroke-width="0.12">0</text>
<text x="327.75" y="369.00" font-size="4.8" textLength="5.50" lengthAdjust="spacingAndGlyphs" stroke="#222" stroke-width="0.12">10</text>
<text x="333.55" y="366.70" font-size="3.0" textLength="1.50" lengthAdjust="spacingAndGlyphs">3</text>
<text x="337.85" y="369.00" font-size="4.8" textLength="5.50" lengthAdjust="spacingAndGlyphs" stroke="#222" stroke-width="0.12">10</text>
<text x="343.65" y="366.70" font-size="3.0" textLength="1.50" lengthAdjust="spacingAndGlyphs">4</text>
<path d="M365.8 342.94h1.6M365.8 341.27h1.6M365.8 340.08h1.6M365.8 339.16h1.6M365.8 338.41h1.6M365.8 337.77h1.6M365.8 337.22h1.6M365.8 336.73h1.6M365.8 333.44h1.6M365.8 331.77h1.6M365.8 330.58h1.6M365.8 329.66h1.6M365.8 328.91h1.6M365.8 328.27h1.6M365.8 327.72h1.6M365.8 327.23h1.6M365.8 323.94h1.6M365.8 347.10h1.6M365.8 348.40h1.6M365.8 349.70h1.6M365.8 351.00h1.6M365.8 352.30h1.6M365.8 353.60h1.6M365.8 354.90h1.6M365.8 356.20h1.6M378.49 360.2v1.6M388.59 360.2v1.6M380.27 360.2v1.6M390.37 360.2v1.6M381.53 360.2v1.6M391.63 360.2v1.6M382.51 360.2v1.6M392.61 360.2v1.6M383.31 360.2v1.6M393.41 360.2v1.6M383.99 360.2v1.6M394.09 360.2v1.6M384.57 360.2v1.6M394.67 360.2v1.6M385.09 360.2v1.6M395.19 360.2v1.6M398.69 360.2v1.6M400.47 360.2v1.6M401.73 360.2v1.6M402.71 360.2v1.6M372.05 360.2v1.6M370.65 360.2v1.6M369.25 360.2v1.6" stroke="#111" stroke-width="0.75" fill="none"/>
<path d="M364.8 345.80h2.6M364.8 336.30h2.6M364.8 326.80h2.6M364.8 351.60h2.6M364.8 358.10h2.6M373.45 360.2v2.6M385.55 360.2v2.6M395.65 360.2v2.6" stroke="#111" stroke-width="0.95" fill="none"/>
<clipPath id="c22"><rect x="367.95" y="323.40" width="36.20" height="36.30"/></clipPath>
<g clip-path="url(#c22)"><g filter="url(#dens)">
<rect x="373.45" y="336.90" width="20.00" height="19.00" rx="5" fill-opacity="0.05" filter="url(#soft)"/>
<path d="M385.1 341.4h.8v.8h-.8zM399.1 347.5h.8v.8h-.8zM376.9 342.2h.8v.8h-.8zM374.3 342.9h.8v.8h-.8zM375.6 347.4h.8v.8h-.8zM395.9 356.1h.8v.8h-.8zM377.8 341.8h.8v.8h-.8zM373.0 351.9h.8v.8h-.8zM384.6 354.7h.8v.8h-.8zM384.8 337.1h.8v.8h-.8zM397.5 354.9h.8v.8h-.8zM398.8 334.6h.8v.8h-.8zM396.7 341.5h.8v.8h-.8zM388.4 350.6h.8v.8h-.8zM391.4 357.1h.8v.8h-.8zM383.8 352.1h.8v.8h-.8zM388.6 335.9h.8v.8h-.8zM394.4 333.5h.8v.8h-.8zM390.5 334.6h.8v.8h-.8zM391.9 341.7h.8v.8h-.8zM375.8 356.9h.8v.8h-.8zM398.0 333.4h.8v.8h-.8zM378.7 352.4h.8v.8h-.8zM384.2 337.0h.8v.8h-.8zM385.5 350.1h.8v.8h-.8zM383.7 338.2h.8v.8h-.8zM398.5 354.5h.8v.8h-.8zM382.3 335.7h.8v.8h-.8zM399.5 343.4h.8v.8h-.8zM383.9 351.4h.8v.8h-.8zM390.7 344.0h.8v.8h-.8zM381.5 333.4h.8v.8h-.8zM385.8 346.0h.8v.8h-.8zM379.7 334.8h.8v.8h-.8zM386.4 335.5h.8v.8h-.8zM376.9 355.1h.8v.8h-.8zM383.5 334.0h.8v.8h-.8zM397.8 355.7h.8v.8h-.8zM372.6 344.7h.8v.8h-.8zM374.0 342.3h.8v.8h-.8zM395.9 353.6h.8v.8h-.8zM378.3 357.2h.8v.8h-.8zM392.8 356.1h.8v.8h-.8zM377.2 334.8h.8v.8h-.8zM391.2 340.8h.8v.8h-.8zM379.5 349.9h.8v.8h-.8zM380.3 356.5h.8v.8h-.8zM378.5 351.3h.8v.8h-.8zM384.7 349.0h.8v.8h-.8zM379.3 344.2h.8v.8h-.8zM388.8 336.7h.8v.8h-.8zM393.8 334.0h.8v.8h-.8zM393.8 351.3h.8v.8h-.8zM382.4 352.4h.8v.8h-.8zM398.0 346.5h.8v.8h-.8zM388.1 357.0h.8v.8h-.8zM397.5 346.5h.8v.8h-.8zM386.2 334.2h.8v.8h-.8zM397.9 339.1h.8v.8h-.8zM378.1 347.0h.8v.8h-.8zM376.0 355.9h.8v.8h-.8zM373.3 349.8h.8v.8h-.8zM381.2 348.6h.8v.8h-.8zM392.8 356.5h.8v.8h-.8zM394.5 347.0h.8v.8h-.8zM383.4 346.8h.8v.8h-.8zM393.4 342.2h.8v.8h-.8zM399.5 353.0h.8v.8h-.8zM392.3 352.7h.8v.8h-.8zM380.7 336.9h.8v.8h-.8zM373.9 341.2h.8v.8h-.8zM395.0 344.5h.8v.8h-.8zM380.9 355.3h.8v.8h-.8zM386.3 337.8h.8v.8h-.8z" fill-opacity="0.091"/>
<path d="M374.7 334.3h.8v.8h-.8zM379.6 355.8h.8v.8h-.8zM396.0 348.5h.8v.8h-.8zM388.2 340.5h.8v.8h-.8zM374.6 353.6h.8v.8h-.8zM377.7 357.4h.8v.8h-.8zM390.4 355.7h.8v.8h-.8zM400.3 333.4h.8v.8h-.8zM398.7 334.2h.8v.8h-.8zM382.6 355.7h.8v.8h-.8zM385.8 352.2h.8v.8h-.8zM383.8 334.3h.8v.8h-.8zM392.0 342.5h.8v.8h-.8zM384.4 345.4h.8v.8h-.8zM388.8 351.0h.8v.8h-.8zM392.4 351.2h.8v.8h-.8zM376.7 348.6h.8v.8h-.8zM397.0 354.2h.8v.8h-.8zM376.0 354.1h.8v.8h-.8zM396.4 341.0h.8v.8h-.8zM394.2 334.1h.8v.8h-.8zM401.1 333.3h.8v.8h-.8zM380.8 352.2h.8v.8h-.8zM383.1 353.7h.8v.8h-.8zM392.4 357.6h.8v.8h-.8zM376.8 335.7h.8v.8h-.8zM376.1 344.3h.8v.8h-.8zM401.0 357.4h.8v.8h-.8zM380.2 355.4h.8v.8h-.8zM390.0 348.5h.8v.8h-.8zM385.0 353.0h.8v.8h-.8zM384.9 340.2h.8v.8h-.8zM400.6 356.3h.8v.8h-.8zM387.4 343.3h.8v.8h-.8zM392.0 340.9h.8v.8h-.8zM393.4 343.9h.8v.8h-.8zM386.5 337.8h.8v.8h-.8z" fill-opacity="0.143"/>
<path d="M384.2 341.6h.8v.8h-.8zM376.5 342.9h.8v.8h-.8zM377.5 337.3h.8v.8h-.8zM392.5 338.9h.8v.8h-.8zM380.5 350.2h.8v.8h-.8zM383.2 355.9h.8v.8h-.8zM383.0 350.3h.8v.8h-.8zM400.7 335.7h.8v.8h-.8zM374.0 344.1h.8v.8h-.8zM376.8 336.9h.8v.8h-.8zM380.8 348.9h.8v.8h-.8zM386.3 356.0h.8v.8h-.8zM390.3 335.5h.8v.8h-.8zM389.0 336.4h.8v.8h-.8zM390.6 340.6h.8v.8h-.8zM385.0 357.8h.8v.8h-.8zM393.6 354.3h.8v.8h-.8zM397.5 336.2h.8v.8h-.8zM381.2 337.1h.8v.8h-.8zM395.2 338.8h.8v.8h-.8zM374.7 344.9h.8v.8h-.8zM387.0 340.8h.8v.8h-.8zM373.3 336.0h.8v.8h-.8zM392.1 351.0h.8v.8h-.8zM389.4 356.9h.8v.8h-.8zM394.4 343.8h.8v.8h-.8zM388.3 347.2h.8v.8h-.8zM395.1 353.7h.8v.8h-.8zM399.1 346.1h.8v.8h-.8zM396.3 341.6h.8v.8h-.8zM374.5 346.5h.8v.8h-.8zM379.6 339.6h.8v.8h-.8zM395.3 355.2h.8v.8h-.8zM398.0 354.1h.8v.8h-.8zM397.4 356.2h.8v.8h-.8zM390.6 350.7h.8v.8h-.8zM382.4 336.9h.8v.8h-.8zM401.4 354.5h.8v.8h-.8zM400.1 348.4h.8v.8h-.8z" fill-opacity="0.221"/>
<ellipse cx="391.05" cy="346.85" rx="3.3" ry="10.0" fill="url(#rf)" fill-opacity="0.26"/>
<ellipse cx="391.35" cy="342.50" rx="1.4" ry="2.5" fill="url(#rg)" fill-opacity="0.88"/>
<ellipse cx="391.35" cy="350.20" rx="1.9" ry="4.8" fill="url(#rg)" fill-opacity="0.68"/>
</g></g>
<rect x="367.45" y="322.90" width="37.2" height="37.3" rx="0.8" fill="none" stroke="#000" stroke-width="1.25"/>
<text x="361.75" y="328.60" font-size="4.8" text-anchor="end" textLength="5.90" lengthAdjust="spacingAndGlyphs" stroke="#222" stroke-width="0.12">10</text>
<text x="361.95" y="326.30" font-size="3.0" textLength="1.50" lengthAdjust="spacingAndGlyphs">4</text>
<text x="361.75" y="338.50" font-size="4.8" text-anchor="end" textLength="5.90" lengthAdjust="spacingAndGlyphs" stroke="#222" stroke-width="0.12">10</text>
<text x="361.95" y="336.20" font-size="3.0" textLength="1.50" lengthAdjust="spacingAndGlyphs">3</text>
<text x="361.75" y="348.00" font-size="4.8" text-anchor="end" textLength="5.90" lengthAdjust="spacingAndGlyphs" stroke="#222" stroke-width="0.12">10</text>
<text x="361.95" y="345.70" font-size="3.0" textLength="1.50" lengthAdjust="spacingAndGlyphs">2</text>
<text transform="translate(363.25,351.60) rotate(-60)" font-size="4.6" text-anchor="middle" dy="1.6" fill="#222">0</text>
<text x="361.75" y="359.80" font-size="4.8" text-anchor="end" textLength="8.40" lengthAdjust="spacingAndGlyphs" stroke="#222" stroke-width="0.12">-10</text>
<text x="361.95" y="357.50" font-size="3.0" textLength="1.50" lengthAdjust="spacingAndGlyphs">2</text>
<text x="373.45" y="369.00" font-size="4.8" text-anchor="middle" textLength="2.75" lengthAdjust="spacingAndGlyphs" stroke="#222" stroke-width="0.12">0</text>
<text x="381.90" y="369.00" font-size="4.8" textLength="5.50" lengthAdjust="spacingAndGlyphs" stroke="#222" stroke-width="0.12">10</text>
<text x="387.70" y="366.70" font-size="3.0" textLength="1.50" lengthAdjust="spacingAndGlyphs">3</text>
<text x="392.00" y="369.00" font-size="4.8" textLength="5.50" lengthAdjust="spacingAndGlyphs" stroke="#222" stroke-width="0.12">10</text>
<text x="397.80" y="366.70" font-size="3.0" textLength="1.50" lengthAdjust="spacingAndGlyphs">4</text>
<path d="M420.0 342.94h1.6M420.0 341.27h1.6M420.0 340.08h1.6M420.0 339.16h1.6M420.0 338.41h1.6M420.0 337.77h1.6M420.0 337.22h1.6M420.0 336.73h1.6M420.0 333.44h1.6M420.0 331.77h1.6M420.0 330.58h1.6M420.0 329.66h1.6M420.0 328.91h1.6M420.0 328.27h1.6M420.0 327.72h1.6M420.0 327.23h1.6M420.0 323.94h1.6M420.0 347.10h1.6M420.0 348.40h1.6M420.0 349.70h1.6M420.0 351.00h1.6M420.0 352.30h1.6M420.0 353.60h1.6M420.0 354.90h1.6M420.0 356.20h1.6M432.64 360.2v1.6M442.74 360.2v1.6M434.42 360.2v1.6M444.52 360.2v1.6M435.68 360.2v1.6M445.78 360.2v1.6M436.66 360.2v1.6M446.76 360.2v1.6M437.46 360.2v1.6M447.56 360.2v1.6M438.14 360.2v1.6M448.24 360.2v1.6M438.72 360.2v1.6M448.82 360.2v1.6M439.24 360.2v1.6M449.34 360.2v1.6M452.84 360.2v1.6M454.62 360.2v1.6M455.88 360.2v1.6M456.86 360.2v1.6M426.20 360.2v1.6M424.80 360.2v1.6M423.40 360.2v1.6" stroke="#111" stroke-width="0.75" fill="none"/>
<path d="M419.0 345.80h2.6M419.0 336.30h2.6M419.0 326.80h2.6M419.0 351.60h2.6M419.0 358.10h2.6M427.60 360.2v2.6M439.70 360.2v2.6M449.80 360.2v2.6" stroke="#111" stroke-width="0.95" fill="none"/>
<clipPath id="c23"><rect x="422.10" y="323.40" width="36.20" height="36.30"/></clipPath>
<g clip-path="url(#c23)"><g filter="url(#dens)">
<rect x="427.60" y="336.90" width="20.00" height="19.00" rx="5" fill-opacity="0.05" filter="url(#soft)"/>
<path d="M436.6 337.5h.8v.8h-.8zM453.5 340.7h.8v.8h-.8zM431.5 348.1h.8v.8h-.8zM439.5 349.0h.8v.8h-.8zM429.9 338.9h.8v.8h-.8zM450.8 344.4h.8v.8h-.8zM437.9 341.1h.8v.8h-.8zM453.8 343.0h.8v.8h-.8zM426.6 352.3h.8v.8h-.8zM452.0 354.6h.8v.8h-.8zM451.1 342.9h.8v.8h-.8zM435.7 344.5h.8v.8h-.8zM431.6 339.0h.8v.8h-.8zM451.4 337.9h.8v.8h-.8zM433.5 345.5h.8v.8h-.8zM444.5 347.1h.8v.8h-.8zM429.4 341.1h.8v.8h-.8zM443.6 346.7h.8v.8h-.8zM427.9 338.0h.8v.8h-.8zM450.4 352.5h.8v.8h-.8zM445.0 346.6h.8v.8h-.8zM426.8 354.2h.8v.8h-.8zM454.7 348.6h.8v.8h-.8zM447.6 338.0h.8v.8h-.8zM443.5 333.2h.8v.8h-.8zM447.6 350.6h.8v.8h-.8zM448.8 338.7h.8v.8h-.8zM437.7 336.5h.8v.8h-.8zM450.0 334.7h.8v.8h-.8zM450.3 349.0h.8v.8h-.8zM438.6 335.3h.8v.8h-.8zM436.9 346.0h.8v.8h-.8zM440.0 340.7h.8v.8h-.8zM454.9 334.6h.8v.8h-.8zM451.1 336.1h.8v.8h-.8zM443.3 342.4h.8v.8h-.8zM437.2 357.2h.8v.8h-.8zM434.8 357.6h.8v.8h-.8zM442.0 355.3h.8v.8h-.8zM434.3 352.8h.8v.8h-.8zM439.2 357.0h.8v.8h-.8zM440.4 346.4h.8v.8h-.8zM433.0 334.2h.8v.8h-.8zM428.0 347.2h.8v.8h-.8zM450.0 351.2h.8v.8h-.8zM440.2 343.4h.8v.8h-.8zM440.0 335.8h.8v.8h-.8zM431.1 349.0h.8v.8h-.8zM427.8 346.9h.8v.8h-.8zM452.6 339.7h.8v.8h-.8zM454.6 347.5h.8v.8h-.8zM453.6 354.6h.8v.8h-.8zM440.4 352.3h.8v.8h-.8zM437.2 338.1h.8v.8h-.8zM432.5 355.2h.8v.8h-.8zM430.1 338.9h.8v.8h-.8zM426.6 344.2h.8v.8h-.8zM446.3 353.3h.8v.8h-.8zM454.4 334.9h.8v.8h-.8zM448.7 345.3h.8v.8h-.8zM442.8 352.3h.8v.8h-.8zM435.5 345.6h.8v.8h-.8zM427.3 348.5h.8v.8h-.8zM429.9 347.3h.8v.8h-.8zM440.4 344.3h.8v.8h-.8zM428.5 345.6h.8v.8h-.8zM436.8 333.0h.8v.8h-.8zM448.9 356.9h.8v.8h-.8zM450.1 339.0h.8v.8h-.8zM446.9 346.8h.8v.8h-.8zM432.7 342.7h.8v.8h-.8zM439.0 352.8h.8v.8h-.8zM442.0 344.9h.8v.8h-.8zM445.4 335.8h.8v.8h-.8z" fill-opacity="0.091"/>
<path d="M434.9 356.9h.8v.8h-.8zM452.6 345.2h.8v.8h-.8zM431.2 340.5h.8v.8h-.8zM445.6 345.2h.8v.8h-.8zM452.5 349.5h.8v.8h-.8zM454.8 353.7h.8v.8h-.8zM436.6 355.9h.8v.8h-.8zM449.0 350.9h.8v.8h-.8zM447.6 333.4h.8v.8h-.8zM455.4 347.6h.8v.8h-.8zM454.6 343.6h.8v.8h-.8zM437.7 354.1h.8v.8h-.8zM447.3 348.2h.8v.8h-.8zM452.1 339.6h.8v.8h-.8zM446.0 348.5h.8v.8h-.8zM451.5 347.4h.8v.8h-.8zM454.9 341.7h.8v.8h-.8zM444.0 350.8h.8v.8h-.8zM435.5 333.0h.8v.8h-.8zM427.9 339.3h.8v.8h-.8zM452.4 349.9h.8v.8h-.8zM436.4 347.1h.8v.8h-.8zM429.9 355.5h.8v.8h-.8zM451.5 343.2h.8v.8h-.8zM430.4 337.7h.8v.8h-.8zM445.7 335.5h.8v.8h-.8zM443.1 354.7h.8v.8h-.8zM431.6 343.7h.8v.8h-.8zM443.7 344.0h.8v.8h-.8zM451.1 356.6h.8v.8h-.8zM431.1 354.3h.8v.8h-.8zM453.8 346.0h.8v.8h-.8zM444.3 356.0h.8v.8h-.8zM428.8 352.0h.8v.8h-.8zM450.5 340.2h.8v.8h-.8zM438.1 339.8h.8v.8h-.8z" fill-opacity="0.143"/>
<path d="M445.7 341.4h.8v.8h-.8zM433.7 336.5h.8v.8h-.8zM453.4 345.6h.8v.8h-.8zM431.6 334.1h.8v.8h-.8zM433.3 353.2h.8v.8h-.8zM443.9 335.8h.8v.8h-.8zM432.5 335.7h.8v.8h-.8zM444.6 333.2h.8v.8h-.8zM447.0 336.1h.8v.8h-.8zM438.0 342.1h.8v.8h-.8zM434.4 356.5h.8v.8h-.8zM430.0 352.5h.8v.8h-.8zM453.9 337.5h.8v.8h-.8zM427.0 336.2h.8v.8h-.8zM427.9 347.8h.8v.8h-.8zM437.2 347.6h.8v.8h-.8zM447.8 339.3h.8v.8h-.8zM430.9 335.8h.8v.8h-.8zM445.2 353.5h.8v.8h-.8zM446.0 334.2h.8v.8h-.8zM434.5 339.7h.8v.8h-.8zM451.4 354.3h.8v.8h-.8zM435.2 355.0h.8v.8h-.8zM426.8 343.6h.8v.8h-.8zM452.5 353.4h.8v.8h-.8zM443.8 346.4h.8v.8h-.8zM450.2 348.4h.8v.8h-.8zM452.6 339.5h.8v.8h-.8zM434.5 352.4h.8v.8h-.8zM436.6 351.1h.8v.8h-.8zM448.0 337.5h.8v.8h-.8zM441.9 354.2h.8v.8h-.8zM440.0 353.5h.8v.8h-.8zM427.3 344.0h.8v.8h-.8zM429.4 339.4h.8v.8h-.8zM454.2 346.9h.8v.8h-.8zM449.1 349.5h.8v.8h-.8zM428.2 339.7h.8v.8h-.8zM445.9 348.3h.8v.8h-.8zM450.5 356.1h.8v.8h-.8z" fill-opacity="0.221"/>
<ellipse cx="445.30" cy="346.50" rx="3.3" ry="10.0" fill="url(#rf)" fill-opacity="0.26"/>
<ellipse cx="445.60" cy="341.80" rx="1.3" ry="2.5" fill="url(#rg)" fill-opacity="0.85"/>
<ellipse cx="445.60" cy="350.20" rx="1.8" ry="4.8" fill="url(#rg)" fill-opacity="0.62"/>
</g></g>
<rect x="421.60" y="322.90" width="37.2" height="37.3" rx="0.8" fill="none" stroke="#000" stroke-width="1.25"/>
<text x="415.90" y="328.60" font-size="4.8" text-anchor="end" textLength="5.90" lengthAdjust="spacingAndGlyphs" stroke="#222" stroke-width="0.12">10</text>
<text x="416.10" y="326.30" font-size="3.0" textLength="1.50" lengthAdjust="spacingAndGlyphs">4</text>
<text x="415.90" y="338.50" font-size="4.8" text-anchor="end" textLength="5.90" lengthAdjust="spacingAndGlyphs" stroke="#222" stroke-width="0.12">10</text>
<text x="416.10" y="336.20" font-size="3.0" textLength="1.50" lengthAdjust="spacingAndGlyphs">3</text>
<text x="415.90" y="348.00" font-size="4.8" text-anchor="end" textLength="5.90" lengthAdjust="spacingAndGlyphs" stroke="#222" stroke-width="0.12">10</text>
<text x="416.10" y="345.70" font-size="3.0" textLength="1.50" lengthAdjust="spacingAndGlyphs">2</text>
<text transform="translate(417.40,351.60) rotate(-60)" font-size="4.6" text-anchor="middle" dy="1.6" fill="#222">0</text>
<text x="415.90" y="359.80" font-size="4.8" text-anchor="end" textLength="8.40" lengthAdjust="spacingAndGlyphs" stroke="#222" stroke-width="0.12">-10</text>
<text x="416.10" y="357.50" font-size="3.0" textLength="1.50" lengthAdjust="spacingAndGlyphs">2</text>
<text x="427.60" y="369.00" font-size="4.8" text-anchor="middle" textLength="2.75" lengthAdjust="spacingAndGlyphs" stroke="#222" stroke-width="0.12">0</text>
<text x="436.05" y="369.00" font-size="4.8" textLength="5.50" lengthAdjust="spacingAndGlyphs" stroke="#222" stroke-width="0.12">10</text>
<text x="441.85" y="366.70" font-size="3.0" textLength="1.50" lengthAdjust="spacingAndGlyphs">3</text>
<text x="446.15" y="369.00" font-size="4.8" textLength="5.50" lengthAdjust="spacingAndGlyphs" stroke="#222" stroke-width="0.12">10</text>
<text x="451.95" y="366.70" font-size="3.0" textLength="1.50" lengthAdjust="spacingAndGlyphs">4</text>
<path d="M474.1 342.94h1.6M474.1 341.27h1.6M474.1 340.08h1.6M474.1 339.16h1.6M474.1 338.41h1.6M474.1 337.77h1.6M474.1 337.22h1.6M474.1 336.73h1.6M474.1 333.44h1.6M474.1 331.77h1.6M474.1 330.58h1.6M474.1 329.66h1.6M474.1 328.91h1.6M474.1 328.27h1.6M474.1 327.72h1.6M474.1 327.23h1.6M474.1 323.94h1.6M474.1 347.10h1.6M474.1 348.40h1.6M474.1 349.70h1.6M474.1 351.00h1.6M474.1 352.30h1.6M474.1 353.60h1.6M474.1 354.90h1.6M474.1 356.20h1.6M486.79 360.2v1.6M496.89 360.2v1.6M488.57 360.2v1.6M498.67 360.2v1.6M489.83 360.2v1.6M499.93 360.2v1.6M490.81 360.2v1.6M500.91 360.2v1.6M491.61 360.2v1.6M501.71 360.2v1.6M492.29 360.2v1.6M502.39 360.2v1.6M492.87 360.2v1.6M502.97 360.2v1.6M493.39 360.2v1.6M503.49 360.2v1.6M506.99 360.2v1.6M508.77 360.2v1.6M510.03 360.2v1.6M511.01 360.2v1.6M480.35 360.2v1.6M478.95 360.2v1.6M477.55 360.2v1.6" stroke="#111" stroke-width="0.75" fill="none"/>
<path d="M473.1 345.80h2.6M473.1 336.30h2.6M473.1 326.80h2.6M473.1 351.60h2.6M473.1 358.10h2.6M481.75 360.2v2.6M493.85 360.2v2.6M503.95 360.2v2.6" stroke="#111" stroke-width="0.95" fill="none"/>
<clipPath id="c24"><rect x="476.25" y="323.40" width="36.20" height="36.30"/></clipPath>
<g clip-path="url(#c24)"><g filter="url(#dens)">
<rect x="481.75" y="335.90" width="19.00" height="7.00" rx="2" fill-opacity="0.12" filter="url(#soft)"/>
<rect x="481.75" y="342.90" width="19.00" height="13.00" rx="5" fill-opacity="0.05" filter="url(#soft)"/>
<path d="M506.9 343.2h.8v.8h-.8zM480.8 349.7h.8v.8h-.8zM501.6 356.9h.8v.8h-.8zM489.9 338.6h.8v.8h-.8zM498.7 344.6h.8v.8h-.8zM501.3 346.2h.8v.8h-.8zM505.7 349.3h.8v.8h-.8zM506.3 335.1h.8v.8h-.8zM481.2 334.9h.8v.8h-.8zM489.8 350.3h.8v.8h-.8zM495.9 342.3h.8v.8h-.8zM483.0 336.5h.8v.8h-.8zM485.4 357.8h.8v.8h-.8zM487.5 341.9h.8v.8h-.8zM490.2 334.2h.8v.8h-.8zM482.1 344.1h.8v.8h-.8zM500.0 343.6h.8v.8h-.8zM496.4 351.7h.8v.8h-.8zM496.6 337.7h.8v.8h-.8zM502.5 354.5h.8v.8h-.8zM490.7 351.6h.8v.8h-.8zM507.6 334.4h.8v.8h-.8zM496.5 338.9h.8v.8h-.8zM497.2 356.5h.8v.8h-.8zM483.1 339.1h.8v.8h-.8zM500.9 351.7h.8v.8h-.8zM507.0 338.4h.8v.8h-.8zM493.7 339.5h.8v.8h-.8zM486.5 343.0h.8v.8h-.8zM497.9 345.6h.8v.8h-.8zM491.7 342.4h.8v.8h-.8zM485.7 350.2h.8v.8h-.8zM506.0 341.8h.8v.8h-.8zM483.8 351.4h.8v.8h-.8zM495.1 343.7h.8v.8h-.8zM503.4 343.2h.8v.8h-.8zM482.1 345.5h.8v.8h-.8zM505.1 348.0h.8v.8h-.8zM496.1 346.3h.8v.8h-.8zM503.4 353.2h.8v.8h-.8zM499.9 339.4h.8v.8h-.8zM493.2 333.4h.8v.8h-.8zM489.7 344.0h.8v.8h-.8zM495.5 353.3h.8v.8h-.8zM481.9 355.9h.8v.8h-.8zM495.7 345.2h.8v.8h-.8zM505.9 339.2h.8v.8h-.8zM506.3 343.0h.8v.8h-.8zM495.6 341.5h.8v.8h-.8zM482.3 346.7h.8v.8h-.8zM487.1 338.7h.8v.8h-.8zM494.6 341.6h.8v.8h-.8zM498.0 342.5h.8v.8h-.8zM505.0 350.0h.8v.8h-.8zM493.3 347.5h.8v.8h-.8zM480.9 355.2h.8v.8h-.8zM498.3 333.9h.8v.8h-.8zM493.8 352.3h.8v.8h-.8zM506.3 336.5h.8v.8h-.8zM489.7 349.6h.8v.8h-.8zM497.8 334.4h.8v.8h-.8zM484.4 344.9h.8v.8h-.8zM490.5 355.8h.8v.8h-.8zM489.8 340.5h.8v.8h-.8zM492.2 357.4h.8v.8h-.8zM502.3 350.5h.8v.8h-.8zM491.2 349.6h.8v.8h-.8zM502.1 344.9h.8v.8h-.8zM484.3 340.9h.8v.8h-.8zM500.9 342.0h.8v.8h-.8z" fill-opacity="0.091"/>
<path d="M487.3 333.7h.8v.8h-.8zM496.8 333.7h.8v.8h-.8zM499.5 354.7h.8v.8h-.8zM505.8 345.5h.8v.8h-.8zM508.2 355.7h.8v.8h-.8zM493.5 335.2h.8v.8h-.8zM508.9 333.6h.8v.8h-.8zM506.0 352.4h.8v.8h-.8zM507.1 349.1h.8v.8h-.8zM494.1 357.7h.8v.8h-.8zM490.7 354.4h.8v.8h-.8zM509.4 336.8h.8v.8h-.8zM507.5 353.6h.8v.8h-.8zM485.6 347.0h.8v.8h-.8zM506.0 357.0h.8v.8h-.8zM503.1 339.4h.8v.8h-.8zM509.0 340.9h.8v.8h-.8zM488.6 351.6h.8v.8h-.8zM500.9 349.9h.8v.8h-.8zM494.2 340.0h.8v.8h-.8zM497.5 335.5h.8v.8h-.8zM488.0 348.5h.8v.8h-.8zM483.1 357.4h.8v.8h-.8zM492.0 347.0h.8v.8h-.8zM505.5 346.3h.8v.8h-.8zM500.8 353.0h.8v.8h-.8zM508.5 343.7h.8v.8h-.8zM500.2 357.0h.8v.8h-.8zM483.9 341.8h.8v.8h-.8zM497.3 343.8h.8v.8h-.8zM507.3 348.0h.8v.8h-.8zM498.0 338.7h.8v.8h-.8zM506.4 357.6h.8v.8h-.8zM503.4 355.7h.8v.8h-.8zM483.7 347.9h.8v.8h-.8zM501.3 339.4h.8v.8h-.8zM502.5 341.3h.8v.8h-.8z" fill-opacity="0.143"/>
<path d="M494.9 338.0h.8v.8h-.8zM505.4 335.1h.8v.8h-.8zM491.5 337.5h.8v.8h-.8zM501.3 357.3h.8v.8h-.8zM501.7 348.5h.8v.8h-.8zM492.8 347.0h.8v.8h-.8zM499.4 350.2h.8v.8h-.8zM505.1 344.2h.8v.8h-.8zM483.4 355.4h.8v.8h-.8zM496.2 341.4h.8v.8h-.8zM497.2 335.4h.8v.8h-.8zM483.1 345.1h.8v.8h-.8zM493.1 349.9h.8v.8h-.8zM483.0 348.1h.8v.8h-.8zM501.6 357.3h.8v.8h-.8zM508.5 353.8h.8v.8h-.8zM503.7 341.0h.8v.8h-.8zM487.8 353.0h.8v.8h-.8zM482.5 341.4h.8v.8h-.8zM490.8 357.6h.8v.8h-.8zM497.6 339.7h.8v.8h-.8zM481.2 339.2h.8v.8h-.8zM496.2 352.9h.8v.8h-.8zM499.4 333.0h.8v.8h-.8zM505.1 351.2h.8v.8h-.8zM508.5 345.7h.8v.8h-.8zM501.2 351.5h.8v.8h-.8zM506.5 351.8h.8v.8h-.8zM497.4 346.8h.8v.8h-.8zM504.3 342.7h.8v.8h-.8zM485.5 334.9h.8v.8h-.8zM488.2 353.9h.8v.8h-.8zM490.5 350.0h.8v.8h-.8zM486.5 341.5h.8v.8h-.8zM498.0 340.4h.8v.8h-.8zM484.6 355.6h.8v.8h-.8zM509.2 349.8h.8v.8h-.8zM500.1 352.8h.8v.8h-.8zM500.2 352.2h.8v.8h-.8zM502.6 351.5h.8v.8h-.8zM485.4 343.8h.8v.8h-.8zM508.0 347.0h.8v.8h-.8zM484.2 347.7h.8v.8h-.8z" fill-opacity="0.221"/>
<ellipse cx="499.85" cy="345.90" rx="3.3" ry="10.5" fill="url(#rf)" fill-opacity="0.26"/>
<ellipse cx="500.15" cy="340.60" rx="1.5" ry="2.6" fill="url(#rg)" fill-opacity="0.82"/>
<ellipse cx="500.15" cy="350.20" rx="1.8" ry="4.8" fill="url(#rg)" fill-opacity="0.6"/>
</g></g>
<rect x="475.75" y="322.90" width="37.2" height="37.3" rx="0.8" fill="none" stroke="#000" stroke-width="1.25"/>
<text x="470.05" y="328.60" font-size="4.8" text-anchor="end" textLength="5.90" lengthAdjust="spacingAndGlyphs" stroke="#222" stroke-width="0.12">10</text>
<text x="470.25" y="326.30" font-size="3.0" textLength="1.50" lengthAdjust="spacingAndGlyphs">4</text>
<text x="470.05" y="338.50" font-size="4.8" text-anchor="end" textLength="5.90" lengthAdjust="spacingAndGlyphs" stroke="#222" stroke-width="0.12">10</text>
<text x="470.25" y="336.20" font-size="3.0" textLength="1.50" lengthAdjust="spacingAndGlyphs">3</text>
<text x="470.05" y="348.00" font-size="4.8" text-anchor="end" textLength="5.90" lengthAdjust="spacingAndGlyphs" stroke="#222" stroke-width="0.12">10</text>
<text x="470.25" y="345.70" font-size="3.0" textLength="1.50" lengthAdjust="spacingAndGlyphs">2</text>
<text transform="translate(471.55,351.60) rotate(-60)" font-size="4.6" text-anchor="middle" dy="1.6" fill="#222">0</text>
<text x="470.05" y="359.80" font-size="4.8" text-anchor="end" textLength="8.40" lengthAdjust="spacingAndGlyphs" stroke="#222" stroke-width="0.12">-10</text>
<text x="470.25" y="357.50" font-size="3.0" textLength="1.50" lengthAdjust="spacingAndGlyphs">2</text>
<text x="481.75" y="369.00" font-size="4.8" text-anchor="middle" textLength="2.75" lengthAdjust="spacingAndGlyphs" stroke="#222" stroke-width="0.12">0</text>
<text x="490.20" y="369.00" font-size="4.8" textLength="5.50" lengthAdjust="spacingAndGlyphs" stroke="#222" stroke-width="0.12">10</text>
<text x="496.00" y="366.70" font-size="3.0" textLength="1.50" lengthAdjust="spacingAndGlyphs">3</text>
<text x="500.30" y="369.00" font-size="4.8" textLength="5.50" lengthAdjust="spacingAndGlyphs" stroke="#222" stroke-width="0.12">10</text>
<text x="506.10" y="366.70" font-size="3.0" textLength="1.50" lengthAdjust="spacingAndGlyphs">4</text>
<text x="314.20" y="215.60" font-size="6.4" textLength="35.20" lengthAdjust="spacingAndGlyphs" stroke="#222" stroke-width="0.05">Unstimulated</text>
<text x="373.50" y="215.60" font-size="6.4" textLength="25.00" lengthAdjust="spacingAndGlyphs" stroke="#222" stroke-width="0.05">Anti-CD3</text>
<text x="424.60" y="207.70" font-size="6.4" textLength="31.40" lengthAdjust="spacingAndGlyphs" stroke="#222" stroke-width="0.05">Anti-CD3 +</text>
<text x="428.60" y="215.30" font-size="6.4" textLength="23.40" lengthAdjust="spacingAndGlyphs" stroke="#222" stroke-width="0.05">Anti-PD1</text>
<text x="479.00" y="207.70" font-size="6.4" textLength="30.00" lengthAdjust="spacingAndGlyphs" stroke="#222" stroke-width="0.05">Anti-CD3 +</text>
<text x="480.00" y="215.30" font-size="6.4" textLength="29.00" lengthAdjust="spacingAndGlyphs" stroke="#222" stroke-width="0.05">Anti-CD28</text>
<text x="293.50" y="229.80" font-size="6.4" text-anchor="end" textLength="22.40" lengthAdjust="spacingAndGlyphs" stroke="#222" stroke-width="0.05">No Drug</text>
<text x="288.90" y="273.50" font-size="6.4" text-anchor="end" textLength="27.40" lengthAdjust="spacingAndGlyphs" stroke="#222" stroke-width="0.05">Trametinib</text>
<text x="288.90" y="280.80" font-size="6.4" text-anchor="end" textLength="16.90" lengthAdjust="spacingAndGlyphs" stroke="#222" stroke-width="0.05">10 nm</text>
<text x="288.80" y="321.10" font-size="6.4" text-anchor="end" textLength="27.60" lengthAdjust="spacingAndGlyphs" stroke="#222" stroke-width="0.05">Trametinib</text>
<text x="288.80" y="328.60" font-size="6.4" text-anchor="end" textLength="20.60" lengthAdjust="spacingAndGlyphs" stroke="#222" stroke-width="0.05">100 nm</text>
<line x1="291.30" y1="248.70" x2="291.30" y2="328.60" stroke="#111" stroke-width="0.9"/>
<polygon points="291.3,244.70 288.9,250.30 293.7,250.30" fill="#111"/>
<text transform="translate(294.30,360.10) rotate(-90)" font-size="8.6" textLength="27.8" lengthAdjust="spacingAndGlyphs" fill="#222" stroke="#222" stroke-width="0.2">CD8-PerCP</text>
<text x="313.30" y="380.80" font-size="8.4" textLength="13.90" lengthAdjust="spacingAndGlyphs" stroke="#222" stroke-width="0.2">CFSE</text>
<line x1="329.90" y1="378.10" x2="457.00" y2="378.10" stroke="#111" stroke-width="0.9"/>
<polygon points="461.3,378.10 455.8,375.70 455.8,380.50" fill="#111"/>
<rect x="0.5" y="0.5" width="519" height="592" fill="none" stroke="#000" stroke-width="1"/>
</svg>
</body></html>
